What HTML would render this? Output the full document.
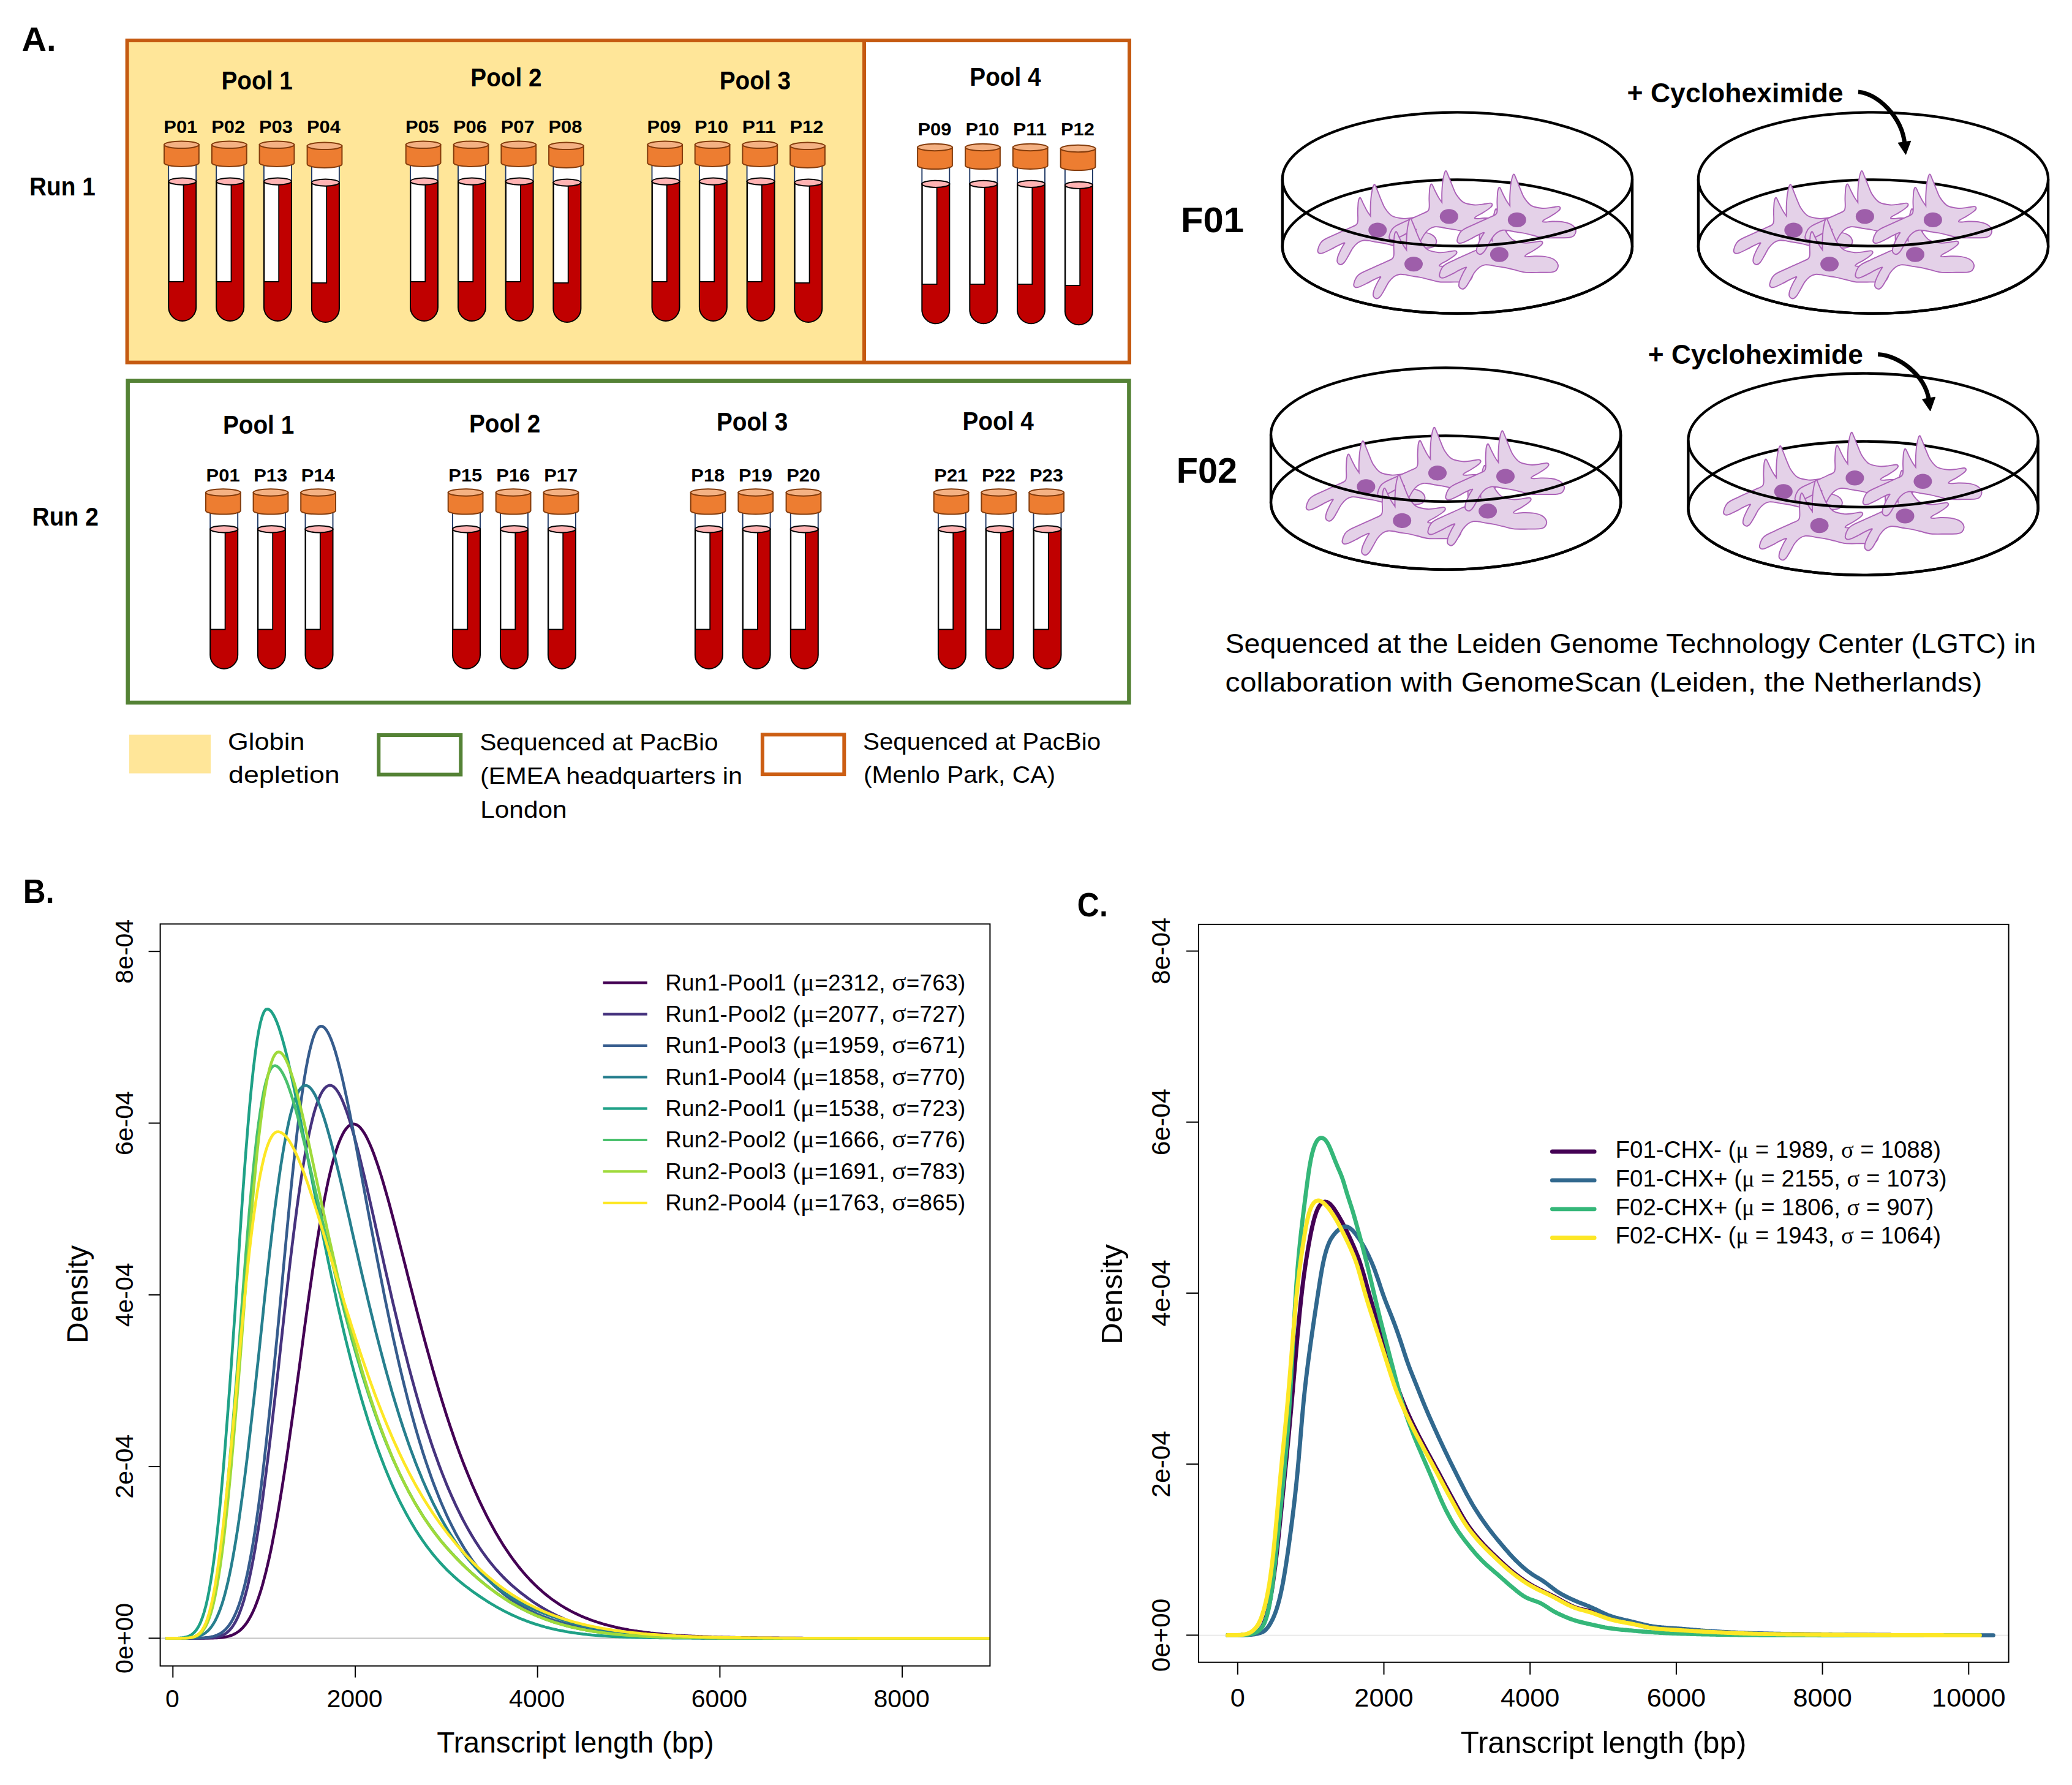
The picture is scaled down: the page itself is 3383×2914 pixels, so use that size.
<!DOCTYPE html>
<html lang="en"><head><meta charset="utf-8"><title>Figure</title>
<style>html,body{margin:0;padding:0;background:#fff}body{width:3383px;height:2914px;overflow:hidden}svg{display:block;font-family:"Liberation Sans", Arial, Helvetica, sans-serif}</style></head><body>
<svg width="3383" height="2914" viewBox="0 0 3383 2914">
<rect width="3383" height="2914" fill="#fff"/>
<defs><g id="cell"><path d="M-28.20,-52.84 C-26.83,-51.81 -24.72,-45.81 -22.87,-42.18 C-21.02,-38.56 -18.98,-34.30 -17.10,-31.08 C-15.21,-27.86 -12.66,-24.51 -11.55,-22.87 C-11.55,-26.29 -11.84,-33.78 -11.55,-39.96 C-11.25,-46.14 -10.77,-54.21 -9.77,-59.95 C-8.77,-65.68 -6.99,-73.27 -5.55,-74.38 C-4.11,-75.49 -2.96,-70.68 -1.11,-66.61 C0.74,-62.54 3.33,-55.14 5.55,-49.96 C7.77,-44.78 9.25,-39.96 12.21,-35.52 C15.17,-31.08 18.50,-26.09 23.31,-23.31 C28.12,-20.54 35.71,-19.43 41.07,-18.87 C46.44,-18.32 51.07,-19.50 55.51,-19.98 C59.95,-20.46 65.20,-21.98 67.72,-21.76 C70.23,-21.54 70.79,-19.98 70.60,-18.65 C70.42,-17.32 69.12,-15.84 66.61,-13.77 C64.09,-11.69 59.21,-8.51 55.51,-6.22 C51.81,-3.92 46.63,-1.55 44.40,0.00 C42.18,1.55 41.63,2.52 42.18,3.11 C42.74,3.70 45.15,3.63 47.74,3.55 C50.33,3.48 53.29,2.70 57.73,2.66 C62.17,2.63 69.20,2.48 74.38,3.33 C79.56,4.18 85.22,5.55 88.81,7.77 C92.40,9.99 95.17,13.69 95.91,16.65 C96.65,19.61 94.99,23.50 93.25,25.53 C91.51,27.57 89.92,28.23 85.48,28.86 C81.04,29.49 73.82,29.27 66.61,29.31 C59.39,29.34 49.22,29.83 42.18,29.09 C35.15,28.35 29.79,26.12 24.42,24.87 C19.06,23.61 14.80,22.46 9.99,21.54 C5.18,20.61 -0.37,20.02 -4.44,19.32 C-8.51,18.61 -11.29,17.72 -14.43,17.32 C-17.58,16.91 -20.35,16.32 -23.31,16.87 C-26.27,17.43 -29.34,18.58 -32.19,20.65 C-35.04,22.72 -37.82,25.72 -40.41,29.31 C-43.00,32.90 -45.40,38.26 -47.74,42.18 C-50.07,46.11 -52.29,50.47 -54.40,52.84 C-56.51,55.21 -58.50,56.51 -60.39,56.39 C-62.28,56.28 -64.98,54.36 -65.72,52.18 C-66.46,49.99 -65.87,46.81 -64.83,43.29 C-63.80,39.78 -61.06,34.30 -59.50,31.08 C-57.95,27.86 -56.47,25.68 -55.51,23.98 C-54.54,22.28 -53.29,21.17 -53.73,20.87 C-54.17,20.57 -56.02,21.31 -58.17,22.20 C-60.32,23.09 -63.72,24.72 -66.61,26.20 C-69.49,27.68 -71.79,29.23 -75.49,31.08 C-79.19,32.93 -85.48,36.19 -88.81,37.30 C-92.14,38.41 -93.99,38.48 -95.47,37.74 C-96.95,37.00 -98.06,35.60 -97.69,32.86 C-97.32,30.12 -95.10,24.24 -93.25,21.31 C-91.40,18.39 -90.85,17.80 -86.59,15.32 C-82.33,12.84 -74.56,9.58 -67.72,6.44 C-60.87,3.29 -51.07,-0.96 -45.52,-3.55 C-39.96,-6.14 -36.63,-7.07 -34.41,-9.10 C-32.19,-11.14 -32.53,-12.43 -32.19,-15.76 C-31.86,-19.09 -32.45,-25.05 -32.42,-29.09 C-32.38,-33.12 -32.19,-36.75 -31.97,-39.96 C-31.75,-43.18 -31.71,-46.26 -31.08,-48.40 C-30.45,-50.55 -29.57,-53.88 -28.20,-52.84Z" fill="#E4D1E8" stroke="#AC62B8" stroke-width="1.9"/><ellipse cx="0" cy="0" rx="15" ry="12.2" fill="#9E5EAA"/></g>
<clipPath id="clipB"><rect x="261.6" y="1508.4" width="1354.8" height="1211.2"/></clipPath>
</defs>
<rect x="207.6" y="66" width="1203.4" height="525.7" fill="#FFE699"/>
<rect x="207.6" y="66" width="1636.4" height="525.7" fill="none" stroke="#C55A11" stroke-width="6"/>
<line x1="1411" y1="66" x2="1411" y2="591.7" stroke="#C55A11" stroke-width="6"/>
<rect x="208.7" y="621.7" width="1634.7" height="525.3" fill="#fff" stroke="#548235" stroke-width="6.5"/>
<rect x="211" y="1199.5" width="133" height="63" fill="#FFE699"/>
<rect x="618.3" y="1200" width="134" height="64.5" fill="#fff" stroke="#548235" stroke-width="6"/>
<rect x="1244.9" y="1199.3" width="133.4" height="64.8" fill="#fff" stroke="#CC5E13" stroke-width="6"/>
<rect x="275.2" y="260.3" width="45.0" height="35.8" fill="#fff" stroke="#1F3864" stroke-width="1.9"/><path d="M275.2,296.1 V501.5 A22.5,22.5 0 0 0 320.2,501.5 V296.1 Z" fill="#C00000" stroke="#000" stroke-width="2"/><rect x="275.8" y="298.3" width="23.8" height="161.5" fill="#fff" stroke="#000" stroke-width="1.8"/><ellipse cx="297.8" cy="296.1" rx="22.5" ry="5.6" fill="#FFB3B3" stroke="#000" stroke-width="2"/><path d="M268.0,236.3 V266.1 A28.4,5.8 0 0 0 324.8,266.1 V236.3 Z" fill="#ED7D31" stroke="#843C0C" stroke-width="2"/><ellipse cx="296.4" cy="236.3" rx="28.4" ry="5.8" fill="#F4B183" stroke="#843C0C" stroke-width="2"/>
<text x="294.8" y="217.0" font-size="29.5" font-weight="bold" text-anchor="middle" textLength="55.0" lengthAdjust="spacingAndGlyphs" fill="#000">P01</text>
<rect x="353.2" y="260.3" width="45.0" height="35.8" fill="#fff" stroke="#1F3864" stroke-width="1.9"/><path d="M353.2,296.1 V501.5 A22.5,22.5 0 0 0 398.2,501.5 V296.1 Z" fill="#C00000" stroke="#000" stroke-width="2"/><rect x="353.7" y="298.3" width="23.8" height="161.5" fill="#fff" stroke="#000" stroke-width="1.8"/><ellipse cx="375.7" cy="296.1" rx="22.5" ry="5.6" fill="#FFB3B3" stroke="#000" stroke-width="2"/><path d="M345.9,236.3 V266.1 A28.4,5.8 0 0 0 402.7,266.1 V236.3 Z" fill="#ED7D31" stroke="#843C0C" stroke-width="2"/><ellipse cx="374.3" cy="236.3" rx="28.4" ry="5.8" fill="#F4B183" stroke="#843C0C" stroke-width="2"/>
<text x="372.7" y="217.0" font-size="29.5" font-weight="bold" text-anchor="middle" textLength="55.0" lengthAdjust="spacingAndGlyphs" fill="#000">P02</text>
<rect x="430.9" y="260.3" width="45.0" height="35.8" fill="#fff" stroke="#1F3864" stroke-width="1.9"/><path d="M430.9,296.1 V501.5 A22.5,22.5 0 0 0 475.9,501.5 V296.1 Z" fill="#C00000" stroke="#000" stroke-width="2"/><rect x="431.4" y="298.3" width="23.8" height="161.5" fill="#fff" stroke="#000" stroke-width="1.8"/><ellipse cx="453.4" cy="296.1" rx="22.5" ry="5.6" fill="#FFB3B3" stroke="#000" stroke-width="2"/><path d="M423.6,236.3 V266.1 A28.4,5.8 0 0 0 480.4,266.1 V236.3 Z" fill="#ED7D31" stroke="#843C0C" stroke-width="2"/><ellipse cx="452.0" cy="236.3" rx="28.4" ry="5.8" fill="#F4B183" stroke="#843C0C" stroke-width="2"/>
<text x="450.4" y="217.0" font-size="29.5" font-weight="bold" text-anchor="middle" textLength="55.0" lengthAdjust="spacingAndGlyphs" fill="#000">P03</text>
<rect x="508.9" y="262.3" width="45.0" height="35.8" fill="#fff" stroke="#1F3864" stroke-width="1.9"/><path d="M508.9,298.1 V503.5 A22.5,22.5 0 0 0 553.9,503.5 V298.1 Z" fill="#C00000" stroke="#000" stroke-width="2"/><rect x="509.4" y="300.3" width="23.8" height="161.5" fill="#fff" stroke="#000" stroke-width="1.8"/><ellipse cx="531.4" cy="298.1" rx="22.5" ry="5.6" fill="#FFB3B3" stroke="#000" stroke-width="2"/><path d="M501.6,238.3 V268.1 A28.4,5.8 0 0 0 558.4,268.1 V238.3 Z" fill="#ED7D31" stroke="#843C0C" stroke-width="2"/><ellipse cx="530.0" cy="238.3" rx="28.4" ry="5.8" fill="#F4B183" stroke="#843C0C" stroke-width="2"/>
<text x="528.4" y="217.0" font-size="29.5" font-weight="bold" text-anchor="middle" textLength="55.0" lengthAdjust="spacingAndGlyphs" fill="#000">P04</text>
<rect x="670.0" y="260.3" width="45.0" height="35.8" fill="#fff" stroke="#1F3864" stroke-width="1.9"/><path d="M670.0,296.1 V501.5 A22.5,22.5 0 0 0 715.0,501.5 V296.1 Z" fill="#C00000" stroke="#000" stroke-width="2"/><rect x="670.5" y="298.3" width="23.8" height="161.5" fill="#fff" stroke="#000" stroke-width="1.8"/><ellipse cx="692.5" cy="296.1" rx="22.5" ry="5.6" fill="#FFB3B3" stroke="#000" stroke-width="2"/><path d="M662.7,236.3 V266.1 A28.4,5.8 0 0 0 719.5,266.1 V236.3 Z" fill="#ED7D31" stroke="#843C0C" stroke-width="2"/><ellipse cx="691.1" cy="236.3" rx="28.4" ry="5.8" fill="#F4B183" stroke="#843C0C" stroke-width="2"/>
<text x="689.5" y="217.0" font-size="29.5" font-weight="bold" text-anchor="middle" textLength="55.0" lengthAdjust="spacingAndGlyphs" fill="#000">P05</text>
<rect x="748.0" y="260.3" width="45.0" height="35.8" fill="#fff" stroke="#1F3864" stroke-width="1.9"/><path d="M748.0,296.1 V501.5 A22.5,22.5 0 0 0 793.0,501.5 V296.1 Z" fill="#C00000" stroke="#000" stroke-width="2"/><rect x="748.5" y="298.3" width="23.8" height="161.5" fill="#fff" stroke="#000" stroke-width="1.8"/><ellipse cx="770.5" cy="296.1" rx="22.5" ry="5.6" fill="#FFB3B3" stroke="#000" stroke-width="2"/><path d="M740.7,236.3 V266.1 A28.4,5.8 0 0 0 797.5,266.1 V236.3 Z" fill="#ED7D31" stroke="#843C0C" stroke-width="2"/><ellipse cx="769.1" cy="236.3" rx="28.4" ry="5.8" fill="#F4B183" stroke="#843C0C" stroke-width="2"/>
<text x="767.5" y="217.0" font-size="29.5" font-weight="bold" text-anchor="middle" textLength="55.0" lengthAdjust="spacingAndGlyphs" fill="#000">P06</text>
<rect x="825.6" y="260.3" width="45.0" height="35.8" fill="#fff" stroke="#1F3864" stroke-width="1.9"/><path d="M825.6,296.1 V501.5 A22.5,22.5 0 0 0 870.6,501.5 V296.1 Z" fill="#C00000" stroke="#000" stroke-width="2"/><rect x="826.1" y="298.3" width="23.8" height="161.5" fill="#fff" stroke="#000" stroke-width="1.8"/><ellipse cx="848.1" cy="296.1" rx="22.5" ry="5.6" fill="#FFB3B3" stroke="#000" stroke-width="2"/><path d="M818.4,236.3 V266.1 A28.4,5.8 0 0 0 875.2,266.1 V236.3 Z" fill="#ED7D31" stroke="#843C0C" stroke-width="2"/><ellipse cx="846.8" cy="236.3" rx="28.4" ry="5.8" fill="#F4B183" stroke="#843C0C" stroke-width="2"/>
<text x="845.2" y="217.0" font-size="29.5" font-weight="bold" text-anchor="middle" textLength="55.0" lengthAdjust="spacingAndGlyphs" fill="#000">P07</text>
<rect x="903.4" y="262.3" width="45.0" height="35.8" fill="#fff" stroke="#1F3864" stroke-width="1.9"/><path d="M903.4,298.1 V503.5 A22.5,22.5 0 0 0 948.4,503.5 V298.1 Z" fill="#C00000" stroke="#000" stroke-width="2"/><rect x="903.9" y="300.3" width="23.8" height="161.5" fill="#fff" stroke="#000" stroke-width="1.8"/><ellipse cx="925.9" cy="298.1" rx="22.5" ry="5.6" fill="#FFB3B3" stroke="#000" stroke-width="2"/><path d="M896.1,238.3 V268.1 A28.4,5.8 0 0 0 952.9,268.1 V238.3 Z" fill="#ED7D31" stroke="#843C0C" stroke-width="2"/><ellipse cx="924.5" cy="238.3" rx="28.4" ry="5.8" fill="#F4B183" stroke="#843C0C" stroke-width="2"/>
<text x="922.9" y="217.0" font-size="29.5" font-weight="bold" text-anchor="middle" textLength="55.0" lengthAdjust="spacingAndGlyphs" fill="#000">P08</text>
<rect x="1064.5" y="260.3" width="45.0" height="35.8" fill="#fff" stroke="#1F3864" stroke-width="1.9"/><path d="M1064.5,296.1 V501.5 A22.5,22.5 0 0 0 1109.5,501.5 V296.1 Z" fill="#C00000" stroke="#000" stroke-width="2"/><rect x="1065.0" y="298.3" width="23.8" height="161.5" fill="#fff" stroke="#000" stroke-width="1.8"/><ellipse cx="1087.0" cy="296.1" rx="22.5" ry="5.6" fill="#FFB3B3" stroke="#000" stroke-width="2"/><path d="M1057.3,236.3 V266.1 A28.4,5.8 0 0 0 1114.1,266.1 V236.3 Z" fill="#ED7D31" stroke="#843C0C" stroke-width="2"/><ellipse cx="1085.7" cy="236.3" rx="28.4" ry="5.8" fill="#F4B183" stroke="#843C0C" stroke-width="2"/>
<text x="1084.1" y="217.0" font-size="29.5" font-weight="bold" text-anchor="middle" textLength="55.0" lengthAdjust="spacingAndGlyphs" fill="#000">P09</text>
<rect x="1141.9" y="260.3" width="45.0" height="35.8" fill="#fff" stroke="#1F3864" stroke-width="1.9"/><path d="M1141.9,296.1 V501.5 A22.5,22.5 0 0 0 1186.9,501.5 V296.1 Z" fill="#C00000" stroke="#000" stroke-width="2"/><rect x="1142.4" y="298.3" width="23.8" height="161.5" fill="#fff" stroke="#000" stroke-width="1.8"/><ellipse cx="1164.4" cy="296.1" rx="22.5" ry="5.6" fill="#FFB3B3" stroke="#000" stroke-width="2"/><path d="M1134.7,236.3 V266.1 A28.4,5.8 0 0 0 1191.5,266.1 V236.3 Z" fill="#ED7D31" stroke="#843C0C" stroke-width="2"/><ellipse cx="1163.1" cy="236.3" rx="28.4" ry="5.8" fill="#F4B183" stroke="#843C0C" stroke-width="2"/>
<text x="1161.5" y="217.0" font-size="29.5" font-weight="bold" text-anchor="middle" textLength="55.0" lengthAdjust="spacingAndGlyphs" fill="#000">P10</text>
<rect x="1219.6" y="260.3" width="45.0" height="35.8" fill="#fff" stroke="#1F3864" stroke-width="1.9"/><path d="M1219.6,296.1 V501.5 A22.5,22.5 0 0 0 1264.6,501.5 V296.1 Z" fill="#C00000" stroke="#000" stroke-width="2"/><rect x="1220.1" y="298.3" width="23.8" height="161.5" fill="#fff" stroke="#000" stroke-width="1.8"/><ellipse cx="1242.1" cy="296.1" rx="22.5" ry="5.6" fill="#FFB3B3" stroke="#000" stroke-width="2"/><path d="M1212.4,236.3 V266.1 A28.4,5.8 0 0 0 1269.2,266.1 V236.3 Z" fill="#ED7D31" stroke="#843C0C" stroke-width="2"/><ellipse cx="1240.8" cy="236.3" rx="28.4" ry="5.8" fill="#F4B183" stroke="#843C0C" stroke-width="2"/>
<text x="1239.2" y="217.0" font-size="29.5" font-weight="bold" text-anchor="middle" textLength="55.0" lengthAdjust="spacingAndGlyphs" fill="#000">P11</text>
<rect x="1297.3" y="262.3" width="45.0" height="35.8" fill="#fff" stroke="#1F3864" stroke-width="1.9"/><path d="M1297.3,298.1 V503.5 A22.5,22.5 0 0 0 1342.3,503.5 V298.1 Z" fill="#C00000" stroke="#000" stroke-width="2"/><rect x="1297.8" y="300.3" width="23.8" height="161.5" fill="#fff" stroke="#000" stroke-width="1.8"/><ellipse cx="1319.8" cy="298.1" rx="22.5" ry="5.6" fill="#FFB3B3" stroke="#000" stroke-width="2"/><path d="M1290.1,238.3 V268.1 A28.4,5.8 0 0 0 1346.9,268.1 V238.3 Z" fill="#ED7D31" stroke="#843C0C" stroke-width="2"/><ellipse cx="1318.5" cy="238.3" rx="28.4" ry="5.8" fill="#F4B183" stroke="#843C0C" stroke-width="2"/>
<text x="1316.9" y="217.0" font-size="29.5" font-weight="bold" text-anchor="middle" textLength="55.0" lengthAdjust="spacingAndGlyphs" fill="#000">P12</text>
<rect x="1505.3" y="264.5" width="45.0" height="35.8" fill="#fff" stroke="#1F3864" stroke-width="1.9"/><path d="M1505.3,300.3 V505.7 A22.5,22.5 0 0 0 1550.3,505.7 V300.3 Z" fill="#C00000" stroke="#000" stroke-width="2"/><rect x="1505.8" y="302.5" width="23.8" height="161.5" fill="#fff" stroke="#000" stroke-width="1.8"/><ellipse cx="1527.8" cy="300.3" rx="22.5" ry="5.6" fill="#FFB3B3" stroke="#000" stroke-width="2"/><path d="M1498.1,240.5 V270.3 A28.4,5.8 0 0 0 1554.9,270.3 V240.5 Z" fill="#ED7D31" stroke="#843C0C" stroke-width="2"/><ellipse cx="1526.5" cy="240.5" rx="28.4" ry="5.8" fill="#F4B183" stroke="#843C0C" stroke-width="2"/>
<text x="1525.9" y="221.2" font-size="29.5" font-weight="bold" text-anchor="middle" textLength="55.0" lengthAdjust="spacingAndGlyphs" fill="#000">P09</text>
<rect x="1583.3" y="264.5" width="45.0" height="35.8" fill="#fff" stroke="#1F3864" stroke-width="1.9"/><path d="M1583.3,300.3 V505.7 A22.5,22.5 0 0 0 1628.3,505.7 V300.3 Z" fill="#C00000" stroke="#000" stroke-width="2"/><rect x="1583.8" y="302.5" width="23.8" height="161.5" fill="#fff" stroke="#000" stroke-width="1.8"/><ellipse cx="1605.8" cy="300.3" rx="22.5" ry="5.6" fill="#FFB3B3" stroke="#000" stroke-width="2"/><path d="M1576.1,240.5 V270.3 A28.4,5.8 0 0 0 1632.9,270.3 V240.5 Z" fill="#ED7D31" stroke="#843C0C" stroke-width="2"/><ellipse cx="1604.5" cy="240.5" rx="28.4" ry="5.8" fill="#F4B183" stroke="#843C0C" stroke-width="2"/>
<text x="1603.9" y="221.2" font-size="29.5" font-weight="bold" text-anchor="middle" textLength="55.0" lengthAdjust="spacingAndGlyphs" fill="#000">P10</text>
<rect x="1661.0" y="264.5" width="45.0" height="35.8" fill="#fff" stroke="#1F3864" stroke-width="1.9"/><path d="M1661.0,300.3 V505.7 A22.5,22.5 0 0 0 1706.0,505.7 V300.3 Z" fill="#C00000" stroke="#000" stroke-width="2"/><rect x="1661.5" y="302.5" width="23.8" height="161.5" fill="#fff" stroke="#000" stroke-width="1.8"/><ellipse cx="1683.5" cy="300.3" rx="22.5" ry="5.6" fill="#FFB3B3" stroke="#000" stroke-width="2"/><path d="M1653.8,240.5 V270.3 A28.4,5.8 0 0 0 1710.6,270.3 V240.5 Z" fill="#ED7D31" stroke="#843C0C" stroke-width="2"/><ellipse cx="1682.2" cy="240.5" rx="28.4" ry="5.8" fill="#F4B183" stroke="#843C0C" stroke-width="2"/>
<text x="1681.6" y="221.2" font-size="29.5" font-weight="bold" text-anchor="middle" textLength="55.0" lengthAdjust="spacingAndGlyphs" fill="#000">P11</text>
<rect x="1738.9" y="266.5" width="45.0" height="35.8" fill="#fff" stroke="#1F3864" stroke-width="1.9"/><path d="M1738.9,302.3 V507.7 A22.5,22.5 0 0 0 1783.9,507.7 V302.3 Z" fill="#C00000" stroke="#000" stroke-width="2"/><rect x="1739.4" y="304.5" width="23.8" height="161.5" fill="#fff" stroke="#000" stroke-width="1.8"/><ellipse cx="1761.4" cy="302.3" rx="22.5" ry="5.6" fill="#FFB3B3" stroke="#000" stroke-width="2"/><path d="M1731.7,242.5 V272.3 A28.4,5.8 0 0 0 1788.5,272.3 V242.5 Z" fill="#ED7D31" stroke="#843C0C" stroke-width="2"/><ellipse cx="1760.1" cy="242.5" rx="28.4" ry="5.8" fill="#F4B183" stroke="#843C0C" stroke-width="2"/>
<text x="1759.5" y="221.2" font-size="29.5" font-weight="bold" text-anchor="middle" textLength="55.0" lengthAdjust="spacingAndGlyphs" fill="#000">P12</text>
<rect x="343.2" y="828.0" width="45.0" height="35.8" fill="#fff" stroke="#1F3864" stroke-width="1.9"/><path d="M343.2,863.8 V1069.2 A22.5,22.5 0 0 0 388.2,1069.2 V863.8 Z" fill="#C00000" stroke="#000" stroke-width="2"/><rect x="343.8" y="866.0" width="23.8" height="161.5" fill="#fff" stroke="#000" stroke-width="1.8"/><ellipse cx="365.8" cy="863.8" rx="22.5" ry="5.6" fill="#FFB3B3" stroke="#000" stroke-width="2"/><path d="M336.0,804.0 V833.8 A28.4,5.8 0 0 0 392.8,833.8 V804.0 Z" fill="#ED7D31" stroke="#843C0C" stroke-width="2"/><ellipse cx="364.4" cy="804.0" rx="28.4" ry="5.8" fill="#F4B183" stroke="#843C0C" stroke-width="2"/>
<text x="364.1" y="785.6" font-size="29.5" font-weight="bold" text-anchor="middle" textLength="55.0" lengthAdjust="spacingAndGlyphs" fill="#000">P01</text>
<rect x="420.9" y="828.0" width="45.0" height="35.8" fill="#fff" stroke="#1F3864" stroke-width="1.9"/><path d="M420.9,863.8 V1069.2 A22.5,22.5 0 0 0 465.9,1069.2 V863.8 Z" fill="#C00000" stroke="#000" stroke-width="2"/><rect x="421.4" y="866.0" width="23.8" height="161.5" fill="#fff" stroke="#000" stroke-width="1.8"/><ellipse cx="443.4" cy="863.8" rx="22.5" ry="5.6" fill="#FFB3B3" stroke="#000" stroke-width="2"/><path d="M413.6,804.0 V833.8 A28.4,5.8 0 0 0 470.4,833.8 V804.0 Z" fill="#ED7D31" stroke="#843C0C" stroke-width="2"/><ellipse cx="442.0" cy="804.0" rx="28.4" ry="5.8" fill="#F4B183" stroke="#843C0C" stroke-width="2"/>
<text x="441.7" y="785.6" font-size="29.5" font-weight="bold" text-anchor="middle" textLength="55.0" lengthAdjust="spacingAndGlyphs" fill="#000">P13</text>
<rect x="498.5" y="828.0" width="45.0" height="35.8" fill="#fff" stroke="#1F3864" stroke-width="1.9"/><path d="M498.5,863.8 V1069.2 A22.5,22.5 0 0 0 543.5,1069.2 V863.8 Z" fill="#C00000" stroke="#000" stroke-width="2"/><rect x="499.0" y="866.0" width="23.8" height="161.5" fill="#fff" stroke="#000" stroke-width="1.8"/><ellipse cx="521.0" cy="863.8" rx="22.5" ry="5.6" fill="#FFB3B3" stroke="#000" stroke-width="2"/><path d="M491.2,804.0 V833.8 A28.4,5.8 0 0 0 548.0,833.8 V804.0 Z" fill="#ED7D31" stroke="#843C0C" stroke-width="2"/><ellipse cx="519.6" cy="804.0" rx="28.4" ry="5.8" fill="#F4B183" stroke="#843C0C" stroke-width="2"/>
<text x="519.3" y="785.6" font-size="29.5" font-weight="bold" text-anchor="middle" textLength="55.0" lengthAdjust="spacingAndGlyphs" fill="#000">P14</text>
<rect x="739.0" y="828.0" width="45.0" height="35.8" fill="#fff" stroke="#1F3864" stroke-width="1.9"/><path d="M739.0,863.8 V1069.2 A22.5,22.5 0 0 0 784.0,1069.2 V863.8 Z" fill="#C00000" stroke="#000" stroke-width="2"/><rect x="739.5" y="866.0" width="23.8" height="161.5" fill="#fff" stroke="#000" stroke-width="1.8"/><ellipse cx="761.5" cy="863.8" rx="22.5" ry="5.6" fill="#FFB3B3" stroke="#000" stroke-width="2"/><path d="M731.7,804.0 V833.8 A28.4,5.8 0 0 0 788.5,833.8 V804.0 Z" fill="#ED7D31" stroke="#843C0C" stroke-width="2"/><ellipse cx="760.1" cy="804.0" rx="28.4" ry="5.8" fill="#F4B183" stroke="#843C0C" stroke-width="2"/>
<text x="759.8" y="785.6" font-size="29.5" font-weight="bold" text-anchor="middle" textLength="55.0" lengthAdjust="spacingAndGlyphs" fill="#000">P15</text>
<rect x="817.0" y="828.0" width="45.0" height="35.8" fill="#fff" stroke="#1F3864" stroke-width="1.9"/><path d="M817.0,863.8 V1069.2 A22.5,22.5 0 0 0 862.0,1069.2 V863.8 Z" fill="#C00000" stroke="#000" stroke-width="2"/><rect x="817.5" y="866.0" width="23.8" height="161.5" fill="#fff" stroke="#000" stroke-width="1.8"/><ellipse cx="839.5" cy="863.8" rx="22.5" ry="5.6" fill="#FFB3B3" stroke="#000" stroke-width="2"/><path d="M809.7,804.0 V833.8 A28.4,5.8 0 0 0 866.5,833.8 V804.0 Z" fill="#ED7D31" stroke="#843C0C" stroke-width="2"/><ellipse cx="838.1" cy="804.0" rx="28.4" ry="5.8" fill="#F4B183" stroke="#843C0C" stroke-width="2"/>
<text x="837.8" y="785.6" font-size="29.5" font-weight="bold" text-anchor="middle" textLength="55.0" lengthAdjust="spacingAndGlyphs" fill="#000">P16</text>
<rect x="894.9" y="828.0" width="45.0" height="35.8" fill="#fff" stroke="#1F3864" stroke-width="1.9"/><path d="M894.9,863.8 V1069.2 A22.5,22.5 0 0 0 939.9,1069.2 V863.8 Z" fill="#C00000" stroke="#000" stroke-width="2"/><rect x="895.4" y="866.0" width="23.8" height="161.5" fill="#fff" stroke="#000" stroke-width="1.8"/><ellipse cx="917.4" cy="863.8" rx="22.5" ry="5.6" fill="#FFB3B3" stroke="#000" stroke-width="2"/><path d="M887.6,804.0 V833.8 A28.4,5.8 0 0 0 944.4,833.8 V804.0 Z" fill="#ED7D31" stroke="#843C0C" stroke-width="2"/><ellipse cx="916.0" cy="804.0" rx="28.4" ry="5.8" fill="#F4B183" stroke="#843C0C" stroke-width="2"/>
<text x="915.7" y="785.6" font-size="29.5" font-weight="bold" text-anchor="middle" textLength="55.0" lengthAdjust="spacingAndGlyphs" fill="#000">P17</text>
<rect x="1134.9" y="828.0" width="45.0" height="35.8" fill="#fff" stroke="#1F3864" stroke-width="1.9"/><path d="M1134.9,863.8 V1069.2 A22.5,22.5 0 0 0 1179.9,1069.2 V863.8 Z" fill="#C00000" stroke="#000" stroke-width="2"/><rect x="1135.4" y="866.0" width="23.8" height="161.5" fill="#fff" stroke="#000" stroke-width="1.8"/><ellipse cx="1157.4" cy="863.8" rx="22.5" ry="5.6" fill="#FFB3B3" stroke="#000" stroke-width="2"/><path d="M1127.7,804.0 V833.8 A28.4,5.8 0 0 0 1184.5,833.8 V804.0 Z" fill="#ED7D31" stroke="#843C0C" stroke-width="2"/><ellipse cx="1156.1" cy="804.0" rx="28.4" ry="5.8" fill="#F4B183" stroke="#843C0C" stroke-width="2"/>
<text x="1155.8" y="785.6" font-size="29.5" font-weight="bold" text-anchor="middle" textLength="55.0" lengthAdjust="spacingAndGlyphs" fill="#000">P18</text>
<rect x="1212.6" y="828.0" width="45.0" height="35.8" fill="#fff" stroke="#1F3864" stroke-width="1.9"/><path d="M1212.6,863.8 V1069.2 A22.5,22.5 0 0 0 1257.6,1069.2 V863.8 Z" fill="#C00000" stroke="#000" stroke-width="2"/><rect x="1213.1" y="866.0" width="23.8" height="161.5" fill="#fff" stroke="#000" stroke-width="1.8"/><ellipse cx="1235.1" cy="863.8" rx="22.5" ry="5.6" fill="#FFB3B3" stroke="#000" stroke-width="2"/><path d="M1205.4,804.0 V833.8 A28.4,5.8 0 0 0 1262.2,833.8 V804.0 Z" fill="#ED7D31" stroke="#843C0C" stroke-width="2"/><ellipse cx="1233.8" cy="804.0" rx="28.4" ry="5.8" fill="#F4B183" stroke="#843C0C" stroke-width="2"/>
<text x="1233.5" y="785.6" font-size="29.5" font-weight="bold" text-anchor="middle" textLength="55.0" lengthAdjust="spacingAndGlyphs" fill="#000">P19</text>
<rect x="1290.8" y="828.0" width="45.0" height="35.8" fill="#fff" stroke="#1F3864" stroke-width="1.9"/><path d="M1290.8,863.8 V1069.2 A22.5,22.5 0 0 0 1335.8,1069.2 V863.8 Z" fill="#C00000" stroke="#000" stroke-width="2"/><rect x="1291.3" y="866.0" width="23.8" height="161.5" fill="#fff" stroke="#000" stroke-width="1.8"/><ellipse cx="1313.3" cy="863.8" rx="22.5" ry="5.6" fill="#FFB3B3" stroke="#000" stroke-width="2"/><path d="M1283.6,804.0 V833.8 A28.4,5.8 0 0 0 1340.4,833.8 V804.0 Z" fill="#ED7D31" stroke="#843C0C" stroke-width="2"/><ellipse cx="1312.0" cy="804.0" rx="28.4" ry="5.8" fill="#F4B183" stroke="#843C0C" stroke-width="2"/>
<text x="1311.7" y="785.6" font-size="29.5" font-weight="bold" text-anchor="middle" textLength="55.0" lengthAdjust="spacingAndGlyphs" fill="#000">P20</text>
<rect x="1531.9" y="828.0" width="45.0" height="35.8" fill="#fff" stroke="#1F3864" stroke-width="1.9"/><path d="M1531.9,863.8 V1069.2 A22.5,22.5 0 0 0 1576.9,1069.2 V863.8 Z" fill="#C00000" stroke="#000" stroke-width="2"/><rect x="1532.4" y="866.0" width="23.8" height="161.5" fill="#fff" stroke="#000" stroke-width="1.8"/><ellipse cx="1554.4" cy="863.8" rx="22.5" ry="5.6" fill="#FFB3B3" stroke="#000" stroke-width="2"/><path d="M1524.7,804.0 V833.8 A28.4,5.8 0 0 0 1581.5,833.8 V804.0 Z" fill="#ED7D31" stroke="#843C0C" stroke-width="2"/><ellipse cx="1553.1" cy="804.0" rx="28.4" ry="5.8" fill="#F4B183" stroke="#843C0C" stroke-width="2"/>
<text x="1552.8" y="785.6" font-size="29.5" font-weight="bold" text-anchor="middle" textLength="55.0" lengthAdjust="spacingAndGlyphs" fill="#000">P21</text>
<rect x="1609.6" y="828.0" width="45.0" height="35.8" fill="#fff" stroke="#1F3864" stroke-width="1.9"/><path d="M1609.6,863.8 V1069.2 A22.5,22.5 0 0 0 1654.6,1069.2 V863.8 Z" fill="#C00000" stroke="#000" stroke-width="2"/><rect x="1610.1" y="866.0" width="23.8" height="161.5" fill="#fff" stroke="#000" stroke-width="1.8"/><ellipse cx="1632.1" cy="863.8" rx="22.5" ry="5.6" fill="#FFB3B3" stroke="#000" stroke-width="2"/><path d="M1602.4,804.0 V833.8 A28.4,5.8 0 0 0 1659.2,833.8 V804.0 Z" fill="#ED7D31" stroke="#843C0C" stroke-width="2"/><ellipse cx="1630.8" cy="804.0" rx="28.4" ry="5.8" fill="#F4B183" stroke="#843C0C" stroke-width="2"/>
<text x="1630.5" y="785.6" font-size="29.5" font-weight="bold" text-anchor="middle" textLength="55.0" lengthAdjust="spacingAndGlyphs" fill="#000">P22</text>
<rect x="1687.5" y="828.0" width="45.0" height="35.8" fill="#fff" stroke="#1F3864" stroke-width="1.9"/><path d="M1687.5,863.8 V1069.2 A22.5,22.5 0 0 0 1732.5,1069.2 V863.8 Z" fill="#C00000" stroke="#000" stroke-width="2"/><rect x="1688.0" y="866.0" width="23.8" height="161.5" fill="#fff" stroke="#000" stroke-width="1.8"/><ellipse cx="1710.0" cy="863.8" rx="22.5" ry="5.6" fill="#FFB3B3" stroke="#000" stroke-width="2"/><path d="M1680.3,804.0 V833.8 A28.4,5.8 0 0 0 1737.1,833.8 V804.0 Z" fill="#ED7D31" stroke="#843C0C" stroke-width="2"/><ellipse cx="1708.7" cy="804.0" rx="28.4" ry="5.8" fill="#F4B183" stroke="#843C0C" stroke-width="2"/>
<text x="1708.4" y="785.6" font-size="29.5" font-weight="bold" text-anchor="middle" textLength="55.0" lengthAdjust="spacingAndGlyphs" fill="#000">P23</text>
<text x="35.6" y="82.7" font-size="55" font-weight="bold" textLength="56.0" lengthAdjust="spacingAndGlyphs" fill="#000">A.</text>
<text x="48.0" y="318.6" font-size="42" font-weight="bold" textLength="107.7" lengthAdjust="spacingAndGlyphs" fill="#000">Run 1</text>
<text x="52.5" y="858.0" font-size="42" font-weight="bold" textLength="108.5" lengthAdjust="spacingAndGlyphs" fill="#000">Run 2</text>
<text x="361.5" y="145.5" font-size="42" font-weight="bold" textLength="116.3" lengthAdjust="spacingAndGlyphs" fill="#000">Pool 1</text>
<text x="768.3" y="141.0" font-size="42" font-weight="bold" textLength="116.3" lengthAdjust="spacingAndGlyphs" fill="#000">Pool 2</text>
<text x="1174.7" y="145.5" font-size="42" font-weight="bold" textLength="116.3" lengthAdjust="spacingAndGlyphs" fill="#000">Pool 3</text>
<text x="1583.3" y="139.5" font-size="42" font-weight="bold" textLength="116.3" lengthAdjust="spacingAndGlyphs" fill="#000">Pool 4</text>
<text x="363.9" y="708.0" font-size="42" font-weight="bold" textLength="116.3" lengthAdjust="spacingAndGlyphs" fill="#000">Pool 1</text>
<text x="765.9" y="706.0" font-size="42" font-weight="bold" textLength="116.3" lengthAdjust="spacingAndGlyphs" fill="#000">Pool 2</text>
<text x="1169.9" y="703.0" font-size="42" font-weight="bold" textLength="116.3" lengthAdjust="spacingAndGlyphs" fill="#000">Pool 3</text>
<text x="1571.5" y="702.0" font-size="42" font-weight="bold" textLength="116.3" lengthAdjust="spacingAndGlyphs" fill="#000">Pool 4</text>
<text x="372.0" y="1223.9" font-size="39.5" textLength="125.4" lengthAdjust="spacingAndGlyphs" fill="#000">Globin</text>
<text x="373.0" y="1278.1" font-size="39.5" textLength="181.7" lengthAdjust="spacingAndGlyphs" fill="#000">depletion</text>
<text x="783.4" y="1225.0" font-size="39.5" textLength="389.1" lengthAdjust="spacingAndGlyphs" fill="#000">Sequenced at PacBio</text>
<text x="783.9" y="1280.0" font-size="39.5" textLength="428.2" lengthAdjust="spacingAndGlyphs" fill="#000">(EMEA headquarters in</text>
<text x="784.2" y="1334.8" font-size="39.5" textLength="141.4" lengthAdjust="spacingAndGlyphs" fill="#000">London</text>
<text x="1409.0" y="1223.9" font-size="39.5" textLength="388.1" lengthAdjust="spacingAndGlyphs" fill="#000">Sequenced at PacBio</text>
<text x="1410.0" y="1278.1" font-size="39.5" textLength="313.0" lengthAdjust="spacingAndGlyphs" fill="#000">(Menlo Park, CA)</text>
<text x="1928.0" y="378.5" font-size="57" font-weight="bold" textLength="103.0" lengthAdjust="spacingAndGlyphs" fill="#000">F01</text>
<text x="1920.8" y="788.4" font-size="57" font-weight="bold" textLength="99.4" lengthAdjust="spacingAndGlyphs" fill="#000">F02</text>
<text x="2656.5" y="167.3" font-size="45" font-weight="bold" textLength="353.0" lengthAdjust="spacingAndGlyphs" fill="#000">+ Cycloheximide</text>
<text x="2690.8" y="593.7" font-size="45" font-weight="bold" textLength="351.0" lengthAdjust="spacingAndGlyphs" fill="#000">+ Cycloheximide</text>
<text x="2000.6" y="1065.6" font-size="45" textLength="1323.6" lengthAdjust="spacingAndGlyphs" fill="#000">Sequenced at the Leiden Genome Technology Center (LGTC) in</text>
<text x="2000.6" y="1128.8" font-size="45" textLength="1235.6" lengthAdjust="spacingAndGlyphs" fill="#000">collaboration with GenomeScan (Leiden, the Netherlands)</text>
<ellipse cx="2379.4" cy="402.5" rx="285.6" ry="109.2" fill="none" stroke="#000" stroke-width="4.3"/>
<use href="#cell" x="2249.2" y="375.6"/>
<use href="#cell" x="2365.8" y="353.4"/>
<use href="#cell" x="2308.0" y="431.1"/>
<use href="#cell" x="2447.9" y="415.5"/>
<use href="#cell" x="2476.8" y="358.9"/>
<g fill="none" stroke="#000" stroke-width="4.3"><ellipse cx="2379.4" cy="292.5" rx="285.6" ry="109.2"/><line x1="2093.8" y1="292.5" x2="2093.8" y2="402.5"/><line x1="2665.0" y1="292.5" x2="2665.0" y2="402.5"/><path d="M2093.8,402.5 A285.6,109.2 0 0 0 2665.0,402.5"/></g>
<ellipse cx="3058.5" cy="402.5" rx="285.6" ry="109.2" fill="none" stroke="#000" stroke-width="4.3"/>
<use href="#cell" x="2928.3" y="375.6"/>
<use href="#cell" x="3044.9" y="353.4"/>
<use href="#cell" x="2987.1" y="431.1"/>
<use href="#cell" x="3127.0" y="415.5"/>
<use href="#cell" x="3155.9" y="358.9"/>
<g fill="none" stroke="#000" stroke-width="4.3"><ellipse cx="3058.5" cy="292.5" rx="285.6" ry="109.2"/><line x1="2772.9" y1="292.5" x2="2772.9" y2="402.5"/><line x1="3344.1" y1="292.5" x2="3344.1" y2="402.5"/><path d="M2772.9,402.5 A285.6,109.2 0 0 0 3344.1,402.5"/></g>
<ellipse cx="2360.6" cy="820.6" rx="285.6" ry="109.2" fill="none" stroke="#000" stroke-width="4.3"/>
<use href="#cell" x="2230.4" y="794.4"/>
<use href="#cell" x="2347.0" y="772.2"/>
<use href="#cell" x="2289.2" y="849.9"/>
<use href="#cell" x="2429.1" y="834.3"/>
<use href="#cell" x="2458.0" y="777.7"/>
<g fill="none" stroke="#000" stroke-width="4.3"><ellipse cx="2360.6" cy="709.6" rx="285.6" ry="109.2"/><line x1="2075.0" y1="709.6" x2="2075.0" y2="820.6"/><line x1="2646.2" y1="709.6" x2="2646.2" y2="820.6"/><path d="M2075.0,820.6 A285.6,109.2 0 0 0 2646.2,820.6"/></g>
<ellipse cx="3042" cy="829.7" rx="285.6" ry="109.2" fill="none" stroke="#000" stroke-width="4.3"/>
<use href="#cell" x="2911.8" y="802.5"/>
<use href="#cell" x="3028.4" y="780.3"/>
<use href="#cell" x="2970.6" y="858.0"/>
<use href="#cell" x="3110.5" y="842.4"/>
<use href="#cell" x="3139.4" y="785.8"/>
<g fill="none" stroke="#000" stroke-width="4.3"><ellipse cx="3042" cy="718.7" rx="285.6" ry="109.2"/><line x1="2756.4" y1="718.7" x2="2756.4" y2="829.7"/><line x1="3327.6" y1="718.7" x2="3327.6" y2="829.7"/><path d="M2756.4,829.7 A285.6,109.2 0 0 0 3327.6,829.7"/></g>
<path d="M3034,150 C3064,152 3106,190 3110,236" fill="none" stroke="#000" stroke-width="7"/>
<path d="M3099.5,233.4 L3119.3,230.5 L3111.5,251.7 Z" fill="#000" stroke="#000" stroke-width="1.5" stroke-linejoin="round"/>
<path d="M3066.2,578.6 C3100,580 3143,612 3149.5,653" fill="none" stroke="#000" stroke-width="7"/>
<path d="M3139.1,652 L3159.3,648.6 L3151.6,670.3 Z" fill="#000" stroke="#000" stroke-width="1.5" stroke-linejoin="round"/>
<line x1="261.6" y1="2674.4" x2="1616.4" y2="2674.4" stroke="#BEBEBE" stroke-width="1.6"/>
<g clip-path="url(#clipB)" fill="none" stroke-width="4.6" stroke-linejoin="round">
<path d="M270.4,2674.4 L273.4,2674.4 L276.3,2674.4 L279.3,2674.4 L282.3,2674.4 L285.3,2674.4 L288.3,2674.4 L291.2,2674.4 L294.2,2674.4 L297.2,2674.4 L300.2,2674.4 L303.1,2674.4 L306.1,2674.4 L309.1,2674.4 L312.1,2674.4 L315.0,2674.4 L318.0,2674.4 L321.0,2674.4 L324.0,2674.4 L327.0,2674.4 L329.9,2674.4 L332.9,2674.4 L335.9,2674.3 L338.9,2674.3 L341.8,2674.3 L344.8,2674.2 L347.8,2674.1 L350.8,2674.0 L353.7,2673.9 L356.7,2673.7 L359.7,2673.5 L362.7,2673.1 L365.7,2672.7 L368.6,2672.2 L371.6,2671.6 L374.6,2670.8 L377.6,2669.8 L380.5,2668.6 L383.5,2667.2 L386.5,2665.4 L389.5,2663.4 L392.4,2661.0 L395.4,2658.2 L398.4,2654.9 L401.4,2651.2 L404.4,2646.9 L407.3,2642.0 L410.3,2636.6 L413.3,2630.4 L416.3,2623.6 L419.2,2616.1 L422.2,2607.8 L425.2,2598.7 L428.2,2588.8 L431.1,2578.0 L434.1,2566.5 L437.1,2554.0 L440.1,2540.8 L443.1,2526.7 L446.0,2511.8 L449.0,2496.1 L452.0,2479.7 L455.0,2462.5 L457.9,2444.6 L460.9,2426.1 L463.9,2406.9 L466.9,2387.3 L469.9,2367.1 L472.8,2346.5 L475.8,2325.6 L478.8,2304.3 L481.8,2282.9 L484.7,2261.3 L487.7,2239.6 L490.7,2217.1 L493.7,2194.8 L496.6,2172.6 L499.6,2150.7 L502.6,2129.1 L505.6,2107.8 L508.6,2087.1 L511.5,2066.8 L514.5,2047.2 L517.5,2028.2 L520.5,2009.8 L523.4,1992.3 L526.4,1975.5 L529.4,1959.6 L532.4,1944.6 L535.3,1930.4 L538.3,1917.2 L541.3,1905.0 L544.3,1893.7 L547.3,1883.4 L550.2,1874.1 L553.2,1865.8 L556.2,1858.5 L559.2,1852.2 L562.1,1846.9 L565.1,1842.6 L568.1,1839.3 L571.1,1836.9 L574.0,1835.4 L577.0,1834.9 L580.0,1835.3 L583.0,1836.6 L586.0,1838.7 L588.9,1841.7 L591.9,1845.5 L594.9,1850.0 L597.9,1855.2 L600.8,1861.1 L603.8,1867.6 L606.8,1874.6 L609.8,1882.3 L612.7,1890.4 L615.7,1899.0 L618.7,1908.0 L621.7,1917.4 L624.7,1927.1 L627.6,1937.2 L630.6,1947.6 L633.6,1958.2 L636.6,1969.1 L639.5,1980.1 L642.5,1991.4 L645.5,2002.8 L648.5,2014.3 L651.4,2025.9 L654.4,2037.5 L657.4,2049.3 L660.4,2061.0 L663.4,2072.8 L666.3,2084.5 L669.3,2096.1 L672.3,2107.7 L675.3,2119.3 L678.2,2130.8 L681.2,2142.2 L684.2,2153.6 L687.2,2164.8 L690.1,2176.0 L693.1,2187.1 L696.1,2198.1 L699.1,2208.9 L702.1,2219.6 L705.0,2230.2 L708.0,2240.7 L711.0,2251.0 L714.0,2261.1 L716.9,2271.1 L719.9,2280.9 L722.9,2290.6 L725.9,2300.1 L728.8,2309.5 L731.8,2318.6 L734.8,2327.7 L737.8,2336.5 L740.8,2345.2 L743.7,2353.7 L746.7,2362.0 L749.7,2370.2 L752.7,2378.2 L755.6,2386.0 L758.6,2393.7 L761.6,2401.2 L764.6,2408.5 L767.6,2415.7 L770.5,2422.8 L773.5,2429.7 L776.5,2436.4 L779.5,2443.0 L782.4,2449.5 L785.4,2455.8 L788.4,2462.0 L791.4,2468.1 L794.3,2474.0 L797.3,2479.8 L800.3,2485.4 L803.3,2490.9 L806.3,2496.3 L809.2,2501.6 L812.2,2506.7 L815.2,2511.7 L818.2,2516.6 L821.1,2521.4 L824.1,2526.0 L827.1,2530.5 L830.1,2534.9 L833.0,2539.2 L836.0,2543.4 L839.0,2547.5 L842.0,2551.4 L845.0,2555.3 L847.9,2559.0 L850.9,2562.7 L853.9,2566.2 L856.9,2569.7 L859.8,2573.0 L862.8,2576.3 L865.8,2579.5 L868.8,2582.5 L871.7,2585.5 L874.7,2588.4 L877.7,2591.2 L880.7,2594.0 L883.7,2596.6 L886.6,2599.2 L889.6,2601.7 L892.6,2604.1 L895.6,2606.5 L898.5,2608.8 L901.5,2611.0 L904.5,2613.1 L907.5,2615.2 L910.4,2617.2 L913.4,2619.2 L916.4,2621.1 L919.4,2622.9 L922.4,2624.7 L925.3,2626.4 L928.3,2628.0 L931.3,2629.7 L934.3,2631.2 L937.2,2632.7 L940.2,2634.2 L943.2,2635.6 L946.2,2637.0 L949.1,2638.3 L952.1,2639.6 L955.1,2640.8 L958.1,2642.0 L961.1,2643.2 L964.0,2644.3 L967.0,2645.4 L970.0,2646.4 L973.0,2647.4 L975.9,2648.4 L978.9,2649.3 L981.9,2650.2 L984.9,2651.1 L987.8,2652.0 L990.8,2652.8 L993.8,2653.6 L996.8,2654.3 L999.8,2655.1 L1002.7,2655.8 L1005.7,2656.5 L1008.7,2657.2 L1011.7,2657.8 L1014.6,2658.4 L1017.6,2659.0 L1020.6,2659.6 L1023.6,2660.1 L1026.5,2660.7 L1029.5,2661.2 L1032.5,2661.7 L1035.5,2662.2 L1038.5,2662.6 L1041.4,2663.1 L1044.4,2663.5 L1047.4,2663.9 L1050.4,2664.3 L1053.3,2664.7 L1056.3,2665.1 L1059.3,2665.4 L1062.3,2665.8 L1065.3,2666.1 L1068.2,2666.4 L1071.2,2666.7 L1074.2,2667.0 L1077.2,2667.3 L1080.1,2667.6 L1083.1,2667.9 L1086.1,2668.1 L1089.1,2668.4 L1092.0,2668.6 L1095.0,2668.8 L1098.0,2669.1 L1101.0,2669.3 L1104.0,2669.5 L1106.9,2669.7 L1109.9,2669.9 L1112.9,2670.0 L1115.9,2670.2 L1118.8,2670.4 L1121.8,2670.5 L1124.8,2670.7 L1127.8,2670.8 L1130.7,2671.0 L1133.7,2671.1 L1136.7,2671.3 L1139.7,2671.4 L1142.7,2671.5 L1145.6,2671.6 L1148.6,2671.7 L1151.6,2671.8 L1154.6,2671.9 L1157.5,2672.0 L1160.5,2672.1 L1163.5,2672.2 L1166.5,2672.3 L1169.4,2672.4 L1172.4,2672.5 L1175.4,2672.6 L1178.4,2672.6 L1181.4,2672.7 L1184.3,2672.8 L1187.3,2672.9 L1190.3,2672.9 L1193.3,2673.0 L1196.2,2673.0 L1199.2,2673.1 L1202.2,2673.2 L1205.2,2673.2 L1208.1,2673.3 L1211.1,2673.3 L1214.1,2673.3 L1217.1,2673.4 L1220.1,2673.4 L1223.0,2673.5 L1226.0,2673.5 L1229.0,2673.6 L1232.0,2673.6 L1234.9,2673.6 L1237.9,2673.7 L1240.9,2673.7 L1243.9,2673.7 L1246.8,2673.7 L1249.8,2673.8 L1252.8,2673.8 L1255.8,2673.8 L1258.8,2673.9 L1261.7,2673.9 L1264.7,2673.9 L1267.7,2673.9 L1270.7,2673.9 L1273.6,2674.0 L1276.6,2674.0 L1279.6,2674.0 L1282.6,2674.0 L1285.5,2674.0 L1288.5,2674.0 L1291.5,2674.1 L1294.5,2674.1 L1297.5,2674.1 L1300.4,2674.1 L1303.4,2674.1 L1306.4,2674.1 L1309.4,2674.1 L1312.3,2674.2 L1315.3,2674.2 L1318.3,2674.2 L1321.3,2674.2 L1324.2,2674.2 L1327.2,2674.2 L1330.2,2674.2 L1333.2,2674.2 L1336.2,2674.2 L1339.1,2674.2 L1342.1,2674.2 L1345.1,2674.3 L1348.1,2674.3 L1351.0,2674.3 L1354.0,2674.3 L1357.0,2674.3 L1360.0,2674.3 L1363.0,2674.3 L1365.9,2674.3 L1368.9,2674.3 L1371.9,2674.3 L1374.9,2674.3 L1377.8,2674.3 L1380.8,2674.3 L1383.8,2674.3 L1386.8,2674.3 L1389.7,2674.3 L1392.7,2674.3 L1395.7,2674.3 L1398.7,2674.3 L1401.7,2674.3 L1404.6,2674.3 L1407.6,2674.3 L1410.6,2674.3 L1413.6,2674.3 L1416.5,2674.4 L1419.5,2674.4 L1422.5,2674.4 L1425.5,2674.4 L1428.4,2674.4 L1431.4,2674.4 L1434.4,2674.4 L1437.4,2674.4 L1440.4,2674.4 L1443.3,2674.4 L1446.3,2674.4 L1449.3,2674.4 L1452.3,2674.4 L1455.2,2674.4 L1458.2,2674.4 L1461.2,2674.4 L1464.2,2674.4 L1467.1,2674.4 L1470.1,2674.4 L1473.1,2674.4 L1476.1,2674.4 L1479.1,2674.4 L1482.0,2674.4 L1485.0,2674.4 L1488.0,2674.4 L1491.0,2674.4 L1493.9,2674.4 L1496.9,2674.4 L1499.9,2674.4 L1502.9,2674.4 L1505.8,2674.4 L1508.8,2674.4 L1511.8,2674.4 L1514.8,2674.4 L1517.8,2674.4 L1520.7,2674.4 L1523.7,2674.4 L1526.7,2674.4 L1529.7,2674.4 L1532.6,2674.4 L1535.6,2674.4 L1538.6,2674.4 L1541.6,2674.4 L1544.5,2674.4 L1547.5,2674.4 L1550.5,2674.4 L1553.5,2674.4 L1556.5,2674.4 L1559.4,2674.4 L1562.4,2674.4 L1565.4,2674.4 L1568.4,2674.4 L1571.3,2674.4 L1574.3,2674.4 L1577.3,2674.4 L1580.3,2674.4 L1583.2,2674.4 L1586.2,2674.4 L1589.2,2674.4 L1592.2,2674.4 L1595.2,2674.4 L1598.1,2674.4 L1601.1,2674.4 L1604.1,2674.4 L1607.1,2674.4 L1610.0,2674.4 L1613.0,2674.4 L1616.0,2674.4 L1619.0,2674.4 L1621.9,2674.4" stroke="#440154"/>
<path d="M270.4,2674.4 L273.4,2674.4 L276.3,2674.4 L279.3,2674.4 L282.3,2674.4 L285.3,2674.4 L288.3,2674.4 L291.2,2674.4 L294.2,2674.4 L297.2,2674.4 L300.2,2674.4 L303.1,2674.4 L306.1,2674.4 L309.1,2674.4 L312.1,2674.4 L315.0,2674.4 L318.0,2674.4 L321.0,2674.4 L324.0,2674.4 L327.0,2674.4 L329.9,2674.3 L332.9,2674.3 L335.9,2674.2 L338.9,2674.1 L341.8,2674.0 L344.8,2673.8 L347.8,2673.5 L350.8,2673.1 L353.7,2672.6 L356.7,2671.9 L359.7,2671.0 L362.7,2669.9 L365.7,2668.4 L368.6,2666.6 L371.6,2664.3 L374.6,2661.5 L377.6,2658.1 L380.5,2654.1 L383.5,2649.3 L386.5,2643.7 L389.5,2637.2 L392.4,2629.7 L395.4,2621.3 L398.4,2611.7 L401.4,2601.0 L404.4,2589.2 L407.3,2576.1 L410.3,2561.8 L413.3,2546.4 L416.3,2529.7 L419.2,2511.8 L422.2,2492.8 L425.2,2472.7 L428.2,2451.6 L431.1,2429.5 L434.1,2406.5 L437.1,2382.7 L440.1,2358.3 L443.1,2333.2 L446.0,2307.6 L449.0,2281.7 L452.0,2255.5 L455.0,2229.2 L457.9,2201.8 L460.9,2174.3 L463.9,2147.1 L466.9,2120.2 L469.9,2093.8 L472.8,2068.0 L475.8,2042.9 L478.8,2018.6 L481.8,1995.1 L484.7,1972.6 L487.7,1951.1 L490.7,1930.7 L493.7,1911.4 L496.6,1893.3 L499.6,1876.4 L502.6,1860.7 L505.6,1846.3 L508.6,1833.2 L511.5,1821.4 L514.5,1810.9 L517.5,1801.7 L520.5,1793.7 L523.4,1787.0 L526.4,1781.6 L529.4,1777.4 L532.4,1774.4 L535.3,1772.6 L538.3,1771.8 L541.3,1772.3 L544.3,1773.8 L547.3,1776.5 L550.2,1780.2 L553.2,1784.8 L556.2,1790.4 L559.2,1796.9 L562.1,1804.1 L565.1,1812.1 L568.1,1820.7 L571.1,1830.0 L574.0,1839.8 L577.0,1850.2 L580.0,1861.0 L583.0,1872.3 L586.0,1884.0 L588.9,1896.0 L591.9,1908.3 L594.9,1920.8 L597.9,1933.6 L600.8,1946.5 L603.8,1959.7 L606.8,1972.9 L609.8,1986.2 L612.7,1999.6 L615.7,2013.0 L618.7,2026.4 L621.7,2039.6 L624.7,2052.8 L627.6,2066.0 L630.6,2079.1 L633.6,2092.1 L636.6,2105.1 L639.5,2117.9 L642.5,2130.7 L645.5,2143.3 L648.5,2155.8 L651.4,2168.1 L654.4,2180.2 L657.4,2192.2 L660.4,2204.1 L663.4,2215.7 L666.3,2227.2 L669.3,2238.5 L672.3,2249.6 L675.3,2260.5 L678.2,2271.2 L681.2,2281.7 L684.2,2292.0 L687.2,2302.1 L690.1,2312.0 L693.1,2321.7 L696.1,2331.1 L699.1,2340.4 L702.1,2349.5 L705.0,2358.4 L708.0,2367.0 L711.0,2375.5 L714.0,2383.8 L716.9,2391.9 L719.9,2399.8 L722.9,2407.5 L725.9,2415.0 L728.8,2422.3 L731.8,2429.5 L734.8,2436.4 L737.8,2443.2 L740.8,2449.8 L743.7,2456.3 L746.7,2462.5 L749.7,2468.6 L752.7,2474.6 L755.6,2480.4 L758.6,2486.0 L761.6,2491.5 L764.6,2496.8 L767.6,2502.0 L770.5,2507.0 L773.5,2511.9 L776.5,2516.7 L779.5,2521.3 L782.4,2525.8 L785.4,2530.2 L788.4,2534.5 L791.4,2538.6 L794.3,2542.6 L797.3,2546.5 L800.3,2550.3 L803.3,2554.0 L806.3,2557.6 L809.2,2561.1 L812.2,2564.4 L815.2,2567.7 L818.2,2570.9 L821.1,2574.0 L824.1,2577.0 L827.1,2579.9 L830.1,2582.7 L833.0,2585.5 L836.0,2588.2 L839.0,2590.8 L842.0,2593.3 L845.0,2595.8 L847.9,2598.2 L850.9,2600.6 L853.9,2602.9 L856.9,2605.2 L859.8,2607.4 L862.8,2609.6 L865.8,2611.7 L868.8,2613.8 L871.7,2615.8 L874.7,2617.8 L877.7,2619.7 L880.7,2621.6 L883.7,2623.5 L886.6,2625.3 L889.6,2627.0 L892.6,2628.7 L895.6,2630.4 L898.5,2632.0 L901.5,2633.5 L904.5,2635.1 L907.5,2636.5 L910.4,2638.0 L913.4,2639.4 L916.4,2640.7 L919.4,2642.1 L922.4,2643.3 L925.3,2644.6 L928.3,2645.8 L931.3,2646.9 L934.3,2648.0 L937.2,2649.1 L940.2,2650.2 L943.2,2651.2 L946.2,2652.2 L949.1,2653.1 L952.1,2654.0 L955.1,2654.9 L958.1,2655.7 L961.1,2656.6 L964.0,2657.3 L967.0,2658.1 L970.0,2658.8 L973.0,2659.5 L975.9,2660.2 L978.9,2660.9 L981.9,2661.5 L984.9,2662.1 L987.8,2662.7 L990.8,2663.2 L993.8,2663.7 L996.8,2664.2 L999.8,2664.7 L1002.7,2665.2 L1005.7,2665.7 L1008.7,2666.1 L1011.7,2666.5 L1014.6,2666.9 L1017.6,2667.3 L1020.6,2667.6 L1023.6,2668.0 L1026.5,2668.3 L1029.5,2668.6 L1032.5,2668.9 L1035.5,2669.2 L1038.5,2669.5 L1041.4,2669.7 L1044.4,2670.0 L1047.4,2670.2 L1050.4,2670.4 L1053.3,2670.6 L1056.3,2670.9 L1059.3,2671.0 L1062.3,2671.2 L1065.3,2671.4 L1068.2,2671.6 L1071.2,2671.7 L1074.2,2671.9 L1077.2,2672.0 L1080.1,2672.2 L1083.1,2672.3 L1086.1,2672.4 L1089.1,2672.5 L1092.0,2672.6 L1095.0,2672.7 L1098.0,2672.8 L1101.0,2672.9 L1104.0,2673.0 L1106.9,2673.1 L1109.9,2673.2 L1112.9,2673.2 L1115.9,2673.3 L1118.8,2673.4 L1121.8,2673.4 L1124.8,2673.5 L1127.8,2673.6 L1130.7,2673.6 L1133.7,2673.7 L1136.7,2673.7 L1139.7,2673.8 L1142.7,2673.8 L1145.6,2673.8 L1148.6,2673.9 L1151.6,2673.9 L1154.6,2673.9 L1157.5,2674.0 L1160.5,2674.0 L1163.5,2674.0 L1166.5,2674.0 L1169.4,2674.1 L1172.4,2674.1 L1175.4,2674.1 L1178.4,2674.1 L1181.4,2674.2 L1184.3,2674.2 L1187.3,2674.2 L1190.3,2674.2 L1193.3,2674.2 L1196.2,2674.2 L1199.2,2674.2 L1202.2,2674.2 L1205.2,2674.3 L1208.1,2674.3 L1211.1,2674.3 L1214.1,2674.3 L1217.1,2674.3 L1220.1,2674.3 L1223.0,2674.3 L1226.0,2674.3 L1229.0,2674.3 L1232.0,2674.3 L1234.9,2674.3 L1237.9,2674.3 L1240.9,2674.3 L1243.9,2674.3 L1246.8,2674.4 L1249.8,2674.4 L1252.8,2674.4 L1255.8,2674.4 L1258.8,2674.4 L1261.7,2674.4 L1264.7,2674.4 L1267.7,2674.4 L1270.7,2674.4 L1273.6,2674.4 L1276.6,2674.4 L1279.6,2674.4 L1282.6,2674.4 L1285.5,2674.4 L1288.5,2674.4 L1291.5,2674.4 L1294.5,2674.4 L1297.5,2674.4 L1300.4,2674.4 L1303.4,2674.4 L1306.4,2674.4 L1309.4,2674.4 L1312.3,2674.4 L1315.3,2674.4 L1318.3,2674.4 L1321.3,2674.4 L1324.2,2674.4 L1327.2,2674.4 L1330.2,2674.4 L1333.2,2674.4 L1336.2,2674.4 L1339.1,2674.4 L1342.1,2674.4 L1345.1,2674.4 L1348.1,2674.4 L1351.0,2674.4 L1354.0,2674.4 L1357.0,2674.4 L1360.0,2674.4 L1363.0,2674.4 L1365.9,2674.4 L1368.9,2674.4 L1371.9,2674.4 L1374.9,2674.4 L1377.8,2674.4 L1380.8,2674.4 L1383.8,2674.4 L1386.8,2674.4 L1389.7,2674.4 L1392.7,2674.4 L1395.7,2674.4 L1398.7,2674.4 L1401.7,2674.4 L1404.6,2674.4 L1407.6,2674.4 L1410.6,2674.4 L1413.6,2674.4 L1416.5,2674.4 L1419.5,2674.4 L1422.5,2674.4 L1425.5,2674.4 L1428.4,2674.4 L1431.4,2674.4 L1434.4,2674.4 L1437.4,2674.4 L1440.4,2674.4 L1443.3,2674.4 L1446.3,2674.4 L1449.3,2674.4 L1452.3,2674.4 L1455.2,2674.4 L1458.2,2674.4 L1461.2,2674.4 L1464.2,2674.4 L1467.1,2674.4 L1470.1,2674.4 L1473.1,2674.4 L1476.1,2674.4 L1479.1,2674.4 L1482.0,2674.4 L1485.0,2674.4 L1488.0,2674.4 L1491.0,2674.4 L1493.9,2674.4 L1496.9,2674.4 L1499.9,2674.4 L1502.9,2674.4 L1505.8,2674.4 L1508.8,2674.4 L1511.8,2674.4 L1514.8,2674.4 L1517.8,2674.4 L1520.7,2674.4 L1523.7,2674.4 L1526.7,2674.4 L1529.7,2674.4 L1532.6,2674.4 L1535.6,2674.4 L1538.6,2674.4 L1541.6,2674.4 L1544.5,2674.4 L1547.5,2674.4 L1550.5,2674.4 L1553.5,2674.4 L1556.5,2674.4 L1559.4,2674.4 L1562.4,2674.4 L1565.4,2674.4 L1568.4,2674.4 L1571.3,2674.4 L1574.3,2674.4 L1577.3,2674.4 L1580.3,2674.4 L1583.2,2674.4 L1586.2,2674.4 L1589.2,2674.4 L1592.2,2674.4 L1595.2,2674.4 L1598.1,2674.4 L1601.1,2674.4 L1604.1,2674.4 L1607.1,2674.4 L1610.0,2674.4 L1613.0,2674.4 L1616.0,2674.4 L1619.0,2674.4 L1621.9,2674.4" stroke="#46337E"/>
<path d="M270.4,2674.4 L273.4,2674.4 L276.3,2674.4 L279.3,2674.4 L282.3,2674.4 L285.3,2674.4 L288.3,2674.4 L291.2,2674.4 L294.2,2674.4 L297.2,2674.4 L300.2,2674.4 L303.1,2674.4 L306.1,2674.4 L309.1,2674.4 L312.1,2674.3 L315.0,2674.3 L318.0,2674.3 L321.0,2674.2 L324.0,2674.1 L327.0,2674.0 L329.9,2673.9 L332.9,2673.7 L335.9,2673.4 L338.9,2673.1 L341.8,2672.7 L344.8,2672.1 L347.8,2671.4 L350.8,2670.6 L353.7,2669.5 L356.7,2668.2 L359.7,2666.6 L362.7,2664.7 L365.7,2662.3 L368.6,2659.6 L371.6,2656.3 L374.6,2652.4 L377.6,2647.9 L380.5,2642.6 L383.5,2636.6 L386.5,2629.7 L389.5,2621.9 L392.4,2613.1 L395.4,2603.2 L398.4,2592.2 L401.4,2579.9 L404.4,2566.5 L407.3,2551.7 L410.3,2535.7 L413.3,2518.3 L416.3,2499.6 L419.2,2479.5 L422.2,2458.1 L425.2,2435.5 L428.2,2411.6 L431.1,2386.5 L434.1,2360.3 L437.1,2333.1 L440.1,2305.0 L443.1,2276.0 L446.0,2246.4 L449.0,2216.2 L452.0,2185.7 L455.0,2154.8 L457.9,2123.5 L460.9,2090.9 L463.9,2058.4 L466.9,2026.4 L469.9,1994.9 L472.8,1964.2 L475.8,1934.3 L478.8,1905.5 L481.8,1877.9 L484.7,1851.7 L487.7,1826.9 L490.7,1803.8 L493.7,1782.3 L496.6,1762.7 L499.6,1744.9 L502.6,1729.1 L505.6,1715.2 L508.6,1703.4 L511.5,1693.7 L514.5,1686.0 L517.5,1680.4 L520.5,1676.8 L523.4,1675.2 L526.4,1675.5 L529.4,1677.4 L532.4,1680.7 L535.3,1685.4 L538.3,1691.3 L541.3,1698.5 L544.3,1706.7 L547.3,1716.0 L550.2,1726.2 L553.2,1737.3 L556.2,1749.1 L559.2,1761.7 L562.1,1774.8 L565.1,1788.6 L568.1,1802.8 L571.1,1817.5 L574.0,1832.5 L577.0,1847.8 L580.0,1863.4 L583.0,1879.3 L586.0,1895.3 L588.9,1911.4 L591.9,1927.6 L594.9,1943.8 L597.9,1960.0 L600.8,1975.9 L603.8,1991.8 L606.8,2007.7 L609.8,2023.4 L612.7,2039.1 L615.7,2054.7 L618.7,2070.0 L621.7,2085.3 L624.7,2100.3 L627.6,2115.2 L630.6,2129.8 L633.6,2144.3 L636.6,2158.5 L639.5,2172.4 L642.5,2186.2 L645.5,2199.6 L648.5,2212.9 L651.4,2225.8 L654.4,2238.5 L657.4,2250.9 L660.4,2263.1 L663.4,2275.0 L666.3,2286.6 L669.3,2298.0 L672.3,2309.1 L675.3,2319.9 L678.2,2330.4 L681.2,2340.7 L684.2,2350.8 L687.2,2360.5 L690.1,2370.1 L693.1,2379.3 L696.1,2388.4 L699.1,2397.1 L702.1,2405.7 L705.0,2414.0 L708.0,2422.1 L711.0,2429.9 L714.0,2437.5 L716.9,2444.9 L719.9,2452.1 L722.9,2459.1 L725.9,2465.9 L728.8,2472.5 L731.8,2478.9 L734.8,2485.1 L737.8,2491.1 L740.8,2496.9 L743.7,2502.6 L746.7,2508.1 L749.7,2513.4 L752.7,2518.5 L755.6,2523.5 L758.6,2528.4 L761.6,2533.0 L764.6,2537.6 L767.6,2542.0 L770.5,2546.3 L773.5,2550.4 L776.5,2554.4 L779.5,2558.3 L782.4,2562.0 L785.4,2565.6 L788.4,2569.1 L791.4,2572.5 L794.3,2575.8 L797.3,2579.0 L800.3,2582.1 L803.3,2585.1 L806.3,2588.0 L809.2,2590.8 L812.2,2593.5 L815.2,2596.1 L818.2,2598.6 L821.1,2601.1 L824.1,2603.5 L827.1,2605.8 L830.1,2608.0 L833.0,2610.1 L836.0,2612.2 L839.0,2614.2 L842.0,2616.2 L845.0,2618.1 L847.9,2619.9 L850.9,2621.6 L853.9,2623.3 L856.9,2625.0 L859.8,2626.6 L862.8,2628.1 L865.8,2629.6 L868.8,2631.0 L871.7,2632.4 L874.7,2633.8 L877.7,2635.1 L880.7,2636.4 L883.7,2637.6 L886.6,2638.8 L889.6,2639.9 L892.6,2641.0 L895.6,2642.1 L898.5,2643.1 L901.5,2644.1 L904.5,2645.1 L907.5,2646.0 L910.4,2646.9 L913.4,2647.8 L916.4,2648.6 L919.4,2649.4 L922.4,2650.2 L925.3,2651.0 L928.3,2651.7 L931.3,2652.5 L934.3,2653.2 L937.2,2653.8 L940.2,2654.5 L943.2,2655.1 L946.2,2655.7 L949.1,2656.3 L952.1,2656.9 L955.1,2657.5 L958.1,2658.1 L961.1,2658.6 L964.0,2659.2 L967.0,2659.7 L970.0,2660.2 L973.0,2660.8 L975.9,2661.3 L978.9,2661.8 L981.9,2662.3 L984.9,2662.8 L987.8,2663.2 L990.8,2663.7 L993.8,2664.2 L996.8,2664.6 L999.8,2665.1 L1002.7,2665.5 L1005.7,2665.9 L1008.7,2666.3 L1011.7,2666.7 L1014.6,2667.1 L1017.6,2667.4 L1020.6,2667.8 L1023.6,2668.1 L1026.5,2668.4 L1029.5,2668.8 L1032.5,2669.1 L1035.5,2669.4 L1038.5,2669.6 L1041.4,2669.9 L1044.4,2670.2 L1047.4,2670.4 L1050.4,2670.7 L1053.3,2670.9 L1056.3,2671.1 L1059.3,2671.3 L1062.3,2671.5 L1065.3,2671.7 L1068.2,2671.9 L1071.2,2672.0 L1074.2,2672.2 L1077.2,2672.3 L1080.1,2672.5 L1083.1,2672.6 L1086.1,2672.7 L1089.1,2672.8 L1092.0,2673.0 L1095.0,2673.1 L1098.0,2673.2 L1101.0,2673.2 L1104.0,2673.3 L1106.9,2673.4 L1109.9,2673.5 L1112.9,2673.6 L1115.9,2673.6 L1118.8,2673.7 L1121.8,2673.7 L1124.8,2673.8 L1127.8,2673.8 L1130.7,2673.9 L1133.7,2673.9 L1136.7,2674.0 L1139.7,2674.0 L1142.7,2674.0 L1145.6,2674.1 L1148.6,2674.1 L1151.6,2674.1 L1154.6,2674.2 L1157.5,2674.2 L1160.5,2674.2 L1163.5,2674.2 L1166.5,2674.2 L1169.4,2674.2 L1172.4,2674.3 L1175.4,2674.3 L1178.4,2674.3 L1181.4,2674.3 L1184.3,2674.3 L1187.3,2674.3 L1190.3,2674.3 L1193.3,2674.3 L1196.2,2674.3 L1199.2,2674.3 L1202.2,2674.4 L1205.2,2674.4 L1208.1,2674.4 L1211.1,2674.4 L1214.1,2674.4 L1217.1,2674.4 L1220.1,2674.4 L1223.0,2674.4 L1226.0,2674.4 L1229.0,2674.4 L1232.0,2674.4 L1234.9,2674.4 L1237.9,2674.4 L1240.9,2674.4 L1243.9,2674.4 L1246.8,2674.4 L1249.8,2674.4 L1252.8,2674.4 L1255.8,2674.4 L1258.8,2674.4 L1261.7,2674.4 L1264.7,2674.4 L1267.7,2674.4 L1270.7,2674.4 L1273.6,2674.4 L1276.6,2674.4 L1279.6,2674.4 L1282.6,2674.4 L1285.5,2674.4 L1288.5,2674.4 L1291.5,2674.4 L1294.5,2674.4 L1297.5,2674.4 L1300.4,2674.4 L1303.4,2674.4 L1306.4,2674.4 L1309.4,2674.4 L1312.3,2674.4 L1315.3,2674.4 L1318.3,2674.4 L1321.3,2674.4 L1324.2,2674.4 L1327.2,2674.4 L1330.2,2674.4 L1333.2,2674.4 L1336.2,2674.4 L1339.1,2674.4 L1342.1,2674.4 L1345.1,2674.4 L1348.1,2674.4 L1351.0,2674.4 L1354.0,2674.4 L1357.0,2674.4 L1360.0,2674.4 L1363.0,2674.4 L1365.9,2674.4 L1368.9,2674.4 L1371.9,2674.4 L1374.9,2674.4 L1377.8,2674.4 L1380.8,2674.4 L1383.8,2674.4 L1386.8,2674.4 L1389.7,2674.4 L1392.7,2674.4 L1395.7,2674.4 L1398.7,2674.4 L1401.7,2674.4 L1404.6,2674.4 L1407.6,2674.4 L1410.6,2674.4 L1413.6,2674.4 L1416.5,2674.4 L1419.5,2674.4 L1422.5,2674.4 L1425.5,2674.4 L1428.4,2674.4 L1431.4,2674.4 L1434.4,2674.4 L1437.4,2674.4 L1440.4,2674.4 L1443.3,2674.4 L1446.3,2674.4 L1449.3,2674.4 L1452.3,2674.4 L1455.2,2674.4 L1458.2,2674.4 L1461.2,2674.4 L1464.2,2674.4 L1467.1,2674.4 L1470.1,2674.4 L1473.1,2674.4 L1476.1,2674.4 L1479.1,2674.4 L1482.0,2674.4 L1485.0,2674.4 L1488.0,2674.4 L1491.0,2674.4 L1493.9,2674.4 L1496.9,2674.4 L1499.9,2674.4 L1502.9,2674.4 L1505.8,2674.4 L1508.8,2674.4 L1511.8,2674.4 L1514.8,2674.4 L1517.8,2674.4 L1520.7,2674.4 L1523.7,2674.4 L1526.7,2674.4 L1529.7,2674.4 L1532.6,2674.4 L1535.6,2674.4 L1538.6,2674.4 L1541.6,2674.4 L1544.5,2674.4 L1547.5,2674.4 L1550.5,2674.4 L1553.5,2674.4 L1556.5,2674.4 L1559.4,2674.4 L1562.4,2674.4 L1565.4,2674.4 L1568.4,2674.4 L1571.3,2674.4 L1574.3,2674.4 L1577.3,2674.4 L1580.3,2674.4 L1583.2,2674.4 L1586.2,2674.4 L1589.2,2674.4 L1592.2,2674.4 L1595.2,2674.4 L1598.1,2674.4 L1601.1,2674.4 L1604.1,2674.4 L1607.1,2674.4 L1610.0,2674.4 L1613.0,2674.4 L1616.0,2674.4 L1619.0,2674.4 L1621.9,2674.4" stroke="#365C8D"/>
<path d="M270.4,2674.4 L273.4,2674.4 L276.3,2674.4 L279.3,2674.4 L282.3,2674.4 L285.3,2674.4 L288.3,2674.4 L291.2,2674.3 L294.2,2674.3 L297.2,2674.3 L300.2,2674.2 L303.1,2674.1 L306.1,2674.0 L309.1,2673.8 L312.1,2673.5 L315.0,2673.2 L318.0,2672.7 L321.0,2672.1 L324.0,2671.3 L327.0,2670.2 L329.9,2668.9 L332.9,2667.3 L335.9,2665.3 L338.9,2662.8 L341.8,2659.8 L344.8,2656.2 L347.8,2651.9 L350.8,2646.9 L353.7,2641.0 L356.7,2634.3 L359.7,2626.6 L362.7,2617.9 L365.7,2608.0 L368.6,2597.1 L371.6,2584.9 L374.6,2571.5 L377.6,2556.9 L380.5,2541.1 L383.5,2524.0 L386.5,2505.7 L389.5,2486.2 L392.4,2465.5 L395.4,2443.8 L398.4,2421.0 L401.4,2397.3 L404.4,2372.7 L407.3,2347.4 L410.3,2321.5 L413.3,2295.0 L416.3,2268.2 L419.2,2241.1 L422.2,2213.8 L425.2,2185.3 L428.2,2156.7 L431.1,2128.5 L434.1,2100.6 L437.1,2073.3 L440.1,2046.7 L443.1,2020.8 L446.0,1995.8 L449.0,1971.9 L452.0,1949.1 L455.0,1927.4 L457.9,1907.0 L460.9,1887.9 L463.9,1870.2 L466.9,1853.8 L469.9,1839.0 L472.8,1825.6 L475.8,1813.8 L478.8,1803.4 L481.8,1794.5 L484.7,1787.1 L487.7,1781.2 L490.7,1776.8 L493.7,1773.8 L496.6,1772.2 L499.6,1771.9 L502.6,1772.9 L505.6,1775.0 L508.6,1778.3 L511.5,1782.5 L514.5,1787.7 L517.5,1793.9 L520.5,1800.8 L523.4,1808.5 L526.4,1816.9 L529.4,1826.0 L532.4,1835.7 L535.3,1845.9 L538.3,1856.5 L541.3,1867.6 L544.3,1879.1 L547.3,1890.9 L550.2,1903.1 L553.2,1915.4 L556.2,1928.0 L559.2,1940.8 L562.1,1953.7 L565.1,1966.8 L568.1,1979.9 L571.1,1993.1 L574.0,2006.3 L577.0,2019.5 L580.0,2032.5 L583.0,2045.4 L586.0,2058.4 L588.9,2071.3 L591.9,2084.1 L594.9,2096.8 L597.9,2109.5 L600.8,2122.0 L603.8,2134.4 L606.8,2146.6 L609.8,2158.7 L612.7,2170.7 L615.7,2182.5 L618.7,2194.1 L621.7,2205.5 L624.7,2216.8 L627.6,2227.9 L630.6,2238.8 L633.6,2249.5 L636.6,2260.0 L639.5,2270.4 L642.5,2280.5 L645.5,2290.4 L648.5,2300.2 L651.4,2309.7 L654.4,2319.0 L657.4,2328.2 L660.4,2337.2 L663.4,2345.9 L666.3,2354.5 L669.3,2362.9 L672.3,2371.0 L675.3,2379.0 L678.2,2386.9 L681.2,2394.5 L684.2,2401.9 L687.2,2409.2 L690.1,2416.3 L693.1,2423.2 L696.1,2430.0 L699.1,2436.6 L702.1,2443.0 L705.0,2449.3 L708.0,2455.4 L711.0,2461.3 L714.0,2467.1 L716.9,2472.8 L719.9,2478.3 L722.9,2483.7 L725.9,2488.9 L728.8,2494.0 L731.8,2498.9 L734.8,2503.7 L737.8,2508.4 L740.8,2513.0 L743.7,2517.4 L746.7,2521.8 L749.7,2526.0 L752.7,2530.1 L755.6,2534.0 L758.6,2537.9 L761.6,2541.7 L764.6,2545.4 L767.6,2548.9 L770.5,2552.4 L773.5,2555.8 L776.5,2559.1 L779.5,2562.2 L782.4,2565.4 L785.4,2568.4 L788.4,2571.3 L791.4,2574.2 L794.3,2576.9 L797.3,2579.6 L800.3,2582.2 L803.3,2584.8 L806.3,2587.3 L809.2,2589.7 L812.2,2592.0 L815.2,2594.3 L818.2,2596.5 L821.1,2598.6 L824.1,2600.7 L827.1,2602.8 L830.1,2604.7 L833.0,2606.7 L836.0,2608.5 L839.0,2610.3 L842.0,2612.1 L845.0,2613.8 L847.9,2615.5 L850.9,2617.1 L853.9,2618.7 L856.9,2620.2 L859.8,2621.7 L862.8,2623.1 L865.8,2624.5 L868.8,2625.9 L871.7,2627.2 L874.7,2628.5 L877.7,2629.7 L880.7,2631.0 L883.7,2632.1 L886.6,2633.3 L889.6,2634.4 L892.6,2635.5 L895.6,2636.6 L898.5,2637.7 L901.5,2638.7 L904.5,2639.7 L907.5,2640.8 L910.4,2641.8 L913.4,2642.7 L916.4,2643.7 L919.4,2644.7 L922.4,2645.6 L925.3,2646.6 L928.3,2647.5 L931.3,2648.4 L934.3,2649.3 L937.2,2650.2 L940.2,2651.1 L943.2,2651.9 L946.2,2652.8 L949.1,2653.6 L952.1,2654.4 L955.1,2655.2 L958.1,2656.0 L961.1,2656.7 L964.0,2657.4 L967.0,2658.2 L970.0,2658.8 L973.0,2659.5 L975.9,2660.2 L978.9,2660.8 L981.9,2661.4 L984.9,2662.0 L987.8,2662.6 L990.8,2663.2 L993.8,2663.7 L996.8,2664.2 L999.8,2664.7 L1002.7,2665.2 L1005.7,2665.7 L1008.7,2666.1 L1011.7,2666.6 L1014.6,2667.0 L1017.6,2667.4 L1020.6,2667.8 L1023.6,2668.1 L1026.5,2668.5 L1029.5,2668.8 L1032.5,2669.1 L1035.5,2669.4 L1038.5,2669.7 L1041.4,2670.0 L1044.4,2670.2 L1047.4,2670.5 L1050.4,2670.7 L1053.3,2671.0 L1056.3,2671.2 L1059.3,2671.4 L1062.3,2671.6 L1065.3,2671.7 L1068.2,2671.9 L1071.2,2672.1 L1074.2,2672.2 L1077.2,2672.4 L1080.1,2672.5 L1083.1,2672.6 L1086.1,2672.8 L1089.1,2672.9 L1092.0,2673.0 L1095.0,2673.1 L1098.0,2673.2 L1101.0,2673.3 L1104.0,2673.3 L1106.9,2673.4 L1109.9,2673.5 L1112.9,2673.6 L1115.9,2673.6 L1118.8,2673.7 L1121.8,2673.7 L1124.8,2673.8 L1127.8,2673.8 L1130.7,2673.9 L1133.7,2673.9 L1136.7,2674.0 L1139.7,2674.0 L1142.7,2674.0 L1145.6,2674.1 L1148.6,2674.1 L1151.6,2674.1 L1154.6,2674.1 L1157.5,2674.2 L1160.5,2674.2 L1163.5,2674.2 L1166.5,2674.2 L1169.4,2674.2 L1172.4,2674.2 L1175.4,2674.3 L1178.4,2674.3 L1181.4,2674.3 L1184.3,2674.3 L1187.3,2674.3 L1190.3,2674.3 L1193.3,2674.3 L1196.2,2674.3 L1199.2,2674.3 L1202.2,2674.3 L1205.2,2674.3 L1208.1,2674.4 L1211.1,2674.4 L1214.1,2674.4 L1217.1,2674.4 L1220.1,2674.4 L1223.0,2674.4 L1226.0,2674.4 L1229.0,2674.4 L1232.0,2674.4 L1234.9,2674.4 L1237.9,2674.4 L1240.9,2674.4 L1243.9,2674.4 L1246.8,2674.4 L1249.8,2674.4 L1252.8,2674.4 L1255.8,2674.4 L1258.8,2674.4 L1261.7,2674.4 L1264.7,2674.4 L1267.7,2674.4 L1270.7,2674.4 L1273.6,2674.4 L1276.6,2674.4 L1279.6,2674.4 L1282.6,2674.4 L1285.5,2674.4 L1288.5,2674.4 L1291.5,2674.4 L1294.5,2674.4 L1297.5,2674.4 L1300.4,2674.4 L1303.4,2674.4 L1306.4,2674.4 L1309.4,2674.4 L1312.3,2674.4 L1315.3,2674.4 L1318.3,2674.4 L1321.3,2674.4 L1324.2,2674.4 L1327.2,2674.4 L1330.2,2674.4 L1333.2,2674.4 L1336.2,2674.4 L1339.1,2674.4 L1342.1,2674.4 L1345.1,2674.4 L1348.1,2674.4 L1351.0,2674.4 L1354.0,2674.4 L1357.0,2674.4 L1360.0,2674.4 L1363.0,2674.4 L1365.9,2674.4 L1368.9,2674.4 L1371.9,2674.4 L1374.9,2674.4 L1377.8,2674.4 L1380.8,2674.4 L1383.8,2674.4 L1386.8,2674.4 L1389.7,2674.4 L1392.7,2674.4 L1395.7,2674.4 L1398.7,2674.4 L1401.7,2674.4 L1404.6,2674.4 L1407.6,2674.4 L1410.6,2674.4 L1413.6,2674.4 L1416.5,2674.4 L1419.5,2674.4 L1422.5,2674.4 L1425.5,2674.4 L1428.4,2674.4 L1431.4,2674.4 L1434.4,2674.4 L1437.4,2674.4 L1440.4,2674.4 L1443.3,2674.4 L1446.3,2674.4 L1449.3,2674.4 L1452.3,2674.4 L1455.2,2674.4 L1458.2,2674.4 L1461.2,2674.4 L1464.2,2674.4 L1467.1,2674.4 L1470.1,2674.4 L1473.1,2674.4 L1476.1,2674.4 L1479.1,2674.4 L1482.0,2674.4 L1485.0,2674.4 L1488.0,2674.4 L1491.0,2674.4 L1493.9,2674.4 L1496.9,2674.4 L1499.9,2674.4 L1502.9,2674.4 L1505.8,2674.4 L1508.8,2674.4 L1511.8,2674.4 L1514.8,2674.4 L1517.8,2674.4 L1520.7,2674.4 L1523.7,2674.4 L1526.7,2674.4 L1529.7,2674.4 L1532.6,2674.4 L1535.6,2674.4 L1538.6,2674.4 L1541.6,2674.4 L1544.5,2674.4 L1547.5,2674.4 L1550.5,2674.4 L1553.5,2674.4 L1556.5,2674.4 L1559.4,2674.4 L1562.4,2674.4 L1565.4,2674.4 L1568.4,2674.4 L1571.3,2674.4 L1574.3,2674.4 L1577.3,2674.4 L1580.3,2674.4 L1583.2,2674.4 L1586.2,2674.4 L1589.2,2674.4 L1592.2,2674.4 L1595.2,2674.4 L1598.1,2674.4 L1601.1,2674.4 L1604.1,2674.4 L1607.1,2674.4 L1610.0,2674.4 L1613.0,2674.4 L1616.0,2674.4 L1619.0,2674.4 L1621.9,2674.4" stroke="#277F8E"/>
<path d="M270.4,2674.4 L273.4,2674.4 L276.3,2674.4 L279.3,2674.4 L282.3,2674.3 L285.3,2674.3 L288.3,2674.2 L291.2,2674.1 L294.2,2673.9 L297.2,2673.6 L300.2,2673.2 L303.1,2672.6 L306.1,2671.8 L309.1,2670.6 L312.1,2669.0 L315.0,2666.8 L318.0,2664.0 L321.0,2660.3 L324.0,2655.5 L327.0,2649.6 L329.9,2642.2 L332.9,2633.2 L335.9,2622.4 L338.9,2609.6 L341.8,2594.6 L344.8,2577.2 L347.8,2557.4 L350.8,2535.0 L353.7,2510.1 L356.7,2482.5 L359.7,2452.5 L362.7,2420.1 L365.7,2385.4 L368.6,2348.6 L371.6,2310.2 L374.6,2270.2 L377.6,2229.1 L380.5,2187.2 L383.5,2144.9 L386.5,2098.5 L389.5,2052.2 L392.4,2006.9 L395.4,1962.9 L398.4,1920.7 L401.4,1880.6 L404.4,1843.1 L407.3,1808.4 L410.3,1776.7 L413.3,1748.3 L416.3,1723.2 L419.2,1701.8 L422.2,1683.9 L425.2,1669.5 L428.2,1658.8 L431.1,1651.6 L434.1,1647.8 L437.1,1647.2 L440.1,1648.6 L443.1,1651.5 L446.0,1655.9 L449.0,1661.6 L452.0,1668.5 L455.0,1676.6 L457.9,1685.6 L460.9,1695.6 L463.9,1706.4 L466.9,1718.0 L469.9,1730.2 L472.8,1743.0 L475.8,1756.4 L478.8,1770.2 L481.8,1784.4 L484.7,1799.0 L487.7,1813.8 L490.7,1828.9 L493.7,1844.1 L496.6,1859.5 L499.6,1875.0 L502.6,1890.6 L505.6,1906.2 L508.6,1921.6 L511.5,1936.9 L514.5,1952.1 L517.5,1967.3 L520.5,1982.4 L523.4,1997.4 L526.4,2012.3 L529.4,2027.1 L532.4,2041.7 L535.3,2056.1 L538.3,2070.4 L541.3,2084.4 L544.3,2098.3 L547.3,2111.9 L550.2,2125.4 L553.2,2138.6 L556.2,2151.6 L559.2,2164.4 L562.1,2176.9 L565.1,2189.2 L568.1,2201.3 L571.1,2213.1 L574.0,2224.7 L577.0,2236.0 L580.0,2247.1 L583.0,2258.0 L586.0,2268.6 L588.9,2279.0 L591.9,2289.2 L594.9,2299.1 L597.9,2308.8 L600.8,2318.3 L603.8,2327.6 L606.8,2336.6 L609.8,2345.4 L612.7,2354.0 L615.7,2362.4 L618.7,2370.6 L621.7,2378.6 L624.7,2386.4 L627.6,2394.0 L630.6,2401.4 L633.6,2408.6 L636.6,2415.7 L639.5,2422.5 L642.5,2429.2 L645.5,2435.7 L648.5,2442.0 L651.4,2448.2 L654.4,2454.2 L657.4,2460.0 L660.4,2465.7 L663.4,2471.3 L666.3,2476.7 L669.3,2481.9 L672.3,2487.0 L675.3,2492.0 L678.2,2496.9 L681.2,2501.6 L684.2,2506.2 L687.2,2510.6 L690.1,2515.0 L693.1,2519.2 L696.1,2523.3 L699.1,2527.3 L702.1,2531.2 L705.0,2535.0 L708.0,2538.7 L711.0,2542.3 L714.0,2545.7 L716.9,2549.1 L719.9,2552.4 L722.9,2555.6 L725.9,2558.8 L728.8,2561.8 L731.8,2564.8 L734.8,2567.6 L737.8,2570.4 L740.8,2573.2 L743.7,2575.8 L746.7,2578.4 L749.7,2580.9 L752.7,2583.4 L755.6,2585.8 L758.6,2588.2 L761.6,2590.5 L764.6,2592.7 L767.6,2595.0 L770.5,2597.1 L773.5,2599.3 L776.5,2601.4 L779.5,2603.5 L782.4,2605.5 L785.4,2607.5 L788.4,2609.5 L791.4,2611.4 L794.3,2613.3 L797.3,2615.2 L800.3,2617.1 L803.3,2618.9 L806.3,2620.6 L809.2,2622.4 L812.2,2624.1 L815.2,2625.7 L818.2,2627.3 L821.1,2628.9 L824.1,2630.5 L827.1,2632.0 L830.1,2633.5 L833.0,2634.9 L836.0,2636.3 L839.0,2637.7 L842.0,2639.0 L845.0,2640.3 L847.9,2641.6 L850.9,2642.8 L853.9,2644.0 L856.9,2645.2 L859.8,2646.3 L862.8,2647.4 L865.8,2648.5 L868.8,2649.5 L871.7,2650.5 L874.7,2651.5 L877.7,2652.4 L880.7,2653.3 L883.7,2654.2 L886.6,2655.0 L889.6,2655.9 L892.6,2656.7 L895.6,2657.4 L898.5,2658.2 L901.5,2658.9 L904.5,2659.6 L907.5,2660.2 L910.4,2660.9 L913.4,2661.5 L916.4,2662.1 L919.4,2662.6 L922.4,2663.2 L925.3,2663.7 L928.3,2664.2 L931.3,2664.7 L934.3,2665.2 L937.2,2665.6 L940.2,2666.0 L943.2,2666.4 L946.2,2666.8 L949.1,2667.2 L952.1,2667.6 L955.1,2667.9 L958.1,2668.3 L961.1,2668.6 L964.0,2668.9 L967.0,2669.2 L970.0,2669.4 L973.0,2669.7 L975.9,2669.9 L978.9,2670.2 L981.9,2670.4 L984.9,2670.6 L987.8,2670.8 L990.8,2671.0 L993.8,2671.2 L996.8,2671.4 L999.8,2671.6 L1002.7,2671.7 L1005.7,2671.9 L1008.7,2672.0 L1011.7,2672.2 L1014.6,2672.3 L1017.6,2672.4 L1020.6,2672.5 L1023.6,2672.6 L1026.5,2672.7 L1029.5,2672.8 L1032.5,2672.9 L1035.5,2673.0 L1038.5,2673.1 L1041.4,2673.2 L1044.4,2673.3 L1047.4,2673.3 L1050.4,2673.4 L1053.3,2673.5 L1056.3,2673.5 L1059.3,2673.6 L1062.3,2673.6 L1065.3,2673.7 L1068.2,2673.7 L1071.2,2673.8 L1074.2,2673.8 L1077.2,2673.9 L1080.1,2673.9 L1083.1,2673.9 L1086.1,2674.0 L1089.1,2674.0 L1092.0,2674.0 L1095.0,2674.0 L1098.0,2674.1 L1101.0,2674.1 L1104.0,2674.1 L1106.9,2674.1 L1109.9,2674.1 L1112.9,2674.2 L1115.9,2674.2 L1118.8,2674.2 L1121.8,2674.2 L1124.8,2674.2 L1127.8,2674.2 L1130.7,2674.2 L1133.7,2674.3 L1136.7,2674.3 L1139.7,2674.3 L1142.7,2674.3 L1145.6,2674.3 L1148.6,2674.3 L1151.6,2674.3 L1154.6,2674.3 L1157.5,2674.3 L1160.5,2674.3 L1163.5,2674.3 L1166.5,2674.3 L1169.4,2674.3 L1172.4,2674.3 L1175.4,2674.4 L1178.4,2674.4 L1181.4,2674.4 L1184.3,2674.4 L1187.3,2674.4 L1190.3,2674.4 L1193.3,2674.4 L1196.2,2674.4 L1199.2,2674.4 L1202.2,2674.4 L1205.2,2674.4 L1208.1,2674.4 L1211.1,2674.4 L1214.1,2674.4 L1217.1,2674.4 L1220.1,2674.4 L1223.0,2674.4 L1226.0,2674.4 L1229.0,2674.4 L1232.0,2674.4 L1234.9,2674.4 L1237.9,2674.4 L1240.9,2674.4 L1243.9,2674.4 L1246.8,2674.4 L1249.8,2674.4 L1252.8,2674.4 L1255.8,2674.4 L1258.8,2674.4 L1261.7,2674.4 L1264.7,2674.4 L1267.7,2674.4 L1270.7,2674.4 L1273.6,2674.4 L1276.6,2674.4 L1279.6,2674.4 L1282.6,2674.4 L1285.5,2674.4 L1288.5,2674.4 L1291.5,2674.4 L1294.5,2674.4 L1297.5,2674.4 L1300.4,2674.4 L1303.4,2674.4 L1306.4,2674.4 L1309.4,2674.4 L1312.3,2674.4 L1315.3,2674.4 L1318.3,2674.4 L1321.3,2674.4 L1324.2,2674.4 L1327.2,2674.4 L1330.2,2674.4 L1333.2,2674.4 L1336.2,2674.4 L1339.1,2674.4 L1342.1,2674.4 L1345.1,2674.4 L1348.1,2674.4 L1351.0,2674.4 L1354.0,2674.4 L1357.0,2674.4 L1360.0,2674.4 L1363.0,2674.4 L1365.9,2674.4 L1368.9,2674.4 L1371.9,2674.4 L1374.9,2674.4 L1377.8,2674.4 L1380.8,2674.4 L1383.8,2674.4 L1386.8,2674.4 L1389.7,2674.4 L1392.7,2674.4 L1395.7,2674.4 L1398.7,2674.4 L1401.7,2674.4 L1404.6,2674.4 L1407.6,2674.4 L1410.6,2674.4 L1413.6,2674.4 L1416.5,2674.4 L1419.5,2674.4 L1422.5,2674.4 L1425.5,2674.4 L1428.4,2674.4 L1431.4,2674.4 L1434.4,2674.4 L1437.4,2674.4 L1440.4,2674.4 L1443.3,2674.4 L1446.3,2674.4 L1449.3,2674.4 L1452.3,2674.4 L1455.2,2674.4 L1458.2,2674.4 L1461.2,2674.4 L1464.2,2674.4 L1467.1,2674.4 L1470.1,2674.4 L1473.1,2674.4 L1476.1,2674.4 L1479.1,2674.4 L1482.0,2674.4 L1485.0,2674.4 L1488.0,2674.4 L1491.0,2674.4 L1493.9,2674.4 L1496.9,2674.4 L1499.9,2674.4 L1502.9,2674.4 L1505.8,2674.4 L1508.8,2674.4 L1511.8,2674.4 L1514.8,2674.4 L1517.8,2674.4 L1520.7,2674.4 L1523.7,2674.4 L1526.7,2674.4 L1529.7,2674.4 L1532.6,2674.4 L1535.6,2674.4 L1538.6,2674.4 L1541.6,2674.4 L1544.5,2674.4 L1547.5,2674.4 L1550.5,2674.4 L1553.5,2674.4 L1556.5,2674.4 L1559.4,2674.4 L1562.4,2674.4 L1565.4,2674.4 L1568.4,2674.4 L1571.3,2674.4 L1574.3,2674.4 L1577.3,2674.4 L1580.3,2674.4 L1583.2,2674.4 L1586.2,2674.4 L1589.2,2674.4 L1592.2,2674.4 L1595.2,2674.4 L1598.1,2674.4 L1601.1,2674.4 L1604.1,2674.4 L1607.1,2674.4 L1610.0,2674.4 L1613.0,2674.4 L1616.0,2674.4 L1619.0,2674.4 L1621.9,2674.4" stroke="#1FA187"/>
<path d="M270.4,2674.4 L273.4,2674.4 L276.3,2674.4 L279.3,2674.4 L282.3,2674.4 L285.3,2674.4 L288.3,2674.4 L291.2,2674.4 L294.2,2674.4 L297.2,2674.3 L300.2,2674.2 L303.1,2674.1 L306.1,2674.0 L309.1,2673.7 L312.1,2673.2 L315.0,2672.6 L318.0,2671.6 L321.0,2670.2 L324.0,2668.3 L327.0,2665.6 L329.9,2662.1 L332.9,2657.5 L335.9,2651.7 L338.9,2644.4 L341.8,2635.3 L344.8,2624.4 L347.8,2611.4 L350.8,2596.2 L353.7,2578.6 L356.7,2558.6 L359.7,2536.2 L362.7,2511.4 L365.7,2484.2 L368.6,2454.9 L371.6,2423.5 L374.6,2390.4 L377.6,2355.8 L380.5,2319.9 L383.5,2283.1 L386.5,2245.7 L389.5,2206.8 L392.4,2165.6 L395.4,2125.0 L398.4,2085.3 L401.4,2046.8 L404.4,2010.0 L407.3,1974.9 L410.3,1941.9 L413.3,1911.1 L416.3,1882.7 L419.2,1856.8 L422.2,1833.5 L425.2,1812.8 L428.2,1794.7 L431.1,1779.3 L434.1,1766.6 L437.1,1756.3 L440.1,1748.6 L443.1,1743.3 L446.0,1740.4 L449.0,1739.6 L452.0,1740.5 L455.0,1742.8 L457.9,1746.3 L460.9,1750.9 L463.9,1756.6 L466.9,1763.2 L469.9,1770.7 L472.8,1778.9 L475.8,1787.9 L478.8,1797.5 L481.8,1807.7 L484.7,1818.3 L487.7,1829.4 L490.7,1840.9 L493.7,1852.8 L496.6,1864.9 L499.6,1877.3 L502.6,1889.9 L505.6,1902.6 L508.6,1915.4 L511.5,1928.4 L514.5,1941.4 L517.5,1954.5 L520.5,1967.5 L523.4,1980.4 L526.4,1993.2 L529.4,2006.0 L532.4,2018.7 L535.3,2031.4 L538.3,2044.0 L541.3,2056.5 L544.3,2068.8 L547.3,2081.1 L550.2,2093.2 L553.2,2105.2 L556.2,2117.0 L559.2,2128.7 L562.1,2140.2 L565.1,2151.6 L568.1,2162.7 L571.1,2173.7 L574.0,2184.6 L577.0,2195.2 L580.0,2205.7 L583.0,2216.0 L586.0,2226.1 L588.9,2236.0 L591.9,2245.7 L594.9,2255.3 L597.9,2264.6 L600.8,2273.8 L603.8,2282.8 L606.8,2291.6 L609.8,2300.3 L612.7,2308.7 L615.7,2317.0 L618.7,2325.1 L621.7,2333.1 L624.7,2340.8 L627.6,2348.4 L630.6,2355.9 L633.6,2363.1 L636.6,2370.2 L639.5,2377.2 L642.5,2384.0 L645.5,2390.6 L648.5,2397.1 L651.4,2403.5 L654.4,2409.7 L657.4,2415.8 L660.4,2421.7 L663.4,2427.5 L666.3,2433.1 L669.3,2438.7 L672.3,2444.1 L675.3,2449.3 L678.2,2454.5 L681.2,2459.5 L684.2,2464.4 L687.2,2469.2 L690.1,2473.9 L693.1,2478.5 L696.1,2482.9 L699.1,2487.3 L702.1,2491.6 L705.0,2495.7 L708.0,2499.8 L711.0,2503.7 L714.0,2507.6 L716.9,2511.4 L719.9,2515.1 L722.9,2518.7 L725.9,2522.2 L728.8,2525.7 L731.8,2529.1 L734.8,2532.4 L737.8,2535.6 L740.8,2538.8 L743.7,2542.0 L746.7,2545.0 L749.7,2548.1 L752.7,2551.1 L755.6,2554.0 L758.6,2556.9 L761.6,2559.8 L764.6,2562.6 L767.6,2565.4 L770.5,2568.1 L773.5,2570.8 L776.5,2573.4 L779.5,2576.0 L782.4,2578.6 L785.4,2581.1 L788.4,2583.6 L791.4,2586.0 L794.3,2588.4 L797.3,2590.7 L800.3,2593.0 L803.3,2595.3 L806.3,2597.5 L809.2,2599.7 L812.2,2601.8 L815.2,2603.9 L818.2,2605.9 L821.1,2607.9 L824.1,2609.9 L827.1,2611.8 L830.1,2613.7 L833.0,2615.5 L836.0,2617.3 L839.0,2619.0 L842.0,2620.7 L845.0,2622.4 L847.9,2624.0 L850.9,2625.6 L853.9,2627.2 L856.9,2628.7 L859.8,2630.2 L862.8,2631.6 L865.8,2633.0 L868.8,2634.4 L871.7,2635.7 L874.7,2637.0 L877.7,2638.3 L880.7,2639.5 L883.7,2640.7 L886.6,2641.9 L889.6,2643.0 L892.6,2644.1 L895.6,2645.2 L898.5,2646.2 L901.5,2647.2 L904.5,2648.2 L907.5,2649.1 L910.4,2650.0 L913.4,2650.9 L916.4,2651.8 L919.4,2652.6 L922.4,2653.5 L925.3,2654.2 L928.3,2655.0 L931.3,2655.7 L934.3,2656.5 L937.2,2657.1 L940.2,2657.8 L943.2,2658.5 L946.2,2659.1 L949.1,2659.7 L952.1,2660.3 L955.1,2660.8 L958.1,2661.4 L961.1,2661.9 L964.0,2662.4 L967.0,2662.9 L970.0,2663.4 L973.0,2663.8 L975.9,2664.3 L978.9,2664.7 L981.9,2665.1 L984.9,2665.5 L987.8,2665.9 L990.8,2666.3 L993.8,2666.6 L996.8,2666.9 L999.8,2667.3 L1002.7,2667.6 L1005.7,2667.9 L1008.7,2668.2 L1011.7,2668.4 L1014.6,2668.7 L1017.6,2669.0 L1020.6,2669.2 L1023.6,2669.5 L1026.5,2669.7 L1029.5,2669.9 L1032.5,2670.1 L1035.5,2670.3 L1038.5,2670.5 L1041.4,2670.7 L1044.4,2670.9 L1047.4,2671.0 L1050.4,2671.2 L1053.3,2671.3 L1056.3,2671.5 L1059.3,2671.6 L1062.3,2671.8 L1065.3,2671.9 L1068.2,2672.0 L1071.2,2672.1 L1074.2,2672.2 L1077.2,2672.4 L1080.1,2672.5 L1083.1,2672.6 L1086.1,2672.6 L1089.1,2672.7 L1092.0,2672.8 L1095.0,2672.9 L1098.0,2673.0 L1101.0,2673.1 L1104.0,2673.1 L1106.9,2673.2 L1109.9,2673.3 L1112.9,2673.3 L1115.9,2673.4 L1118.8,2673.4 L1121.8,2673.5 L1124.8,2673.5 L1127.8,2673.6 L1130.7,2673.6 L1133.7,2673.7 L1136.7,2673.7 L1139.7,2673.7 L1142.7,2673.8 L1145.6,2673.8 L1148.6,2673.8 L1151.6,2673.9 L1154.6,2673.9 L1157.5,2673.9 L1160.5,2674.0 L1163.5,2674.0 L1166.5,2674.0 L1169.4,2674.0 L1172.4,2674.1 L1175.4,2674.1 L1178.4,2674.1 L1181.4,2674.1 L1184.3,2674.1 L1187.3,2674.1 L1190.3,2674.2 L1193.3,2674.2 L1196.2,2674.2 L1199.2,2674.2 L1202.2,2674.2 L1205.2,2674.2 L1208.1,2674.2 L1211.1,2674.2 L1214.1,2674.3 L1217.1,2674.3 L1220.1,2674.3 L1223.0,2674.3 L1226.0,2674.3 L1229.0,2674.3 L1232.0,2674.3 L1234.9,2674.3 L1237.9,2674.3 L1240.9,2674.3 L1243.9,2674.3 L1246.8,2674.3 L1249.8,2674.3 L1252.8,2674.3 L1255.8,2674.3 L1258.8,2674.3 L1261.7,2674.3 L1264.7,2674.4 L1267.7,2674.4 L1270.7,2674.4 L1273.6,2674.4 L1276.6,2674.4 L1279.6,2674.4 L1282.6,2674.4 L1285.5,2674.4 L1288.5,2674.4 L1291.5,2674.4 L1294.5,2674.4 L1297.5,2674.4 L1300.4,2674.4 L1303.4,2674.4 L1306.4,2674.4 L1309.4,2674.4 L1312.3,2674.4 L1315.3,2674.4 L1318.3,2674.4 L1321.3,2674.4 L1324.2,2674.4 L1327.2,2674.4 L1330.2,2674.4 L1333.2,2674.4 L1336.2,2674.4 L1339.1,2674.4 L1342.1,2674.4 L1345.1,2674.4 L1348.1,2674.4 L1351.0,2674.4 L1354.0,2674.4 L1357.0,2674.4 L1360.0,2674.4 L1363.0,2674.4 L1365.9,2674.4 L1368.9,2674.4 L1371.9,2674.4 L1374.9,2674.4 L1377.8,2674.4 L1380.8,2674.4 L1383.8,2674.4 L1386.8,2674.4 L1389.7,2674.4 L1392.7,2674.4 L1395.7,2674.4 L1398.7,2674.4 L1401.7,2674.4 L1404.6,2674.4 L1407.6,2674.4 L1410.6,2674.4 L1413.6,2674.4 L1416.5,2674.4 L1419.5,2674.4 L1422.5,2674.4 L1425.5,2674.4 L1428.4,2674.4 L1431.4,2674.4 L1434.4,2674.4 L1437.4,2674.4 L1440.4,2674.4 L1443.3,2674.4 L1446.3,2674.4 L1449.3,2674.4 L1452.3,2674.4 L1455.2,2674.4 L1458.2,2674.4 L1461.2,2674.4 L1464.2,2674.4 L1467.1,2674.4 L1470.1,2674.4 L1473.1,2674.4 L1476.1,2674.4 L1479.1,2674.4 L1482.0,2674.4 L1485.0,2674.4 L1488.0,2674.4 L1491.0,2674.4 L1493.9,2674.4 L1496.9,2674.4 L1499.9,2674.4 L1502.9,2674.4 L1505.8,2674.4 L1508.8,2674.4 L1511.8,2674.4 L1514.8,2674.4 L1517.8,2674.4 L1520.7,2674.4 L1523.7,2674.4 L1526.7,2674.4 L1529.7,2674.4 L1532.6,2674.4 L1535.6,2674.4 L1538.6,2674.4 L1541.6,2674.4 L1544.5,2674.4 L1547.5,2674.4 L1550.5,2674.4 L1553.5,2674.4 L1556.5,2674.4 L1559.4,2674.4 L1562.4,2674.4 L1565.4,2674.4 L1568.4,2674.4 L1571.3,2674.4 L1574.3,2674.4 L1577.3,2674.4 L1580.3,2674.4 L1583.2,2674.4 L1586.2,2674.4 L1589.2,2674.4 L1592.2,2674.4 L1595.2,2674.4 L1598.1,2674.4 L1601.1,2674.4 L1604.1,2674.4 L1607.1,2674.4 L1610.0,2674.4 L1613.0,2674.4 L1616.0,2674.4 L1619.0,2674.4 L1621.9,2674.4" stroke="#4AC16D"/>
<path d="M270.4,2674.4 L273.4,2674.4 L276.3,2674.4 L279.3,2674.4 L282.3,2674.4 L285.3,2674.4 L288.3,2674.4 L291.2,2674.4 L294.2,2674.4 L297.2,2674.3 L300.2,2674.3 L303.1,2674.1 L306.1,2674.0 L309.1,2673.7 L312.1,2673.3 L315.0,2672.7 L318.0,2671.9 L321.0,2670.7 L324.0,2669.0 L327.0,2666.8 L329.9,2663.8 L332.9,2659.9 L335.9,2655.0 L338.9,2648.8 L341.8,2641.2 L344.8,2631.9 L347.8,2620.8 L350.8,2607.8 L353.7,2592.6 L356.7,2575.3 L359.7,2555.8 L362.7,2533.9 L365.7,2509.8 L368.6,2483.5 L371.6,2455.1 L374.6,2424.8 L377.6,2392.8 L380.5,2359.2 L383.5,2324.3 L386.5,2288.5 L389.5,2251.9 L392.4,2214.8 L395.4,2175.5 L398.4,2135.3 L401.4,2095.7 L404.4,2057.1 L407.3,2019.7 L410.3,1983.8 L413.3,1949.7 L416.3,1917.5 L419.2,1887.4 L422.2,1859.6 L425.2,1834.2 L428.2,1811.2 L431.1,1790.8 L434.1,1772.9 L437.1,1757.6 L440.1,1744.8 L443.1,1734.6 L446.0,1726.7 L449.0,1721.3 L452.0,1718.1 L455.0,1717.2 L457.9,1718.1 L460.9,1720.7 L463.9,1724.7 L466.9,1730.0 L469.9,1736.6 L472.8,1744.3 L475.8,1752.9 L478.8,1762.4 L481.8,1772.7 L484.7,1783.6 L487.7,1795.1 L490.7,1807.2 L493.7,1819.7 L496.6,1832.6 L499.6,1845.8 L502.6,1859.3 L505.6,1873.0 L508.6,1886.9 L511.5,1900.8 L514.5,1914.9 L517.5,1929.0 L520.5,1943.1 L523.4,1956.9 L526.4,1970.8 L529.4,1984.5 L532.4,1998.3 L535.3,2011.9 L538.3,2025.4 L541.3,2038.8 L544.3,2052.1 L547.3,2065.2 L550.2,2078.2 L553.2,2091.0 L556.2,2103.7 L559.2,2116.1 L562.1,2128.4 L565.1,2140.5 L568.1,2152.3 L571.1,2164.0 L574.0,2175.5 L577.0,2186.7 L580.0,2197.8 L583.0,2208.6 L586.0,2219.2 L588.9,2229.6 L591.9,2239.8 L594.9,2249.8 L597.9,2259.6 L600.8,2269.2 L603.8,2278.6 L606.8,2287.8 L609.8,2296.7 L612.7,2305.5 L615.7,2314.1 L618.7,2322.5 L621.7,2330.7 L624.7,2338.7 L627.6,2346.5 L630.6,2354.2 L633.6,2361.7 L636.6,2369.0 L639.5,2376.1 L642.5,2383.1 L645.5,2389.9 L648.5,2396.5 L651.4,2403.0 L654.4,2409.3 L657.4,2415.5 L660.4,2421.5 L663.4,2427.4 L666.3,2433.2 L669.3,2438.8 L672.3,2444.2 L675.3,2449.6 L678.2,2454.8 L681.2,2459.9 L684.2,2464.8 L687.2,2469.7 L690.1,2474.4 L693.1,2479.0 L696.1,2483.5 L699.1,2487.9 L702.1,2492.1 L705.0,2496.3 L708.0,2500.4 L711.0,2504.3 L714.0,2508.2 L716.9,2512.0 L719.9,2515.7 L722.9,2519.3 L725.9,2522.8 L728.8,2526.3 L731.8,2529.7 L734.8,2533.0 L737.8,2536.2 L740.8,2539.4 L743.7,2542.5 L746.7,2545.6 L749.7,2548.6 L752.7,2551.6 L755.6,2554.5 L758.6,2557.4 L761.6,2560.2 L764.6,2563.0 L767.6,2565.8 L770.5,2568.5 L773.5,2571.2 L776.5,2573.8 L779.5,2576.4 L782.4,2578.9 L785.4,2581.4 L788.4,2583.9 L791.4,2586.3 L794.3,2588.7 L797.3,2591.0 L800.3,2593.3 L803.3,2595.5 L806.3,2597.7 L809.2,2599.9 L812.2,2602.0 L815.2,2604.1 L818.2,2606.1 L821.1,2608.1 L824.1,2610.0 L827.1,2611.9 L830.1,2613.8 L833.0,2615.6 L836.0,2617.4 L839.0,2619.1 L842.0,2620.8 L845.0,2622.5 L847.9,2624.1 L850.9,2625.7 L853.9,2627.3 L856.9,2628.8 L859.8,2630.2 L862.8,2631.7 L865.8,2633.1 L868.8,2634.4 L871.7,2635.8 L874.7,2637.1 L877.7,2638.3 L880.7,2639.5 L883.7,2640.7 L886.6,2641.9 L889.6,2643.0 L892.6,2644.1 L895.6,2645.2 L898.5,2646.2 L901.5,2647.2 L904.5,2648.2 L907.5,2649.1 L910.4,2650.0 L913.4,2650.9 L916.4,2651.8 L919.4,2652.6 L922.4,2653.4 L925.3,2654.2 L928.3,2655.0 L931.3,2655.7 L934.3,2656.4 L937.2,2657.1 L940.2,2657.8 L943.2,2658.5 L946.2,2659.1 L949.1,2659.7 L952.1,2660.3 L955.1,2660.8 L958.1,2661.4 L961.1,2661.9 L964.0,2662.4 L967.0,2662.9 L970.0,2663.4 L973.0,2663.8 L975.9,2664.3 L978.9,2664.7 L981.9,2665.1 L984.9,2665.5 L987.8,2665.9 L990.8,2666.2 L993.8,2666.6 L996.8,2666.9 L999.8,2667.3 L1002.7,2667.6 L1005.7,2667.9 L1008.7,2668.2 L1011.7,2668.4 L1014.6,2668.7 L1017.6,2669.0 L1020.6,2669.2 L1023.6,2669.4 L1026.5,2669.7 L1029.5,2669.9 L1032.5,2670.1 L1035.5,2670.3 L1038.5,2670.5 L1041.4,2670.7 L1044.4,2670.9 L1047.4,2671.0 L1050.4,2671.2 L1053.3,2671.3 L1056.3,2671.5 L1059.3,2671.6 L1062.3,2671.8 L1065.3,2671.9 L1068.2,2672.0 L1071.2,2672.1 L1074.2,2672.2 L1077.2,2672.4 L1080.1,2672.5 L1083.1,2672.6 L1086.1,2672.6 L1089.1,2672.7 L1092.0,2672.8 L1095.0,2672.9 L1098.0,2673.0 L1101.0,2673.1 L1104.0,2673.1 L1106.9,2673.2 L1109.9,2673.3 L1112.9,2673.3 L1115.9,2673.4 L1118.8,2673.4 L1121.8,2673.5 L1124.8,2673.5 L1127.8,2673.6 L1130.7,2673.6 L1133.7,2673.7 L1136.7,2673.7 L1139.7,2673.7 L1142.7,2673.8 L1145.6,2673.8 L1148.6,2673.8 L1151.6,2673.9 L1154.6,2673.9 L1157.5,2673.9 L1160.5,2674.0 L1163.5,2674.0 L1166.5,2674.0 L1169.4,2674.0 L1172.4,2674.1 L1175.4,2674.1 L1178.4,2674.1 L1181.4,2674.1 L1184.3,2674.1 L1187.3,2674.1 L1190.3,2674.2 L1193.3,2674.2 L1196.2,2674.2 L1199.2,2674.2 L1202.2,2674.2 L1205.2,2674.2 L1208.1,2674.2 L1211.1,2674.2 L1214.1,2674.3 L1217.1,2674.3 L1220.1,2674.3 L1223.0,2674.3 L1226.0,2674.3 L1229.0,2674.3 L1232.0,2674.3 L1234.9,2674.3 L1237.9,2674.3 L1240.9,2674.3 L1243.9,2674.3 L1246.8,2674.3 L1249.8,2674.3 L1252.8,2674.3 L1255.8,2674.3 L1258.8,2674.3 L1261.7,2674.3 L1264.7,2674.4 L1267.7,2674.4 L1270.7,2674.4 L1273.6,2674.4 L1276.6,2674.4 L1279.6,2674.4 L1282.6,2674.4 L1285.5,2674.4 L1288.5,2674.4 L1291.5,2674.4 L1294.5,2674.4 L1297.5,2674.4 L1300.4,2674.4 L1303.4,2674.4 L1306.4,2674.4 L1309.4,2674.4 L1312.3,2674.4 L1315.3,2674.4 L1318.3,2674.4 L1321.3,2674.4 L1324.2,2674.4 L1327.2,2674.4 L1330.2,2674.4 L1333.2,2674.4 L1336.2,2674.4 L1339.1,2674.4 L1342.1,2674.4 L1345.1,2674.4 L1348.1,2674.4 L1351.0,2674.4 L1354.0,2674.4 L1357.0,2674.4 L1360.0,2674.4 L1363.0,2674.4 L1365.9,2674.4 L1368.9,2674.4 L1371.9,2674.4 L1374.9,2674.4 L1377.8,2674.4 L1380.8,2674.4 L1383.8,2674.4 L1386.8,2674.4 L1389.7,2674.4 L1392.7,2674.4 L1395.7,2674.4 L1398.7,2674.4 L1401.7,2674.4 L1404.6,2674.4 L1407.6,2674.4 L1410.6,2674.4 L1413.6,2674.4 L1416.5,2674.4 L1419.5,2674.4 L1422.5,2674.4 L1425.5,2674.4 L1428.4,2674.4 L1431.4,2674.4 L1434.4,2674.4 L1437.4,2674.4 L1440.4,2674.4 L1443.3,2674.4 L1446.3,2674.4 L1449.3,2674.4 L1452.3,2674.4 L1455.2,2674.4 L1458.2,2674.4 L1461.2,2674.4 L1464.2,2674.4 L1467.1,2674.4 L1470.1,2674.4 L1473.1,2674.4 L1476.1,2674.4 L1479.1,2674.4 L1482.0,2674.4 L1485.0,2674.4 L1488.0,2674.4 L1491.0,2674.4 L1493.9,2674.4 L1496.9,2674.4 L1499.9,2674.4 L1502.9,2674.4 L1505.8,2674.4 L1508.8,2674.4 L1511.8,2674.4 L1514.8,2674.4 L1517.8,2674.4 L1520.7,2674.4 L1523.7,2674.4 L1526.7,2674.4 L1529.7,2674.4 L1532.6,2674.4 L1535.6,2674.4 L1538.6,2674.4 L1541.6,2674.4 L1544.5,2674.4 L1547.5,2674.4 L1550.5,2674.4 L1553.5,2674.4 L1556.5,2674.4 L1559.4,2674.4 L1562.4,2674.4 L1565.4,2674.4 L1568.4,2674.4 L1571.3,2674.4 L1574.3,2674.4 L1577.3,2674.4 L1580.3,2674.4 L1583.2,2674.4 L1586.2,2674.4 L1589.2,2674.4 L1592.2,2674.4 L1595.2,2674.4 L1598.1,2674.4 L1601.1,2674.4 L1604.1,2674.4 L1607.1,2674.4 L1610.0,2674.4 L1613.0,2674.4 L1616.0,2674.4 L1619.0,2674.4 L1621.9,2674.4" stroke="#9FDA3A"/>
<path d="M270.4,2674.4 L273.4,2674.4 L276.3,2674.4 L279.3,2674.4 L282.3,2674.4 L285.3,2674.4 L288.3,2674.4 L291.2,2674.4 L294.2,2674.4 L297.2,2674.3 L300.2,2674.3 L303.1,2674.2 L306.1,2674.0 L309.1,2673.7 L312.1,2673.3 L315.0,2672.6 L318.0,2671.6 L321.0,2670.1 L324.0,2668.0 L327.0,2665.2 L329.9,2661.3 L332.9,2656.3 L335.9,2650.0 L338.9,2642.0 L341.8,2632.2 L344.8,2620.5 L347.8,2606.7 L350.8,2590.8 L353.7,2572.6 L356.7,2552.3 L359.7,2529.9 L362.7,2505.5 L365.7,2479.3 L368.6,2451.4 L371.6,2422.2 L374.6,2391.8 L377.6,2360.6 L380.5,2328.8 L383.5,2296.3 L386.5,2261.3 L389.5,2226.7 L392.4,2192.9 L395.4,2160.1 L398.4,2128.3 L401.4,2098.0 L404.4,2069.1 L407.3,2041.9 L410.3,2016.3 L413.3,1992.6 L416.3,1970.7 L419.2,1950.7 L422.2,1932.5 L425.2,1916.2 L428.2,1901.8 L431.1,1889.2 L434.1,1878.4 L437.1,1869.3 L440.1,1861.9 L443.1,1856.1 L446.0,1851.9 L449.0,1849.1 L452.0,1847.7 L455.0,1847.6 L457.9,1848.4 L460.9,1850.0 L463.9,1852.3 L466.9,1855.4 L469.9,1859.1 L472.8,1863.4 L475.8,1868.4 L478.8,1873.8 L481.8,1879.8 L484.7,1886.2 L487.7,1893.1 L490.7,1900.3 L493.7,1907.9 L496.6,1915.9 L499.6,1924.1 L502.6,1932.6 L505.6,1941.4 L508.6,1950.4 L511.5,1959.6 L514.5,1968.9 L517.5,1978.4 L520.5,1988.0 L523.4,1997.8 L526.4,2007.6 L529.4,2017.5 L532.4,2027.4 L535.3,2037.4 L538.3,2047.4 L541.3,2057.4 L544.3,2067.3 L547.3,2077.2 L550.2,2087.1 L553.2,2097.0 L556.2,2106.8 L559.2,2116.5 L562.1,2126.3 L565.1,2135.9 L568.1,2145.5 L571.1,2155.0 L574.0,2164.4 L577.0,2173.8 L580.0,2183.0 L583.0,2192.2 L586.0,2201.2 L588.9,2210.2 L591.9,2219.0 L594.9,2227.7 L597.9,2236.3 L600.8,2244.8 L603.8,2253.2 L606.8,2261.5 L609.8,2269.6 L612.7,2277.6 L615.7,2285.5 L618.7,2293.3 L621.7,2301.0 L624.7,2308.5 L627.6,2315.9 L630.6,2323.2 L633.6,2330.4 L636.6,2337.4 L639.5,2344.3 L642.5,2351.1 L645.5,2357.8 L648.5,2364.3 L651.4,2370.8 L654.4,2377.1 L657.4,2383.3 L660.4,2389.4 L663.4,2395.3 L666.3,2401.2 L669.3,2406.9 L672.3,2412.6 L675.3,2418.1 L678.2,2423.5 L681.2,2428.8 L684.2,2434.0 L687.2,2439.1 L690.1,2444.1 L693.1,2449.0 L696.1,2453.8 L699.1,2458.5 L702.1,2463.1 L705.0,2467.6 L708.0,2472.0 L711.0,2476.4 L714.0,2480.6 L716.9,2484.8 L719.9,2488.9 L722.9,2493.0 L725.9,2496.9 L728.8,2500.8 L731.8,2504.7 L734.8,2508.4 L737.8,2512.1 L740.8,2515.8 L743.7,2519.4 L746.7,2522.9 L749.7,2526.4 L752.7,2529.8 L755.6,2533.1 L758.6,2536.4 L761.6,2539.7 L764.6,2542.8 L767.6,2546.0 L770.5,2549.0 L773.5,2552.0 L776.5,2555.0 L779.5,2557.9 L782.4,2560.7 L785.4,2563.5 L788.4,2566.2 L791.4,2568.9 L794.3,2571.5 L797.3,2574.1 L800.3,2576.6 L803.3,2579.1 L806.3,2581.5 L809.2,2583.9 L812.2,2586.2 L815.2,2588.5 L818.2,2590.7 L821.1,2592.9 L824.1,2595.0 L827.1,2597.1 L830.1,2599.1 L833.0,2601.1 L836.0,2603.1 L839.0,2605.0 L842.0,2606.9 L845.0,2608.7 L847.9,2610.5 L850.9,2612.2 L853.9,2613.9 L856.9,2615.6 L859.8,2617.2 L862.8,2618.8 L865.8,2620.3 L868.8,2621.8 L871.7,2623.3 L874.7,2624.8 L877.7,2626.2 L880.7,2627.5 L883.7,2628.9 L886.6,2630.2 L889.6,2631.5 L892.6,2632.7 L895.6,2633.9 L898.5,2635.1 L901.5,2636.2 L904.5,2637.4 L907.5,2638.4 L910.4,2639.5 L913.4,2640.5 L916.4,2641.6 L919.4,2642.5 L922.4,2643.5 L925.3,2644.4 L928.3,2645.3 L931.3,2646.2 L934.3,2647.1 L937.2,2647.9 L940.2,2648.7 L943.2,2649.5 L946.2,2650.3 L949.1,2651.0 L952.1,2651.8 L955.1,2652.5 L958.1,2653.2 L961.1,2653.8 L964.0,2654.5 L967.0,2655.1 L970.0,2655.7 L973.0,2656.3 L975.9,2656.9 L978.9,2657.5 L981.9,2658.0 L984.9,2658.6 L987.8,2659.1 L990.8,2659.6 L993.8,2660.1 L996.8,2660.5 L999.8,2661.0 L1002.7,2661.4 L1005.7,2661.9 L1008.7,2662.3 L1011.7,2662.7 L1014.6,2663.1 L1017.6,2663.5 L1020.6,2663.8 L1023.6,2664.2 L1026.5,2664.5 L1029.5,2664.9 L1032.5,2665.2 L1035.5,2665.5 L1038.5,2665.8 L1041.4,2666.1 L1044.4,2666.4 L1047.4,2666.7 L1050.4,2667.0 L1053.3,2667.2 L1056.3,2667.5 L1059.3,2667.7 L1062.3,2668.0 L1065.3,2668.2 L1068.2,2668.4 L1071.2,2668.6 L1074.2,2668.8 L1077.2,2669.0 L1080.1,2669.2 L1083.1,2669.4 L1086.1,2669.6 L1089.1,2669.8 L1092.0,2669.9 L1095.0,2670.1 L1098.0,2670.3 L1101.0,2670.4 L1104.0,2670.6 L1106.9,2670.7 L1109.9,2670.8 L1112.9,2671.0 L1115.9,2671.1 L1118.8,2671.2 L1121.8,2671.3 L1124.8,2671.5 L1127.8,2671.6 L1130.7,2671.7 L1133.7,2671.8 L1136.7,2671.9 L1139.7,2672.0 L1142.7,2672.1 L1145.6,2672.2 L1148.6,2672.2 L1151.6,2672.3 L1154.6,2672.4 L1157.5,2672.5 L1160.5,2672.6 L1163.5,2672.6 L1166.5,2672.7 L1169.4,2672.8 L1172.4,2672.8 L1175.4,2672.9 L1178.4,2673.0 L1181.4,2673.0 L1184.3,2673.1 L1187.3,2673.1 L1190.3,2673.2 L1193.3,2673.2 L1196.2,2673.3 L1199.2,2673.3 L1202.2,2673.4 L1205.2,2673.4 L1208.1,2673.4 L1211.1,2673.5 L1214.1,2673.5 L1217.1,2673.6 L1220.1,2673.6 L1223.0,2673.6 L1226.0,2673.7 L1229.0,2673.7 L1232.0,2673.7 L1234.9,2673.7 L1237.9,2673.8 L1240.9,2673.8 L1243.9,2673.8 L1246.8,2673.9 L1249.8,2673.9 L1252.8,2673.9 L1255.8,2673.9 L1258.8,2673.9 L1261.7,2674.0 L1264.7,2674.0 L1267.7,2674.0 L1270.7,2674.0 L1273.6,2674.0 L1276.6,2674.0 L1279.6,2674.1 L1282.6,2674.1 L1285.5,2674.1 L1288.5,2674.1 L1291.5,2674.1 L1294.5,2674.1 L1297.5,2674.1 L1300.4,2674.2 L1303.4,2674.2 L1306.4,2674.2 L1309.4,2674.2 L1312.3,2674.2 L1315.3,2674.2 L1318.3,2674.2 L1321.3,2674.2 L1324.2,2674.2 L1327.2,2674.2 L1330.2,2674.2 L1333.2,2674.3 L1336.2,2674.3 L1339.1,2674.3 L1342.1,2674.3 L1345.1,2674.3 L1348.1,2674.3 L1351.0,2674.3 L1354.0,2674.3 L1357.0,2674.3 L1360.0,2674.3 L1363.0,2674.3 L1365.9,2674.3 L1368.9,2674.3 L1371.9,2674.3 L1374.9,2674.3 L1377.8,2674.3 L1380.8,2674.3 L1383.8,2674.3 L1386.8,2674.3 L1389.7,2674.3 L1392.7,2674.3 L1395.7,2674.3 L1398.7,2674.3 L1401.7,2674.4 L1404.6,2674.4 L1407.6,2674.4 L1410.6,2674.4 L1413.6,2674.4 L1416.5,2674.4 L1419.5,2674.4 L1422.5,2674.4 L1425.5,2674.4 L1428.4,2674.4 L1431.4,2674.4 L1434.4,2674.4 L1437.4,2674.4 L1440.4,2674.4 L1443.3,2674.4 L1446.3,2674.4 L1449.3,2674.4 L1452.3,2674.4 L1455.2,2674.4 L1458.2,2674.4 L1461.2,2674.4 L1464.2,2674.4 L1467.1,2674.4 L1470.1,2674.4 L1473.1,2674.4 L1476.1,2674.4 L1479.1,2674.4 L1482.0,2674.4 L1485.0,2674.4 L1488.0,2674.4 L1491.0,2674.4 L1493.9,2674.4 L1496.9,2674.4 L1499.9,2674.4 L1502.9,2674.4 L1505.8,2674.4 L1508.8,2674.4 L1511.8,2674.4 L1514.8,2674.4 L1517.8,2674.4 L1520.7,2674.4 L1523.7,2674.4 L1526.7,2674.4 L1529.7,2674.4 L1532.6,2674.4 L1535.6,2674.4 L1538.6,2674.4 L1541.6,2674.4 L1544.5,2674.4 L1547.5,2674.4 L1550.5,2674.4 L1553.5,2674.4 L1556.5,2674.4 L1559.4,2674.4 L1562.4,2674.4 L1565.4,2674.4 L1568.4,2674.4 L1571.3,2674.4 L1574.3,2674.4 L1577.3,2674.4 L1580.3,2674.4 L1583.2,2674.4 L1586.2,2674.4 L1589.2,2674.4 L1592.2,2674.4 L1595.2,2674.4 L1598.1,2674.4 L1601.1,2674.4 L1604.1,2674.4 L1607.1,2674.4 L1610.0,2674.4 L1613.0,2674.4 L1616.0,2674.4 L1619.0,2674.4 L1621.9,2674.4" stroke="#FDE725"/>
</g>
<rect x="261.6" y="1508.4" width="1354.8000000000002" height="1211.1999999999998" fill="none" stroke="#000" stroke-width="2"/>
<g stroke="#000" stroke-width="2"><line x1="282.3" y1="2719.6" x2="282.3" y2="2738.6"/><line x1="261.6" y1="2674.4" x2="242.60000000000002" y2="2674.4"/><line x1="580.0" y1="2719.6" x2="580.0" y2="2738.6"/><line x1="261.6" y1="2394.1" x2="242.60000000000002" y2="2394.1"/><line x1="877.7" y1="2719.6" x2="877.7" y2="2738.6"/><line x1="261.6" y1="2113.8" x2="242.60000000000002" y2="2113.8"/><line x1="1175.4" y1="2719.6" x2="1175.4" y2="2738.6"/><line x1="261.6" y1="1833.5" x2="242.60000000000002" y2="1833.5"/><line x1="1473.1" y1="2719.6" x2="1473.1" y2="2738.6"/><line x1="261.6" y1="1553.2" x2="242.60000000000002" y2="1553.2"/></g>
<text x="281.3" y="2786.5" font-size="41" text-anchor="middle" fill="#000">0</text>
<text x="217.0" y="2674.4" font-size="41" text-anchor="middle" fill="#000" transform="rotate(-90 217 2674.4)">0e+00</text>
<text x="579.0" y="2786.5" font-size="41" text-anchor="middle" fill="#000">2000</text>
<text x="217.0" y="2394.1" font-size="41" text-anchor="middle" fill="#000" transform="rotate(-90 217 2394.1)">2e-04</text>
<text x="876.7" y="2786.5" font-size="41" text-anchor="middle" fill="#000">4000</text>
<text x="217.0" y="2113.8" font-size="41" text-anchor="middle" fill="#000" transform="rotate(-90 217 2113.8)">4e-04</text>
<text x="1174.4" y="2786.5" font-size="41" text-anchor="middle" fill="#000">6000</text>
<text x="217.0" y="1833.5" font-size="41" text-anchor="middle" fill="#000" transform="rotate(-90 217 1833.5)">6e-04</text>
<text x="1472.1" y="2786.5" font-size="41" text-anchor="middle" fill="#000">8000</text>
<text x="217.0" y="1553.2" font-size="41" text-anchor="middle" fill="#000" transform="rotate(-90 217 1553.2)">8e-04</text>
<text x="939.5" y="2861.3" font-size="47.8" text-anchor="middle" fill="#000">Transcript length (bp)</text>
<text x="143.0" y="2113.0" font-size="48" text-anchor="middle" fill="#000" transform="rotate(-90 143 2113)">Density</text>
<line x1="984.6" y1="1604.3" x2="1056.8" y2="1604.3" stroke="#440154" stroke-width="4.2"/>
<text x="1086.2" y="1616.5" font-size="36.8" textLength="490" lengthAdjust="spacing">Run1-Pool1 (<tspan font-family='"Liberation Serif", "Times New Roman", serif' font-size="43">μ</tspan>=2312, <tspan font-family='"Liberation Serif", "Times New Roman", serif' font-size="43">σ</tspan>=763)</text>
<line x1="984.6" y1="1655.6" x2="1056.8" y2="1655.6" stroke="#46337E" stroke-width="4.2"/>
<text x="1086.2" y="1667.8" font-size="36.8" textLength="490" lengthAdjust="spacing">Run1-Pool2 (<tspan font-family='"Liberation Serif", "Times New Roman", serif' font-size="43">μ</tspan>=2077, <tspan font-family='"Liberation Serif", "Times New Roman", serif' font-size="43">σ</tspan>=727)</text>
<line x1="984.6" y1="1707.0" x2="1056.8" y2="1707.0" stroke="#365C8D" stroke-width="4.2"/>
<text x="1086.2" y="1719.2" font-size="36.8" textLength="490" lengthAdjust="spacing">Run1-Pool3 (<tspan font-family='"Liberation Serif", "Times New Roman", serif' font-size="43">μ</tspan>=1959, <tspan font-family='"Liberation Serif", "Times New Roman", serif' font-size="43">σ</tspan>=671)</text>
<line x1="984.6" y1="1758.3" x2="1056.8" y2="1758.3" stroke="#277F8E" stroke-width="4.2"/>
<text x="1086.2" y="1770.5" font-size="36.8" textLength="490" lengthAdjust="spacing">Run1-Pool4 (<tspan font-family='"Liberation Serif", "Times New Roman", serif' font-size="43">μ</tspan>=1858, <tspan font-family='"Liberation Serif", "Times New Roman", serif' font-size="43">σ</tspan>=770)</text>
<line x1="984.6" y1="1809.7" x2="1056.8" y2="1809.7" stroke="#1FA187" stroke-width="4.2"/>
<text x="1086.2" y="1821.9" font-size="36.8" textLength="490" lengthAdjust="spacing">Run2-Pool1 (<tspan font-family='"Liberation Serif", "Times New Roman", serif' font-size="43">μ</tspan>=1538, <tspan font-family='"Liberation Serif", "Times New Roman", serif' font-size="43">σ</tspan>=723)</text>
<line x1="984.6" y1="1861.0" x2="1056.8" y2="1861.0" stroke="#4AC16D" stroke-width="4.2"/>
<text x="1086.2" y="1873.2" font-size="36.8" textLength="490" lengthAdjust="spacing">Run2-Pool2 (<tspan font-family='"Liberation Serif", "Times New Roman", serif' font-size="43">μ</tspan>=1666, <tspan font-family='"Liberation Serif", "Times New Roman", serif' font-size="43">σ</tspan>=776)</text>
<line x1="984.6" y1="1912.4" x2="1056.8" y2="1912.4" stroke="#9FDA3A" stroke-width="4.2"/>
<text x="1086.2" y="1924.6" font-size="36.8" textLength="490" lengthAdjust="spacing">Run2-Pool3 (<tspan font-family='"Liberation Serif", "Times New Roman", serif' font-size="43">μ</tspan>=1691, <tspan font-family='"Liberation Serif", "Times New Roman", serif' font-size="43">σ</tspan>=783)</text>
<line x1="984.6" y1="1963.8" x2="1056.8" y2="1963.8" stroke="#FDE725" stroke-width="4.2"/>
<text x="1086.2" y="1976.0" font-size="36.8" textLength="490" lengthAdjust="spacing">Run2-Pool4 (<tspan font-family='"Liberation Serif", "Times New Roman", serif' font-size="43">μ</tspan>=1763, <tspan font-family='"Liberation Serif", "Times New Roman", serif' font-size="43">σ</tspan>=865)</text>
<text x="37.7" y="1473.7" font-size="55.5" font-weight="bold" textLength="51.0" lengthAdjust="spacingAndGlyphs" fill="#000">B.</text>
<line x1="1956.9" y1="2669.4" x2="3279.6" y2="2669.4" stroke="#DDDDDD" stroke-width="1.2"/>
<g fill="none" stroke-width="6.8" stroke-linejoin="round" stroke-linecap="round">
<path d="M2004.5,2669.4 L2006.5,2669.4 L2008.5,2669.4 L2010.5,2669.4 L2012.5,2669.4 L2014.5,2669.4 L2016.5,2669.4 L2018.5,2669.4 L2020.5,2669.4 L2022.5,2669.3 L2024.5,2669.3 L2026.5,2669.2 L2028.5,2669.0 L2030.5,2668.9 L2032.5,2668.7 L2034.5,2668.4 L2036.5,2668.2 L2038.5,2667.8 L2040.5,2667.5 L2042.5,2667.1 L2044.5,2666.6 L2046.5,2666.0 L2048.5,2665.3 L2050.5,2664.5 L2052.5,2663.5 L2054.5,2662.2 L2056.5,2660.6 L2058.5,2658.5 L2060.5,2655.7 L2062.5,2652.0 L2064.5,2647.5 L2066.5,2642.0 L2068.5,2635.5 L2070.5,2627.8 L2072.5,2618.8 L2074.5,2608.4 L2076.5,2596.7 L2078.5,2583.6 L2080.5,2569.1 L2082.5,2553.4 L2084.5,2536.5 L2086.5,2518.4 L2088.5,2499.5 L2090.5,2479.9 L2092.5,2460.1 L2094.5,2440.1 L2096.5,2420.0 L2098.5,2400.0 L2100.5,2379.9 L2102.5,2359.5 L2104.5,2338.7 L2106.5,2317.2 L2108.5,2295.1 L2110.5,2272.4 L2112.5,2249.3 L2114.5,2226.2 L2116.5,2203.1 L2118.5,2180.5 L2120.5,2158.7 L2122.5,2138.2 L2124.5,2119.2 L2126.5,2101.7 L2128.5,2085.7 L2130.5,2071.2 L2132.5,2057.7 L2134.5,2045.2 L2136.5,2033.5 L2138.5,2022.5 L2140.5,2012.2 L2142.5,2002.7 L2144.5,1994.3 L2146.5,1986.9 L2148.5,1980.6 L2150.5,1975.4 L2152.5,1971.2 L2154.5,1968.0 L2156.5,1965.5 L2158.5,1963.8 L2160.5,1962.6 L2162.5,1962.0 L2164.5,1962.0 L2166.5,1962.4 L2168.5,1963.3 L2170.5,1964.6 L2172.5,1966.4 L2174.5,1968.5 L2176.5,1971.0 L2178.5,1973.8 L2180.5,1976.8 L2182.5,1980.0 L2184.5,1983.3 L2186.5,1986.6 L2188.5,1990.1 L2190.5,1993.7 L2192.5,1997.4 L2194.5,2001.3 L2196.5,2005.2 L2198.5,2009.3 L2200.5,2013.4 L2202.5,2017.6 L2204.5,2021.9 L2206.5,2026.3 L2208.5,2030.8 L2210.5,2035.4 L2212.5,2040.1 L2214.5,2045.0 L2216.5,2050.1 L2218.5,2055.4 L2220.5,2061.1 L2222.5,2067.2 L2224.5,2073.7 L2226.5,2080.5 L2228.5,2087.5 L2230.5,2094.6 L2232.5,2101.8 L2234.5,2108.9 L2236.5,2115.9 L2238.5,2122.8 L2240.5,2129.6 L2242.5,2136.3 L2244.5,2143.0 L2246.5,2149.6 L2248.5,2156.3 L2250.5,2162.9 L2252.5,2169.6 L2254.5,2176.3 L2256.5,2182.9 L2258.5,2189.6 L2260.5,2196.3 L2262.5,2203.0 L2264.5,2209.7 L2266.5,2216.3 L2268.5,2222.8 L2270.5,2229.4 L2272.5,2235.8 L2274.5,2242.1 L2276.5,2248.3 L2278.5,2254.4 L2280.5,2260.4 L2282.5,2266.1 L2284.5,2271.7 L2286.5,2277.2 L2288.5,2282.5 L2290.5,2287.6 L2292.5,2292.6 L2294.5,2297.4 L2296.5,2302.1 L2298.5,2306.6 L2300.5,2311.1 L2302.5,2315.4 L2304.5,2319.7 L2306.5,2323.9 L2308.5,2328.0 L2310.5,2332.1 L2312.5,2336.1 L2314.5,2340.1 L2316.5,2344.0 L2318.5,2347.8 L2320.5,2351.6 L2322.5,2355.4 L2324.5,2359.2 L2326.5,2362.9 L2328.5,2366.6 L2330.5,2370.3 L2332.5,2374.0 L2334.5,2377.7 L2336.5,2381.3 L2338.5,2385.0 L2340.5,2388.7 L2342.5,2392.3 L2344.5,2396.0 L2346.5,2399.7 L2348.5,2403.4 L2350.5,2407.2 L2352.5,2410.9 L2354.5,2414.7 L2356.5,2418.5 L2358.5,2422.2 L2360.5,2426.0 L2362.5,2429.7 L2364.5,2433.4 L2366.5,2437.1 L2368.5,2440.8 L2370.5,2444.4 L2372.5,2448.1 L2374.5,2451.7 L2376.5,2455.4 L2378.5,2459.1 L2380.5,2462.7 L2382.5,2466.4 L2384.5,2470.0 L2386.5,2473.5 L2388.5,2476.9 L2390.5,2480.3 L2392.5,2483.5 L2394.5,2486.6 L2396.5,2489.6 L2398.5,2492.5 L2400.5,2495.3 L2402.5,2497.9 L2404.5,2500.5 L2406.5,2503.1 L2408.5,2505.6 L2410.5,2508.0 L2412.5,2510.3 L2414.5,2512.7 L2416.5,2514.9 L2418.5,2517.2 L2420.5,2519.4 L2422.5,2521.5 L2424.5,2523.6 L2426.5,2525.7 L2428.5,2527.7 L2430.5,2529.7 L2432.5,2531.7 L2434.5,2533.7 L2436.5,2535.6 L2438.5,2537.5 L2440.5,2539.4 L2442.5,2541.3 L2444.5,2543.2 L2446.5,2545.1 L2448.5,2547.0 L2450.5,2548.9 L2452.5,2550.8 L2454.5,2552.6 L2456.5,2554.5 L2458.5,2556.3 L2460.5,2558.1 L2462.5,2559.8 L2464.5,2561.6 L2466.5,2563.3 L2468.5,2564.9 L2470.5,2566.6 L2472.5,2568.1 L2474.5,2569.7 L2476.5,2571.3 L2478.5,2572.8 L2480.5,2574.3 L2482.5,2575.7 L2484.5,2577.2 L2486.5,2578.6 L2488.5,2580.0 L2490.5,2581.3 L2492.5,2582.7 L2494.5,2584.0 L2496.5,2585.2 L2498.5,2586.5 L2500.5,2587.7 L2502.5,2588.8 L2504.5,2589.9 L2506.5,2591.0 L2508.5,2592.1 L2510.5,2593.1 L2512.5,2594.2 L2514.5,2595.1 L2516.5,2596.1 L2518.5,2597.1 L2520.5,2598.0 L2522.5,2599.0 L2524.5,2600.0 L2526.5,2600.9 L2528.5,2601.9 L2530.5,2602.8 L2532.5,2603.8 L2534.5,2604.8 L2536.5,2605.8 L2538.5,2606.8 L2540.5,2607.9 L2542.5,2609.0 L2544.5,2610.1 L2546.5,2611.2 L2548.5,2612.3 L2550.5,2613.4 L2552.5,2614.6 L2554.5,2615.7 L2556.5,2616.8 L2558.5,2617.8 L2560.5,2618.9 L2562.5,2619.9 L2564.5,2620.9 L2566.5,2621.8 L2568.5,2622.7 L2570.5,2623.5 L2572.5,2624.3 L2574.5,2624.9 L2576.5,2625.6 L2578.5,2626.1 L2580.5,2626.7 L2582.5,2627.1 L2584.5,2627.6 L2586.5,2628.0 L2588.5,2628.4 L2590.5,2628.8 L2592.5,2629.3 L2594.5,2629.8 L2596.5,2630.3 L2598.5,2630.9 L2600.5,2631.5 L2602.5,2632.1 L2604.5,2632.8 L2606.5,2633.5 L2608.5,2634.3 L2610.5,2635.0 L2612.5,2635.8 L2614.5,2636.6 L2616.5,2637.3 L2618.5,2638.1 L2620.5,2638.8 L2622.5,2639.6 L2624.5,2640.3 L2626.5,2640.9 L2628.5,2641.6 L2630.5,2642.2 L2632.5,2642.7 L2634.5,2643.3 L2636.5,2643.8 L2638.5,2644.3 L2640.5,2644.8 L2642.5,2645.3 L2644.5,2645.8 L2646.5,2646.2 L2648.5,2646.7 L2650.5,2647.1 L2652.5,2647.6 L2654.5,2648.0 L2656.5,2648.4 L2658.5,2648.9 L2660.5,2649.3 L2662.5,2649.7 L2664.5,2650.1 L2666.5,2650.6 L2668.5,2651.0 L2670.5,2651.5 L2672.5,2652.0 L2674.5,2652.4 L2676.5,2652.9 L2678.5,2653.4 L2680.5,2653.9 L2682.5,2654.4 L2684.5,2654.8 L2686.5,2655.3 L2688.5,2655.7 L2690.5,2656.2 L2692.5,2656.6 L2694.5,2656.9 L2696.5,2657.3 L2698.5,2657.6 L2700.5,2657.9 L2702.5,2658.1 L2704.5,2658.3 L2706.5,2658.5 L2708.5,2658.7 L2710.5,2658.9 L2712.5,2659.1 L2714.5,2659.2 L2716.5,2659.4 L2718.5,2659.5 L2720.5,2659.6 L2722.5,2659.8 L2724.5,2659.9 L2726.5,2660.0 L2728.5,2660.1 L2730.5,2660.2 L2732.5,2660.4 L2734.5,2660.5 L2736.5,2660.6 L2738.5,2660.7 L2740.5,2660.8 L2742.5,2661.0 L2744.5,2661.1 L2746.5,2661.2 L2748.5,2661.3 L2750.5,2661.5 L2752.5,2661.6 L2754.5,2661.7 L2756.5,2661.8 L2758.5,2661.9 L2760.5,2662.1 L2762.5,2662.2 L2764.5,2662.3 L2766.5,2662.4 L2768.5,2662.5 L2770.5,2662.6 L2772.5,2662.8 L2774.5,2662.9 L2776.5,2663.0 L2778.5,2663.1 L2780.5,2663.2 L2782.5,2663.3 L2784.5,2663.4 L2786.5,2663.5 L2788.5,2663.6 L2790.5,2663.7 L2792.5,2663.8 L2794.5,2663.9 L2796.5,2664.0 L2798.5,2664.1 L2800.5,2664.2 L2802.5,2664.3 L2804.5,2664.4 L2806.5,2664.5 L2808.5,2664.6 L2810.5,2664.7 L2812.5,2664.7 L2814.5,2664.8 L2816.5,2664.9 L2818.5,2665.0 L2820.5,2665.1 L2822.5,2665.2 L2824.5,2665.3 L2826.5,2665.3 L2828.5,2665.4 L2830.5,2665.5 L2832.5,2665.6 L2834.5,2665.7 L2836.5,2665.7 L2838.5,2665.8 L2840.5,2665.9 L2842.5,2666.0 L2844.5,2666.0 L2846.5,2666.1 L2848.5,2666.2 L2850.5,2666.3 L2852.5,2666.3 L2854.5,2666.4 L2856.5,2666.5 L2858.5,2666.5 L2860.5,2666.6 L2862.5,2666.7 L2864.5,2666.7 L2866.5,2666.8 L2868.5,2666.8 L2870.5,2666.9 L2872.5,2666.9 L2874.5,2667.0 L2876.5,2667.0 L2878.5,2667.1 L2880.5,2667.1 L2882.5,2667.2 L2884.5,2667.2 L2886.5,2667.2 L2888.5,2667.3 L2890.5,2667.3 L2892.5,2667.4 L2894.5,2667.4 L2896.5,2667.4 L2898.5,2667.5 L2900.5,2667.5 L2902.5,2667.5 L2904.5,2667.6 L2906.5,2667.6 L2908.5,2667.6 L2910.5,2667.7 L2912.5,2667.7 L2914.5,2667.7 L2916.5,2667.7 L2918.5,2667.8 L2920.5,2667.8 L2922.5,2667.8 L2924.5,2667.9 L2926.5,2667.9 L2928.5,2667.9 L2930.5,2667.9 L2932.5,2668.0 L2934.5,2668.0 L2936.5,2668.0 L2938.5,2668.0 L2940.5,2668.1 L2942.5,2668.1 L2944.5,2668.1 L2946.5,2668.1 L2948.5,2668.2 L2950.5,2668.2 L2952.5,2668.2 L2954.5,2668.2 L2956.5,2668.3 L2958.5,2668.3 L2960.5,2668.3 L2962.5,2668.3 L2964.5,2668.3 L2966.5,2668.4 L2968.5,2668.4 L2970.5,2668.4 L2972.5,2668.4 L2974.5,2668.4 L2976.5,2668.5 L2978.5,2668.5 L2980.5,2668.5 L2982.5,2668.5 L2984.5,2668.5 L2986.5,2668.6 L2988.5,2668.6 L2990.5,2668.6 L2992.5,2668.6 L2994.5,2668.6 L2996.5,2668.6 L2998.5,2668.7 L3000.5,2668.7 L3002.5,2668.7 L3004.5,2668.7 L3006.5,2668.7 L3008.5,2668.7 L3010.5,2668.8 L3012.5,2668.8 L3014.5,2668.8 L3016.5,2668.8 L3018.5,2668.8 L3020.5,2668.8 L3022.5,2668.9 L3024.5,2668.9 L3026.5,2668.9 L3028.5,2668.9 L3030.5,2668.9 L3032.5,2668.9 L3034.5,2668.9 L3036.5,2669.0 L3038.5,2669.0 L3040.5,2669.0 L3042.5,2669.0 L3044.5,2669.0 L3046.5,2669.0 L3048.5,2669.0 L3050.5,2669.1 L3052.5,2669.1 L3054.5,2669.1 L3056.5,2669.1 L3058.5,2669.1 L3060.5,2669.1 L3062.5,2669.1 L3064.5,2669.1 L3066.5,2669.1 L3068.5,2669.2 L3070.5,2669.2 L3072.5,2669.2 L3074.5,2669.2 L3076.5,2669.2 L3078.5,2669.2 L3080.5,2669.2 L3082.5,2669.2 L3084.5,2669.2 L3086.5,2669.2 L3088.5,2669.3 L3090.5,2669.3 L3092.5,2669.3 L3094.5,2669.3 L3096.5,2669.3 L3098.5,2669.3 L3100.5,2669.3 L3102.5,2669.3 L3104.5,2669.3 L3106.5,2669.3 L3108.5,2669.3 L3110.5,2669.3 L3112.5,2669.3 L3114.5,2669.4 L3116.5,2669.4 L3118.5,2669.4 L3120.5,2669.4 L3122.5,2669.4 L3124.5,2669.4 L3126.5,2669.4 L3128.5,2669.4 L3130.5,2669.4 L3132.5,2669.4 L3134.5,2669.4 L3136.5,2669.4 L3138.5,2669.4 L3140.5,2669.4 L3142.5,2669.5 L3144.5,2669.5 L3146.5,2669.5 L3148.5,2669.5 L3150.5,2669.5 L3152.5,2669.5 L3154.5,2669.5 L3156.5,2669.5 L3158.5,2669.5 L3160.5,2669.5 L3162.5,2669.5 L3164.5,2669.5 L3166.5,2669.5 L3168.5,2669.5 L3170.5,2669.5 L3172.5,2669.5 L3174.5,2669.6 L3176.5,2669.6 L3178.5,2669.6 L3180.5,2669.6 L3182.5,2669.6 L3184.5,2669.6 L3186.5,2669.6 L3188.5,2669.6 L3190.5,2669.6 L3192.5,2669.6 L3194.5,2669.6 L3196.5,2669.6 L3198.5,2669.6 L3200.5,2669.6 L3202.5,2669.6 L3204.5,2669.6 L3206.5,2669.6 L3208.5,2669.6 L3210.5,2669.6 L3212.5,2669.6 L3214.5,2669.6 L3216.5,2669.6 L3218.5,2669.6 L3220.5,2669.6 L3222.5,2669.6 L3224.5,2669.6 L3226.5,2669.6 L3228.5,2669.6 L3230.5,2669.6 L3232.5,2669.6" stroke="#440154"/>
<path d="M2004.5,2669.4 L2006.5,2669.4 L2008.5,2669.4 L2010.5,2669.4 L2012.5,2669.4 L2014.5,2669.4 L2016.5,2669.4 L2018.5,2669.4 L2020.5,2669.4 L2022.5,2669.4 L2024.5,2669.4 L2026.5,2669.3 L2028.5,2669.3 L2030.5,2669.2 L2032.5,2669.2 L2034.5,2669.1 L2036.5,2669.0 L2038.5,2668.8 L2040.5,2668.7 L2042.5,2668.5 L2044.5,2668.3 L2046.5,2668.1 L2048.5,2667.8 L2050.5,2667.5 L2052.5,2667.1 L2054.5,2666.6 L2056.5,2666.0 L2058.5,2665.4 L2060.5,2664.6 L2062.5,2663.6 L2064.5,2662.3 L2066.5,2660.6 L2068.5,2658.5 L2070.5,2656.0 L2072.5,2653.1 L2074.5,2649.7 L2076.5,2646.0 L2078.5,2641.9 L2080.5,2637.3 L2082.5,2632.1 L2084.5,2626.3 L2086.5,2619.7 L2088.5,2612.3 L2090.5,2604.1 L2092.5,2594.9 L2094.5,2584.8 L2096.5,2573.7 L2098.5,2561.7 L2100.5,2548.8 L2102.5,2535.3 L2104.5,2521.1 L2106.5,2506.4 L2108.5,2491.2 L2110.5,2475.4 L2112.5,2458.9 L2114.5,2441.5 L2116.5,2422.9 L2118.5,2402.6 L2120.5,2380.4 L2122.5,2356.7 L2124.5,2332.4 L2126.5,2308.9 L2128.5,2287.3 L2130.5,2267.9 L2132.5,2250.3 L2134.5,2233.9 L2136.5,2218.4 L2138.5,2203.4 L2140.5,2188.9 L2142.5,2174.8 L2144.5,2161.0 L2146.5,2147.5 L2148.5,2134.2 L2150.5,2121.1 L2152.5,2107.9 L2154.5,2095.0 L2156.5,2082.6 L2158.5,2071.2 L2160.5,2061.0 L2162.5,2052.0 L2164.5,2044.4 L2166.5,2037.8 L2168.5,2032.3 L2170.5,2027.6 L2172.5,2023.6 L2174.5,2020.3 L2176.5,2017.3 L2178.5,2014.8 L2180.5,2012.5 L2182.5,2010.4 L2184.5,2008.6 L2186.5,2006.9 L2188.5,2005.5 L2190.5,2004.2 L2192.5,2003.2 L2194.5,2002.6 L2196.5,2002.3 L2198.5,2002.5 L2200.5,2003.0 L2202.5,2004.0 L2204.5,2005.3 L2206.5,2006.9 L2208.5,2008.8 L2210.5,2011.0 L2212.5,2013.4 L2214.5,2016.0 L2216.5,2018.8 L2218.5,2021.6 L2220.5,2024.6 L2222.5,2027.7 L2224.5,2031.0 L2226.5,2034.4 L2228.5,2038.0 L2230.5,2041.8 L2232.5,2045.7 L2234.5,2049.8 L2236.5,2054.1 L2238.5,2058.6 L2240.5,2063.2 L2242.5,2068.1 L2244.5,2073.3 L2246.5,2078.8 L2248.5,2084.5 L2250.5,2090.4 L2252.5,2096.4 L2254.5,2102.5 L2256.5,2108.4 L2258.5,2114.1 L2260.5,2119.6 L2262.5,2124.9 L2264.5,2130.0 L2266.5,2135.0 L2268.5,2140.0 L2270.5,2145.0 L2272.5,2150.0 L2274.5,2155.2 L2276.5,2160.5 L2278.5,2165.9 L2280.5,2171.5 L2282.5,2177.1 L2284.5,2182.8 L2286.5,2188.8 L2288.5,2194.8 L2290.5,2201.0 L2292.5,2207.2 L2294.5,2213.4 L2296.5,2219.4 L2298.5,2225.2 L2300.5,2230.7 L2302.5,2236.0 L2304.5,2241.1 L2306.5,2246.1 L2308.5,2251.1 L2310.5,2256.0 L2312.5,2260.9 L2314.5,2265.9 L2316.5,2270.9 L2318.5,2276.0 L2320.5,2281.0 L2322.5,2286.0 L2324.5,2290.9 L2326.5,2295.7 L2328.5,2300.5 L2330.5,2305.2 L2332.5,2309.8 L2334.5,2314.4 L2336.5,2318.9 L2338.5,2323.4 L2340.5,2327.9 L2342.5,2332.3 L2344.5,2336.7 L2346.5,2341.1 L2348.5,2345.5 L2350.5,2349.8 L2352.5,2354.1 L2354.5,2358.3 L2356.5,2362.6 L2358.5,2366.8 L2360.5,2371.0 L2362.5,2375.1 L2364.5,2379.3 L2366.5,2383.4 L2368.5,2387.5 L2370.5,2391.5 L2372.5,2395.6 L2374.5,2399.6 L2376.5,2403.6 L2378.5,2407.6 L2380.5,2411.6 L2382.5,2415.6 L2384.5,2419.5 L2386.5,2423.4 L2388.5,2427.3 L2390.5,2431.2 L2392.5,2435.0 L2394.5,2438.8 L2396.5,2442.5 L2398.5,2446.1 L2400.5,2449.7 L2402.5,2453.2 L2404.5,2456.6 L2406.5,2459.9 L2408.5,2463.1 L2410.5,2466.3 L2412.5,2469.4 L2414.5,2472.5 L2416.5,2475.5 L2418.5,2478.5 L2420.5,2481.4 L2422.5,2484.2 L2424.5,2487.0 L2426.5,2489.8 L2428.5,2492.5 L2430.5,2495.2 L2432.5,2497.8 L2434.5,2500.4 L2436.5,2503.0 L2438.5,2505.5 L2440.5,2508.0 L2442.5,2510.5 L2444.5,2512.9 L2446.5,2515.3 L2448.5,2517.7 L2450.5,2520.1 L2452.5,2522.4 L2454.5,2524.8 L2456.5,2527.2 L2458.5,2529.5 L2460.5,2531.8 L2462.5,2534.1 L2464.5,2536.4 L2466.5,2538.6 L2468.5,2540.8 L2470.5,2542.9 L2472.5,2545.0 L2474.5,2547.0 L2476.5,2549.0 L2478.5,2550.9 L2480.5,2552.8 L2482.5,2554.7 L2484.5,2556.5 L2486.5,2558.3 L2488.5,2560.0 L2490.5,2561.7 L2492.5,2563.3 L2494.5,2564.9 L2496.5,2566.4 L2498.5,2567.8 L2500.5,2569.2 L2502.5,2570.6 L2504.5,2571.8 L2506.5,2573.1 L2508.5,2574.3 L2510.5,2575.5 L2512.5,2576.7 L2514.5,2577.9 L2516.5,2579.1 L2518.5,2580.4 L2520.5,2581.8 L2522.5,2583.1 L2524.5,2584.6 L2526.5,2586.1 L2528.5,2587.6 L2530.5,2589.2 L2532.5,2590.7 L2534.5,2592.3 L2536.5,2593.8 L2538.5,2595.3 L2540.5,2596.8 L2542.5,2598.1 L2544.5,2599.4 L2546.5,2600.7 L2548.5,2601.8 L2550.5,2602.9 L2552.5,2604.0 L2554.5,2605.1 L2556.5,2606.1 L2558.5,2607.1 L2560.5,2608.1 L2562.5,2609.0 L2564.5,2610.0 L2566.5,2610.9 L2568.5,2611.8 L2570.5,2612.7 L2572.5,2613.6 L2574.5,2614.4 L2576.5,2615.3 L2578.5,2616.1 L2580.5,2616.9 L2582.5,2617.6 L2584.5,2618.4 L2586.5,2619.2 L2588.5,2620.0 L2590.5,2620.8 L2592.5,2621.6 L2594.5,2622.4 L2596.5,2623.3 L2598.5,2624.1 L2600.5,2625.0 L2602.5,2626.0 L2604.5,2626.9 L2606.5,2627.9 L2608.5,2628.8 L2610.5,2629.8 L2612.5,2630.8 L2614.5,2631.8 L2616.5,2632.7 L2618.5,2633.6 L2620.5,2634.6 L2622.5,2635.4 L2624.5,2636.3 L2626.5,2637.1 L2628.5,2637.8 L2630.5,2638.5 L2632.5,2639.2 L2634.5,2639.8 L2636.5,2640.4 L2638.5,2641.0 L2640.5,2641.5 L2642.5,2642.1 L2644.5,2642.6 L2646.5,2643.1 L2648.5,2643.6 L2650.5,2644.1 L2652.5,2644.5 L2654.5,2645.0 L2656.5,2645.4 L2658.5,2645.9 L2660.5,2646.3 L2662.5,2646.8 L2664.5,2647.3 L2666.5,2647.7 L2668.5,2648.2 L2670.5,2648.7 L2672.5,2649.2 L2674.5,2649.7 L2676.5,2650.2 L2678.5,2650.7 L2680.5,2651.2 L2682.5,2651.7 L2684.5,2652.2 L2686.5,2652.6 L2688.5,2653.1 L2690.5,2653.5 L2692.5,2654.0 L2694.5,2654.3 L2696.5,2654.7 L2698.5,2655.0 L2700.5,2655.3 L2702.5,2655.6 L2704.5,2655.9 L2706.5,2656.1 L2708.5,2656.3 L2710.5,2656.5 L2712.5,2656.7 L2714.5,2656.8 L2716.5,2657.0 L2718.5,2657.1 L2720.5,2657.3 L2722.5,2657.4 L2724.5,2657.6 L2726.5,2657.7 L2728.5,2657.9 L2730.5,2658.0 L2732.5,2658.1 L2734.5,2658.3 L2736.5,2658.4 L2738.5,2658.6 L2740.5,2658.7 L2742.5,2658.9 L2744.5,2659.0 L2746.5,2659.2 L2748.5,2659.4 L2750.5,2659.5 L2752.5,2659.7 L2754.5,2659.9 L2756.5,2660.0 L2758.5,2660.2 L2760.5,2660.4 L2762.5,2660.5 L2764.5,2660.7 L2766.5,2660.8 L2768.5,2661.0 L2770.5,2661.2 L2772.5,2661.3 L2774.5,2661.5 L2776.5,2661.7 L2778.5,2661.8 L2780.5,2662.0 L2782.5,2662.1 L2784.5,2662.3 L2786.5,2662.4 L2788.5,2662.6 L2790.5,2662.7 L2792.5,2662.8 L2794.5,2663.0 L2796.5,2663.1 L2798.5,2663.2 L2800.5,2663.4 L2802.5,2663.5 L2804.5,2663.6 L2806.5,2663.7 L2808.5,2663.8 L2810.5,2664.0 L2812.5,2664.1 L2814.5,2664.2 L2816.5,2664.3 L2818.5,2664.4 L2820.5,2664.5 L2822.5,2664.6 L2824.5,2664.7 L2826.5,2664.8 L2828.5,2664.9 L2830.5,2665.0 L2832.5,2665.0 L2834.5,2665.1 L2836.5,2665.2 L2838.5,2665.3 L2840.5,2665.4 L2842.5,2665.5 L2844.5,2665.6 L2846.5,2665.7 L2848.5,2665.7 L2850.5,2665.8 L2852.5,2665.9 L2854.5,2666.0 L2856.5,2666.1 L2858.5,2666.1 L2860.5,2666.2 L2862.5,2666.3 L2864.5,2666.3 L2866.5,2666.4 L2868.5,2666.5 L2870.5,2666.5 L2872.5,2666.6 L2874.5,2666.6 L2876.5,2666.7 L2878.5,2666.7 L2880.5,2666.8 L2882.5,2666.8 L2884.5,2666.8 L2886.5,2666.9 L2888.5,2666.9 L2890.5,2667.0 L2892.5,2667.0 L2894.5,2667.0 L2896.5,2667.1 L2898.5,2667.1 L2900.5,2667.1 L2902.5,2667.2 L2904.5,2667.2 L2906.5,2667.2 L2908.5,2667.3 L2910.5,2667.3 L2912.5,2667.3 L2914.5,2667.4 L2916.5,2667.4 L2918.5,2667.4 L2920.5,2667.4 L2922.5,2667.5 L2924.5,2667.5 L2926.5,2667.5 L2928.5,2667.5 L2930.5,2667.6 L2932.5,2667.6 L2934.5,2667.6 L2936.5,2667.6 L2938.5,2667.7 L2940.5,2667.7 L2942.5,2667.7 L2944.5,2667.7 L2946.5,2667.8 L2948.5,2667.8 L2950.5,2667.8 L2952.5,2667.8 L2954.5,2667.8 L2956.5,2667.9 L2958.5,2667.9 L2960.5,2667.9 L2962.5,2667.9 L2964.5,2668.0 L2966.5,2668.0 L2968.5,2668.0 L2970.5,2668.0 L2972.5,2668.0 L2974.5,2668.1 L2976.5,2668.1 L2978.5,2668.1 L2980.5,2668.1 L2982.5,2668.1 L2984.5,2668.2 L2986.5,2668.2 L2988.5,2668.2 L2990.5,2668.2 L2992.5,2668.3 L2994.5,2668.3 L2996.5,2668.3 L2998.5,2668.3 L3000.5,2668.4 L3002.5,2668.4 L3004.5,2668.4 L3006.5,2668.4 L3008.5,2668.5 L3010.5,2668.5 L3012.5,2668.5 L3014.5,2668.5 L3016.5,2668.5 L3018.5,2668.6 L3020.5,2668.6 L3022.5,2668.6 L3024.5,2668.6 L3026.5,2668.7 L3028.5,2668.7 L3030.5,2668.7 L3032.5,2668.7 L3034.5,2668.8 L3036.5,2668.8 L3038.5,2668.8 L3040.5,2668.8 L3042.5,2668.9 L3044.5,2668.9 L3046.5,2668.9 L3048.5,2668.9 L3050.5,2668.9 L3052.5,2669.0 L3054.5,2669.0 L3056.5,2669.0 L3058.5,2669.0 L3060.5,2669.0 L3062.5,2669.1 L3064.5,2669.1 L3066.5,2669.1 L3068.5,2669.1 L3070.5,2669.1 L3072.5,2669.1 L3074.5,2669.2 L3076.5,2669.2 L3078.5,2669.2 L3080.5,2669.2 L3082.5,2669.2 L3084.5,2669.2 L3086.5,2669.2 L3088.5,2669.3 L3090.5,2669.3 L3092.5,2669.3 L3094.5,2669.3 L3096.5,2669.3 L3098.5,2669.3 L3100.5,2669.3 L3102.5,2669.3 L3104.5,2669.3 L3106.5,2669.3 L3108.5,2669.3 L3110.5,2669.3 L3112.5,2669.3 L3114.5,2669.4 L3116.5,2669.4 L3118.5,2669.4 L3120.5,2669.4 L3122.5,2669.4 L3124.5,2669.4 L3126.5,2669.4 L3128.5,2669.4 L3130.5,2669.4 L3132.5,2669.4 L3134.5,2669.4 L3136.5,2669.4 L3138.5,2669.4 L3140.5,2669.4 L3142.5,2669.4 L3144.5,2669.5 L3146.5,2669.5 L3148.5,2669.5 L3150.5,2669.5 L3152.5,2669.5 L3154.5,2669.5 L3156.5,2669.5 L3158.5,2669.5 L3160.5,2669.5 L3162.5,2669.5 L3164.5,2669.5 L3166.5,2669.5 L3168.5,2669.5 L3170.5,2669.5 L3172.5,2669.5 L3174.5,2669.5 L3176.5,2669.5 L3178.5,2669.5 L3180.5,2669.6 L3182.5,2669.6 L3184.5,2669.6 L3186.5,2669.6 L3188.5,2669.6 L3190.5,2669.6 L3192.5,2669.6 L3194.5,2669.6 L3196.5,2669.6 L3198.5,2669.6 L3200.5,2669.6 L3202.5,2669.6 L3204.5,2669.6 L3206.5,2669.6 L3208.5,2669.6 L3210.5,2669.6 L3212.5,2669.6 L3214.5,2669.6 L3216.5,2669.6 L3218.5,2669.6 L3220.5,2669.6 L3222.5,2669.6 L3224.5,2669.6 L3226.5,2669.6 L3228.5,2669.6 L3230.5,2669.6 L3232.5,2669.6 L3234.5,2669.6 L3236.5,2669.6 L3238.5,2669.6 L3240.5,2669.6 L3242.5,2669.6 L3244.5,2669.6 L3246.5,2669.6 L3248.5,2669.6 L3250.5,2669.6 L3252.5,2669.6 L3254.5,2669.6" stroke="#31688E"/>
<path d="M2004.5,2669.4 L2006.5,2669.4 L2008.5,2669.4 L2010.5,2669.4 L2012.5,2669.4 L2014.5,2669.4 L2016.5,2669.4 L2018.5,2669.4 L2020.5,2669.4 L2022.5,2669.3 L2024.5,2669.3 L2026.5,2669.2 L2028.5,2669.1 L2030.5,2669.0 L2032.5,2668.9 L2034.5,2668.7 L2036.5,2668.5 L2038.5,2668.2 L2040.5,2667.9 L2042.5,2667.6 L2044.5,2667.1 L2046.5,2666.6 L2048.5,2665.8 L2050.5,2664.9 L2052.5,2663.8 L2054.5,2662.5 L2056.5,2661.0 L2058.5,2659.0 L2060.5,2656.6 L2062.5,2653.4 L2064.5,2649.4 L2066.5,2644.3 L2068.5,2638.0 L2070.5,2630.2 L2072.5,2620.8 L2074.5,2609.4 L2076.5,2595.9 L2078.5,2580.5 L2080.5,2563.4 L2082.5,2545.0 L2084.5,2525.6 L2086.5,2505.8 L2088.5,2485.8 L2090.5,2465.7 L2092.5,2445.7 L2094.5,2425.6 L2096.5,2405.3 L2098.5,2384.3 L2100.5,2361.8 L2102.5,2336.9 L2104.5,2308.5 L2106.5,2276.2 L2108.5,2240.4 L2110.5,2202.7 L2112.5,2165.1 L2114.5,2129.9 L2116.5,2098.7 L2118.5,2071.8 L2120.5,2048.8 L2122.5,2028.4 L2124.5,2010.0 L2126.5,1992.8 L2128.5,1976.5 L2130.5,1960.6 L2132.5,1944.9 L2134.5,1929.6 L2136.5,1915.2 L2138.5,1902.3 L2140.5,1891.5 L2142.5,1882.6 L2144.5,1875.5 L2146.5,1869.9 L2148.5,1865.4 L2150.5,1862.0 L2152.5,1859.7 L2154.5,1858.2 L2156.5,1857.6 L2158.5,1857.6 L2160.5,1858.4 L2162.5,1859.7 L2164.5,1861.7 L2166.5,1864.4 L2168.5,1867.8 L2170.5,1871.8 L2172.5,1876.3 L2174.5,1881.2 L2176.5,1886.3 L2178.5,1891.4 L2180.5,1896.4 L2182.5,1901.3 L2184.5,1906.1 L2186.5,1910.7 L2188.5,1915.3 L2190.5,1920.3 L2192.5,1925.9 L2194.5,1932.3 L2196.5,1939.1 L2198.5,1945.8 L2200.5,1952.3 L2202.5,1958.4 L2204.5,1964.5 L2206.5,1970.6 L2208.5,1977.1 L2210.5,1983.8 L2212.5,1990.7 L2214.5,1997.9 L2216.5,2005.1 L2218.5,2012.4 L2220.5,2019.7 L2222.5,2027.1 L2224.5,2034.6 L2226.5,2042.3 L2228.5,2050.1 L2230.5,2058.0 L2232.5,2066.1 L2234.5,2074.2 L2236.5,2082.5 L2238.5,2090.8 L2240.5,2099.2 L2242.5,2107.7 L2244.5,2116.1 L2246.5,2124.5 L2248.5,2132.9 L2250.5,2141.1 L2252.5,2149.3 L2254.5,2157.3 L2256.5,2165.1 L2258.5,2172.9 L2260.5,2180.6 L2262.5,2188.3 L2264.5,2195.9 L2266.5,2203.6 L2268.5,2211.3 L2270.5,2219.0 L2272.5,2226.7 L2274.5,2234.4 L2276.5,2242.1 L2278.5,2249.8 L2280.5,2257.4 L2282.5,2264.9 L2284.5,2272.3 L2286.5,2279.6 L2288.5,2286.6 L2290.5,2293.3 L2292.5,2299.7 L2294.5,2305.8 L2296.5,2311.7 L2298.5,2317.4 L2300.5,2323.0 L2302.5,2328.4 L2304.5,2333.6 L2306.5,2338.8 L2308.5,2343.9 L2310.5,2348.9 L2312.5,2353.8 L2314.5,2358.6 L2316.5,2363.3 L2318.5,2368.0 L2320.5,2372.7 L2322.5,2377.3 L2324.5,2382.0 L2326.5,2386.5 L2328.5,2391.1 L2330.5,2395.7 L2332.5,2400.4 L2334.5,2405.0 L2336.5,2409.7 L2338.5,2414.4 L2340.5,2419.1 L2342.5,2423.9 L2344.5,2428.7 L2346.5,2433.5 L2348.5,2438.3 L2350.5,2443.0 L2352.5,2447.6 L2354.5,2452.1 L2356.5,2456.4 L2358.5,2460.6 L2360.5,2464.7 L2362.5,2468.6 L2364.5,2472.5 L2366.5,2476.2 L2368.5,2479.9 L2370.5,2483.4 L2372.5,2486.8 L2374.5,2490.1 L2376.5,2493.2 L2378.5,2496.3 L2380.5,2499.3 L2382.5,2502.3 L2384.5,2505.1 L2386.5,2507.9 L2388.5,2510.6 L2390.5,2513.2 L2392.5,2515.9 L2394.5,2518.4 L2396.5,2520.9 L2398.5,2523.4 L2400.5,2525.9 L2402.5,2528.3 L2404.5,2530.7 L2406.5,2533.1 L2408.5,2535.4 L2410.5,2537.7 L2412.5,2539.9 L2414.5,2542.1 L2416.5,2544.2 L2418.5,2546.3 L2420.5,2548.4 L2422.5,2550.3 L2424.5,2552.2 L2426.5,2554.1 L2428.5,2555.9 L2430.5,2557.7 L2432.5,2559.4 L2434.5,2561.2 L2436.5,2562.9 L2438.5,2564.6 L2440.5,2566.3 L2442.5,2568.0 L2444.5,2569.7 L2446.5,2571.4 L2448.5,2573.2 L2450.5,2575.0 L2452.5,2576.8 L2454.5,2578.5 L2456.5,2580.3 L2458.5,2582.1 L2460.5,2583.8 L2462.5,2585.6 L2464.5,2587.3 L2466.5,2589.0 L2468.5,2590.6 L2470.5,2592.3 L2472.5,2594.0 L2474.5,2595.6 L2476.5,2597.3 L2478.5,2598.9 L2480.5,2600.5 L2482.5,2602.0 L2484.5,2603.4 L2486.5,2604.8 L2488.5,2606.1 L2490.5,2607.2 L2492.5,2608.3 L2494.5,2609.2 L2496.5,2610.1 L2498.5,2610.9 L2500.5,2611.6 L2502.5,2612.3 L2504.5,2613.0 L2506.5,2613.7 L2508.5,2614.4 L2510.5,2615.1 L2512.5,2615.9 L2514.5,2616.8 L2516.5,2617.8 L2518.5,2618.9 L2520.5,2620.0 L2522.5,2621.3 L2524.5,2622.6 L2526.5,2623.9 L2528.5,2625.2 L2530.5,2626.6 L2532.5,2627.8 L2534.5,2629.1 L2536.5,2630.3 L2538.5,2631.4 L2540.5,2632.4 L2542.5,2633.5 L2544.5,2634.4 L2546.5,2635.4 L2548.5,2636.3 L2550.5,2637.2 L2552.5,2638.1 L2554.5,2639.0 L2556.5,2639.9 L2558.5,2640.7 L2560.5,2641.5 L2562.5,2642.3 L2564.5,2643.0 L2566.5,2643.7 L2568.5,2644.4 L2570.5,2645.1 L2572.5,2645.7 L2574.5,2646.3 L2576.5,2646.9 L2578.5,2647.4 L2580.5,2647.9 L2582.5,2648.4 L2584.5,2648.9 L2586.5,2649.4 L2588.5,2649.8 L2590.5,2650.3 L2592.5,2650.7 L2594.5,2651.2 L2596.5,2651.6 L2598.5,2652.1 L2600.5,2652.5 L2602.5,2652.9 L2604.5,2653.4 L2606.5,2653.8 L2608.5,2654.3 L2610.5,2654.7 L2612.5,2655.1 L2614.5,2655.6 L2616.5,2656.0 L2618.5,2656.4 L2620.5,2656.8 L2622.5,2657.1 L2624.5,2657.5 L2626.5,2657.8 L2628.5,2658.1 L2630.5,2658.4 L2632.5,2658.7 L2634.5,2658.9 L2636.5,2659.2 L2638.5,2659.4 L2640.5,2659.6 L2642.5,2659.9 L2644.5,2660.1 L2646.5,2660.3 L2648.5,2660.5 L2650.5,2660.7 L2652.5,2660.8 L2654.5,2661.0 L2656.5,2661.2 L2658.5,2661.4 L2660.5,2661.6 L2662.5,2661.7 L2664.5,2661.9 L2666.5,2662.1 L2668.5,2662.3 L2670.5,2662.4 L2672.5,2662.6 L2674.5,2662.8 L2676.5,2663.0 L2678.5,2663.1 L2680.5,2663.3 L2682.5,2663.5 L2684.5,2663.6 L2686.5,2663.8 L2688.5,2664.0 L2690.5,2664.1 L2692.5,2664.3 L2694.5,2664.4 L2696.5,2664.6 L2698.5,2664.7 L2700.5,2664.8 L2702.5,2665.0 L2704.5,2665.1 L2706.5,2665.2 L2708.5,2665.3 L2710.5,2665.5 L2712.5,2665.6 L2714.5,2665.7 L2716.5,2665.8 L2718.5,2665.9 L2720.5,2666.0 L2722.5,2666.1 L2724.5,2666.2 L2726.5,2666.3 L2728.5,2666.4 L2730.5,2666.5 L2732.5,2666.5 L2734.5,2666.6 L2736.5,2666.7 L2738.5,2666.8 L2740.5,2666.8 L2742.5,2666.9 L2744.5,2667.0 L2746.5,2667.1 L2748.5,2667.1 L2750.5,2667.2 L2752.5,2667.2 L2754.5,2667.3 L2756.5,2667.4 L2758.5,2667.4 L2760.5,2667.5 L2762.5,2667.5 L2764.5,2667.6 L2766.5,2667.7 L2768.5,2667.7 L2770.5,2667.8 L2772.5,2667.8 L2774.5,2667.9 L2776.5,2667.9 L2778.5,2668.0 L2780.5,2668.0 L2782.5,2668.1 L2784.5,2668.1 L2786.5,2668.1 L2788.5,2668.2 L2790.5,2668.2 L2792.5,2668.3 L2794.5,2668.3 L2796.5,2668.3 L2798.5,2668.4 L2800.5,2668.4 L2802.5,2668.5 L2804.5,2668.5 L2806.5,2668.5 L2808.5,2668.5 L2810.5,2668.6 L2812.5,2668.6 L2814.5,2668.6 L2816.5,2668.7 L2818.5,2668.7 L2820.5,2668.7 L2822.5,2668.7 L2824.5,2668.8 L2826.5,2668.8 L2828.5,2668.8 L2830.5,2668.9 L2832.5,2668.9 L2834.5,2668.9 L2836.5,2668.9 L2838.5,2669.0 L2840.5,2669.0 L2842.5,2669.0 L2844.5,2669.0 L2846.5,2669.0 L2848.5,2669.1 L2850.5,2669.1 L2852.5,2669.1 L2854.5,2669.1 L2856.5,2669.1 L2858.5,2669.2 L2860.5,2669.2 L2862.5,2669.2 L2864.5,2669.2 L2866.5,2669.2 L2868.5,2669.2 L2870.5,2669.2 L2872.5,2669.3 L2874.5,2669.3 L2876.5,2669.3 L2878.5,2669.3 L2880.5,2669.3 L2882.5,2669.3 L2884.5,2669.3 L2886.5,2669.3 L2888.5,2669.3 L2890.5,2669.3 L2892.5,2669.3 L2894.5,2669.3 L2896.5,2669.3 L2898.5,2669.3 L2900.5,2669.3 L2902.5,2669.3 L2904.5,2669.3 L2906.5,2669.3 L2908.5,2669.3 L2910.5,2669.3 L2912.5,2669.4 L2914.5,2669.4 L2916.5,2669.4 L2918.5,2669.4 L2920.5,2669.4 L2922.5,2669.4 L2924.5,2669.4 L2926.5,2669.4 L2928.5,2669.4 L2930.5,2669.4 L2932.5,2669.4 L2934.5,2669.4 L2936.5,2669.4 L2938.5,2669.4 L2940.5,2669.4 L2942.5,2669.4 L2944.5,2669.4 L2946.5,2669.4 L2948.5,2669.4 L2950.5,2669.4 L2952.5,2669.4 L2954.5,2669.4 L2956.5,2669.4 L2958.5,2669.4 L2960.5,2669.4 L2962.5,2669.4 L2964.5,2669.4 L2966.5,2669.4 L2968.5,2669.5 L2970.5,2669.5 L2972.5,2669.5 L2974.5,2669.5 L2976.5,2669.5 L2978.5,2669.5 L2980.5,2669.5 L2982.5,2669.5 L2984.5,2669.5 L2986.5,2669.5 L2988.5,2669.5 L2990.5,2669.5 L2992.5,2669.5 L2994.5,2669.5 L2996.5,2669.5 L2998.5,2669.5 L3000.5,2669.5 L3002.5,2669.5 L3004.5,2669.5 L3006.5,2669.5 L3008.5,2669.5 L3010.5,2669.5 L3012.5,2669.5 L3014.5,2669.5 L3016.5,2669.5 L3018.5,2669.5 L3020.5,2669.5 L3022.5,2669.5 L3024.5,2669.5 L3026.5,2669.5 L3028.5,2669.5 L3030.5,2669.5 L3032.5,2669.5 L3034.5,2669.5 L3036.5,2669.5 L3038.5,2669.5 L3040.5,2669.5 L3042.5,2669.5 L3044.5,2669.6 L3046.5,2669.6 L3048.5,2669.6 L3050.5,2669.6 L3052.5,2669.6 L3054.5,2669.6 L3056.5,2669.6 L3058.5,2669.6 L3060.5,2669.6 L3062.5,2669.6 L3064.5,2669.6 L3066.5,2669.6 L3068.5,2669.6 L3070.5,2669.6 L3072.5,2669.6 L3074.5,2669.6 L3076.5,2669.6 L3078.5,2669.6 L3080.5,2669.6 L3082.5,2669.6 L3084.5,2669.6 L3086.5,2669.6 L3088.5,2669.6 L3090.5,2669.6 L3092.5,2669.6 L3094.5,2669.6 L3096.5,2669.6 L3098.5,2669.6 L3100.5,2669.6 L3102.5,2669.6 L3104.5,2669.6 L3106.5,2669.6 L3108.5,2669.6 L3110.5,2669.6 L3112.5,2669.6 L3114.5,2669.6 L3116.5,2669.6 L3118.5,2669.6 L3120.5,2669.6 L3122.5,2669.6 L3124.5,2669.6 L3126.5,2669.6 L3128.5,2669.6 L3130.5,2669.6 L3132.5,2669.6 L3134.5,2669.6 L3136.5,2669.6 L3138.5,2669.6 L3140.5,2669.6 L3142.5,2669.6 L3144.5,2669.6 L3146.5,2669.6 L3148.5,2669.6 L3150.5,2669.6 L3152.5,2669.6 L3154.5,2669.6 L3156.5,2669.6 L3158.5,2669.6 L3160.5,2669.6 L3162.5,2669.6 L3164.5,2669.6 L3166.5,2669.6 L3168.5,2669.6 L3170.5,2669.6 L3172.5,2669.6 L3174.5,2669.6 L3176.5,2669.6 L3178.5,2669.6 L3180.5,2669.6 L3182.5,2669.6 L3184.5,2669.6 L3186.5,2669.6 L3188.5,2669.6 L3190.5,2669.6 L3192.5,2669.6 L3194.5,2669.6 L3196.5,2669.6 L3198.5,2669.6 L3200.5,2669.6 L3202.5,2669.6 L3204.5,2669.6 L3206.5,2669.6 L3208.5,2669.6 L3210.5,2669.6 L3212.5,2669.6 L3214.5,2669.6 L3216.5,2669.6 L3218.5,2669.6 L3220.5,2669.6 L3222.5,2669.6 L3224.5,2669.6 L3226.5,2669.6 L3228.5,2669.6 L3230.5,2669.6 L3232.5,2669.6" stroke="#35B779"/>
<path d="M2004.5,2669.4 L2006.5,2669.4 L2008.5,2669.4 L2010.5,2669.4 L2012.5,2669.4 L2014.5,2669.4 L2016.5,2669.4 L2018.5,2669.3 L2020.5,2669.3 L2022.5,2669.2 L2024.5,2669.1 L2026.5,2668.9 L2028.5,2668.6 L2030.5,2668.3 L2032.5,2668.0 L2034.5,2667.5 L2036.5,2667.0 L2038.5,2666.3 L2040.5,2665.4 L2042.5,2664.3 L2044.5,2662.9 L2046.5,2661.2 L2048.5,2659.3 L2050.5,2657.0 L2052.5,2654.4 L2054.5,2651.2 L2056.5,2647.4 L2058.5,2642.9 L2060.5,2637.4 L2062.5,2631.1 L2064.5,2624.0 L2066.5,2615.9 L2068.5,2606.9 L2070.5,2596.6 L2072.5,2585.0 L2074.5,2571.6 L2076.5,2556.4 L2078.5,2539.2 L2080.5,2520.1 L2082.5,2499.4 L2084.5,2477.6 L2086.5,2455.2 L2088.5,2432.9 L2090.5,2410.9 L2092.5,2389.8 L2094.5,2369.4 L2096.5,2349.5 L2098.5,2329.5 L2100.5,2308.7 L2102.5,2286.7 L2104.5,2263.3 L2106.5,2238.8 L2108.5,2213.7 L2110.5,2188.6 L2112.5,2164.2 L2114.5,2141.1 L2116.5,2119.7 L2118.5,2100.1 L2120.5,2082.5 L2122.5,2066.6 L2124.5,2052.0 L2126.5,2038.2 L2128.5,2025.0 L2130.5,2012.7 L2132.5,2001.3 L2134.5,1991.4 L2136.5,1983.1 L2138.5,1976.4 L2140.5,1971.2 L2142.5,1967.3 L2144.5,1964.3 L2146.5,1962.2 L2148.5,1960.8 L2150.5,1960.1 L2152.5,1959.9 L2154.5,1960.2 L2156.5,1960.9 L2158.5,1962.0 L2160.5,1963.4 L2162.5,1965.2 L2164.5,1967.2 L2166.5,1969.4 L2168.5,1971.8 L2170.5,1974.4 L2172.5,1977.1 L2174.5,1980.0 L2176.5,1983.1 L2178.5,1986.2 L2180.5,1989.5 L2182.5,1992.9 L2184.5,1996.4 L2186.5,2000.1 L2188.5,2003.8 L2190.5,2007.7 L2192.5,2011.7 L2194.5,2015.7 L2196.5,2019.8 L2198.5,2023.9 L2200.5,2028.1 L2202.5,2032.4 L2204.5,2036.7 L2206.5,2041.3 L2208.5,2046.0 L2210.5,2050.9 L2212.5,2056.1 L2214.5,2061.7 L2216.5,2067.8 L2218.5,2074.4 L2220.5,2081.3 L2222.5,2088.6 L2224.5,2096.0 L2226.5,2103.3 L2228.5,2110.5 L2230.5,2117.4 L2232.5,2124.1 L2234.5,2130.6 L2236.5,2136.9 L2238.5,2143.1 L2240.5,2149.3 L2242.5,2155.5 L2244.5,2161.8 L2246.5,2168.0 L2248.5,2174.2 L2250.5,2180.5 L2252.5,2186.7 L2254.5,2193.0 L2256.5,2199.2 L2258.5,2205.5 L2260.5,2211.8 L2262.5,2218.0 L2264.5,2224.3 L2266.5,2230.7 L2268.5,2237.0 L2270.5,2243.3 L2272.5,2249.4 L2274.5,2255.5 L2276.5,2261.3 L2278.5,2266.9 L2280.5,2272.3 L2282.5,2277.5 L2284.5,2282.5 L2286.5,2287.4 L2288.5,2292.1 L2290.5,2296.7 L2292.5,2301.2 L2294.5,2305.6 L2296.5,2310.0 L2298.5,2314.2 L2300.5,2318.4 L2302.5,2322.5 L2304.5,2326.6 L2306.5,2330.6 L2308.5,2334.5 L2310.5,2338.4 L2312.5,2342.3 L2314.5,2346.1 L2316.5,2349.9 L2318.5,2353.7 L2320.5,2357.4 L2322.5,2361.1 L2324.5,2364.8 L2326.5,2368.5 L2328.5,2372.1 L2330.5,2375.8 L2332.5,2379.4 L2334.5,2383.1 L2336.5,2386.7 L2338.5,2390.4 L2340.5,2394.1 L2342.5,2397.8 L2344.5,2401.5 L2346.5,2405.2 L2348.5,2408.9 L2350.5,2412.7 L2352.5,2416.4 L2354.5,2420.2 L2356.5,2423.9 L2358.5,2427.6 L2360.5,2431.4 L2362.5,2435.1 L2364.5,2438.8 L2366.5,2442.4 L2368.5,2446.1 L2370.5,2449.7 L2372.5,2453.4 L2374.5,2457.1 L2376.5,2460.7 L2378.5,2464.4 L2380.5,2468.0 L2382.5,2471.6 L2384.5,2475.1 L2386.5,2478.5 L2388.5,2481.8 L2390.5,2484.9 L2392.5,2488.0 L2394.5,2490.9 L2396.5,2493.8 L2398.5,2496.5 L2400.5,2499.1 L2402.5,2501.7 L2404.5,2504.2 L2406.5,2506.7 L2408.5,2509.1 L2410.5,2511.4 L2412.5,2513.7 L2414.5,2516.0 L2416.5,2518.2 L2418.5,2520.4 L2420.5,2522.5 L2422.5,2524.6 L2424.5,2526.6 L2426.5,2528.7 L2428.5,2530.6 L2430.5,2532.6 L2432.5,2534.5 L2434.5,2536.5 L2436.5,2538.4 L2438.5,2540.3 L2440.5,2542.2 L2442.5,2544.1 L2444.5,2546.0 L2446.5,2547.9 L2448.5,2549.7 L2450.5,2551.6 L2452.5,2553.5 L2454.5,2555.3 L2456.5,2557.1 L2458.5,2558.9 L2460.5,2560.6 L2462.5,2562.3 L2464.5,2564.0 L2466.5,2565.7 L2468.5,2567.3 L2470.5,2568.9 L2472.5,2570.4 L2474.5,2571.9 L2476.5,2573.5 L2478.5,2574.9 L2480.5,2576.4 L2482.5,2577.8 L2484.5,2579.2 L2486.5,2580.6 L2488.5,2582.0 L2490.5,2583.3 L2492.5,2584.6 L2494.5,2585.8 L2496.5,2587.0 L2498.5,2588.2 L2500.5,2589.3 L2502.5,2590.4 L2504.5,2591.5 L2506.5,2592.6 L2508.5,2593.6 L2510.5,2594.6 L2512.5,2595.6 L2514.5,2596.6 L2516.5,2597.5 L2518.5,2598.5 L2520.5,2599.4 L2522.5,2600.4 L2524.5,2601.3 L2526.5,2602.3 L2528.5,2603.3 L2530.5,2604.2 L2532.5,2605.2 L2534.5,2606.3 L2536.5,2607.3 L2538.5,2608.3 L2540.5,2609.4 L2542.5,2610.5 L2544.5,2611.6 L2546.5,2612.7 L2548.5,2613.8 L2550.5,2614.9 L2552.5,2615.9 L2554.5,2617.0 L2556.5,2618.1 L2558.5,2619.1 L2560.5,2620.1 L2562.5,2621.0 L2564.5,2622.0 L2566.5,2622.9 L2568.5,2623.7 L2570.5,2624.5 L2572.5,2625.2 L2574.5,2625.9 L2576.5,2626.6 L2578.5,2627.2 L2580.5,2627.7 L2582.5,2628.3 L2584.5,2628.8 L2586.5,2629.3 L2588.5,2629.8 L2590.5,2630.4 L2592.5,2630.9 L2594.5,2631.5 L2596.5,2632.1 L2598.5,2632.7 L2600.5,2633.4 L2602.5,2634.1 L2604.5,2634.8 L2606.5,2635.6 L2608.5,2636.3 L2610.5,2637.1 L2612.5,2637.8 L2614.5,2638.6 L2616.5,2639.4 L2618.5,2640.1 L2620.5,2640.8 L2622.5,2641.5 L2624.5,2642.2 L2626.5,2642.8 L2628.5,2643.4 L2630.5,2644.0 L2632.5,2644.5 L2634.5,2645.0 L2636.5,2645.5 L2638.5,2645.9 L2640.5,2646.3 L2642.5,2646.8 L2644.5,2647.2 L2646.5,2647.6 L2648.5,2647.9 L2650.5,2648.3 L2652.5,2648.7 L2654.5,2649.1 L2656.5,2649.4 L2658.5,2649.8 L2660.5,2650.2 L2662.5,2650.5 L2664.5,2650.9 L2666.5,2651.3 L2668.5,2651.7 L2670.5,2652.2 L2672.5,2652.6 L2674.5,2653.0 L2676.5,2653.5 L2678.5,2653.9 L2680.5,2654.4 L2682.5,2654.8 L2684.5,2655.3 L2686.5,2655.7 L2688.5,2656.2 L2690.5,2656.6 L2692.5,2657.0 L2694.5,2657.3 L2696.5,2657.7 L2698.5,2658.0 L2700.5,2658.2 L2702.5,2658.5 L2704.5,2658.7 L2706.5,2658.9 L2708.5,2659.1 L2710.5,2659.3 L2712.5,2659.4 L2714.5,2659.6 L2716.5,2659.7 L2718.5,2659.9 L2720.5,2660.0 L2722.5,2660.1 L2724.5,2660.2 L2726.5,2660.4 L2728.5,2660.5 L2730.5,2660.6 L2732.5,2660.7 L2734.5,2660.8 L2736.5,2660.9 L2738.5,2661.1 L2740.5,2661.2 L2742.5,2661.3 L2744.5,2661.4 L2746.5,2661.6 L2748.5,2661.7 L2750.5,2661.8 L2752.5,2661.9 L2754.5,2662.1 L2756.5,2662.2 L2758.5,2662.3 L2760.5,2662.4 L2762.5,2662.5 L2764.5,2662.6 L2766.5,2662.8 L2768.5,2662.9 L2770.5,2663.0 L2772.5,2663.1 L2774.5,2663.2 L2776.5,2663.3 L2778.5,2663.4 L2780.5,2663.6 L2782.5,2663.7 L2784.5,2663.8 L2786.5,2663.9 L2788.5,2664.0 L2790.5,2664.1 L2792.5,2664.2 L2794.5,2664.3 L2796.5,2664.4 L2798.5,2664.5 L2800.5,2664.6 L2802.5,2664.7 L2804.5,2664.8 L2806.5,2664.8 L2808.5,2664.9 L2810.5,2665.0 L2812.5,2665.1 L2814.5,2665.2 L2816.5,2665.3 L2818.5,2665.4 L2820.5,2665.5 L2822.5,2665.5 L2824.5,2665.6 L2826.5,2665.7 L2828.5,2665.8 L2830.5,2665.9 L2832.5,2666.0 L2834.5,2666.0 L2836.5,2666.1 L2838.5,2666.2 L2840.5,2666.3 L2842.5,2666.4 L2844.5,2666.4 L2846.5,2666.5 L2848.5,2666.6 L2850.5,2666.7 L2852.5,2666.7 L2854.5,2666.8 L2856.5,2666.9 L2858.5,2666.9 L2860.5,2667.0 L2862.5,2667.1 L2864.5,2667.1 L2866.5,2667.2 L2868.5,2667.2 L2870.5,2667.3 L2872.5,2667.3 L2874.5,2667.4 L2876.5,2667.4 L2878.5,2667.4 L2880.5,2667.5 L2882.5,2667.5 L2884.5,2667.5 L2886.5,2667.6 L2888.5,2667.6 L2890.5,2667.6 L2892.5,2667.7 L2894.5,2667.7 L2896.5,2667.7 L2898.5,2667.7 L2900.5,2667.8 L2902.5,2667.8 L2904.5,2667.8 L2906.5,2667.8 L2908.5,2667.9 L2910.5,2667.9 L2912.5,2667.9 L2914.5,2667.9 L2916.5,2668.0 L2918.5,2668.0 L2920.5,2668.0 L2922.5,2668.0 L2924.5,2668.0 L2926.5,2668.1 L2928.5,2668.1 L2930.5,2668.1 L2932.5,2668.1 L2934.5,2668.1 L2936.5,2668.2 L2938.5,2668.2 L2940.5,2668.2 L2942.5,2668.2 L2944.5,2668.2 L2946.5,2668.2 L2948.5,2668.3 L2950.5,2668.3 L2952.5,2668.3 L2954.5,2668.3 L2956.5,2668.3 L2958.5,2668.3 L2960.5,2668.4 L2962.5,2668.4 L2964.5,2668.4 L2966.5,2668.4 L2968.5,2668.4 L2970.5,2668.4 L2972.5,2668.4 L2974.5,2668.5 L2976.5,2668.5 L2978.5,2668.5 L2980.5,2668.5 L2982.5,2668.5 L2984.5,2668.5 L2986.5,2668.6 L2988.5,2668.6 L2990.5,2668.6 L2992.5,2668.6 L2994.5,2668.6 L2996.5,2668.6 L2998.5,2668.7 L3000.5,2668.7 L3002.5,2668.7 L3004.5,2668.7 L3006.5,2668.7 L3008.5,2668.7 L3010.5,2668.7 L3012.5,2668.8 L3014.5,2668.8 L3016.5,2668.8 L3018.5,2668.8 L3020.5,2668.8 L3022.5,2668.8 L3024.5,2668.9 L3026.5,2668.9 L3028.5,2668.9 L3030.5,2668.9 L3032.5,2668.9 L3034.5,2668.9 L3036.5,2668.9 L3038.5,2669.0 L3040.5,2669.0 L3042.5,2669.0 L3044.5,2669.0 L3046.5,2669.0 L3048.5,2669.0 L3050.5,2669.0 L3052.5,2669.1 L3054.5,2669.1 L3056.5,2669.1 L3058.5,2669.1 L3060.5,2669.1 L3062.5,2669.1 L3064.5,2669.1 L3066.5,2669.1 L3068.5,2669.2 L3070.5,2669.2 L3072.5,2669.2 L3074.5,2669.2 L3076.5,2669.2 L3078.5,2669.2 L3080.5,2669.2 L3082.5,2669.2 L3084.5,2669.2 L3086.5,2669.2 L3088.5,2669.3 L3090.5,2669.3 L3092.5,2669.3 L3094.5,2669.3 L3096.5,2669.3 L3098.5,2669.3 L3100.5,2669.3 L3102.5,2669.3 L3104.5,2669.3 L3106.5,2669.3 L3108.5,2669.3 L3110.5,2669.3 L3112.5,2669.3 L3114.5,2669.4 L3116.5,2669.4 L3118.5,2669.4 L3120.5,2669.4 L3122.5,2669.4 L3124.5,2669.4 L3126.5,2669.4 L3128.5,2669.4 L3130.5,2669.4 L3132.5,2669.4 L3134.5,2669.4 L3136.5,2669.4 L3138.5,2669.4 L3140.5,2669.4 L3142.5,2669.5 L3144.5,2669.5 L3146.5,2669.5 L3148.5,2669.5 L3150.5,2669.5 L3152.5,2669.5 L3154.5,2669.5 L3156.5,2669.5 L3158.5,2669.5 L3160.5,2669.5 L3162.5,2669.5 L3164.5,2669.5 L3166.5,2669.5 L3168.5,2669.5 L3170.5,2669.5 L3172.5,2669.5 L3174.5,2669.6 L3176.5,2669.6 L3178.5,2669.6 L3180.5,2669.6 L3182.5,2669.6 L3184.5,2669.6 L3186.5,2669.6 L3188.5,2669.6 L3190.5,2669.6 L3192.5,2669.6 L3194.5,2669.6 L3196.5,2669.6 L3198.5,2669.6 L3200.5,2669.6 L3202.5,2669.6 L3204.5,2669.6 L3206.5,2669.6 L3208.5,2669.6 L3210.5,2669.6 L3212.5,2669.6 L3214.5,2669.6 L3216.5,2669.6 L3218.5,2669.6 L3220.5,2669.6 L3222.5,2669.6 L3224.5,2669.6 L3226.5,2669.6 L3228.5,2669.6 L3230.5,2669.6 L3232.5,2669.6" stroke="#FDE725"/>
</g>
<rect x="1956.9" y="1509.0" width="1322.6999999999998" height="1204.6999999999998" fill="none" stroke="#000" stroke-width="2"/>
<g stroke="#000" stroke-width="2"><line x1="2020.8" y1="2713.7" x2="2020.8" y2="2733.7"/><line x1="2259.5" y1="2713.7" x2="2259.5" y2="2733.7"/><line x1="2498.2" y1="2713.7" x2="2498.2" y2="2733.7"/><line x1="2736.9" y1="2713.7" x2="2736.9" y2="2733.7"/><line x1="2975.6" y1="2713.7" x2="2975.6" y2="2733.7"/><line x1="3214.3" y1="2713.7" x2="3214.3" y2="2733.7"/><line x1="1956.9" y1="2669.4" x2="1936.9" y2="2669.4"/><line x1="1956.9" y1="2390.2" x2="1936.9" y2="2390.2"/><line x1="1956.9" y1="2111.0" x2="1936.9" y2="2111.0"/><line x1="1956.9" y1="1831.8" x2="1936.9" y2="1831.8"/><line x1="1956.9" y1="1552.6" x2="1936.9" y2="1552.6"/></g>
<text x="2020.8" y="2785.6" font-size="43.3" text-anchor="middle" fill="#000">0</text>
<text x="2259.5" y="2785.6" font-size="43.3" text-anchor="middle" fill="#000">2000</text>
<text x="2498.2" y="2785.6" font-size="43.3" text-anchor="middle" fill="#000">4000</text>
<text x="2736.9" y="2785.6" font-size="43.3" text-anchor="middle" fill="#000">6000</text>
<text x="2975.6" y="2785.6" font-size="43.3" text-anchor="middle" fill="#000">8000</text>
<text x="3214.3" y="2785.6" font-size="43.3" text-anchor="middle" fill="#000">10000</text>
<text x="1909.8" y="2669.4" font-size="42.6" text-anchor="middle" fill="#000" transform="rotate(-90 1909.8 2669.4)">0e+00</text>
<text x="1909.8" y="2390.2" font-size="42.6" text-anchor="middle" fill="#000" transform="rotate(-90 1909.8 2390.2)">2e-04</text>
<text x="1909.8" y="2111.0" font-size="42.6" text-anchor="middle" fill="#000" transform="rotate(-90 1909.8 2111.0)">4e-04</text>
<text x="1909.8" y="1831.8" font-size="42.6" text-anchor="middle" fill="#000" transform="rotate(-90 1909.8 1831.8)">6e-04</text>
<text x="1909.8" y="1552.6" font-size="42.6" text-anchor="middle" fill="#000" transform="rotate(-90 1909.8 1552.6)">8e-04</text>
<text x="2618.0" y="2861.9" font-size="49.3" text-anchor="middle" fill="#000">Transcript length (bp)</text>
<text x="1832.0" y="2113.0" font-size="49" text-anchor="middle" fill="#000" transform="rotate(-90 1832 2113)">Density</text>
<line x1="2534.4" y1="1880.0" x2="2603.2" y2="1880.0" stroke="#440154" stroke-width="6.8" stroke-linecap="round"/>
<text x="2637.5" y="1889.7" font-size="38.5">F01-CHX- (<tspan font-family='"Liberation Serif", "Times New Roman", serif'>μ</tspan> = 1989, <tspan font-family='"Liberation Serif", "Times New Roman", serif'>σ</tspan> = 1088)</text>
<line x1="2534.4" y1="1926.9" x2="2603.2" y2="1926.9" stroke="#31688E" stroke-width="6.8" stroke-linecap="round"/>
<text x="2637.5" y="1936.6" font-size="38.5">F01-CHX+ (<tspan font-family='"Liberation Serif", "Times New Roman", serif'>μ</tspan> = 2155, <tspan font-family='"Liberation Serif", "Times New Roman", serif'>σ</tspan> = 1073)</text>
<line x1="2534.4" y1="1973.8" x2="2603.2" y2="1973.8" stroke="#35B779" stroke-width="6.8" stroke-linecap="round"/>
<text x="2637.5" y="1983.5" font-size="38.5">F02-CHX+ (<tspan font-family='"Liberation Serif", "Times New Roman", serif'>μ</tspan> = 1806, <tspan font-family='"Liberation Serif", "Times New Roman", serif'>σ</tspan> = 907)</text>
<line x1="2534.4" y1="2020.7" x2="2603.2" y2="2020.7" stroke="#FDE725" stroke-width="6.8" stroke-linecap="round"/>
<text x="2637.5" y="2030.4" font-size="38.5">F02-CHX- (<tspan font-family='"Liberation Serif", "Times New Roman", serif'>μ</tspan> = 1943, <tspan font-family='"Liberation Serif", "Times New Roman", serif'>σ</tspan> = 1064)</text>
<text x="1758.8" y="1496.2" font-size="55.5" font-weight="bold" textLength="50.0" lengthAdjust="spacingAndGlyphs" fill="#000">C.</text>
</svg></body></html>
